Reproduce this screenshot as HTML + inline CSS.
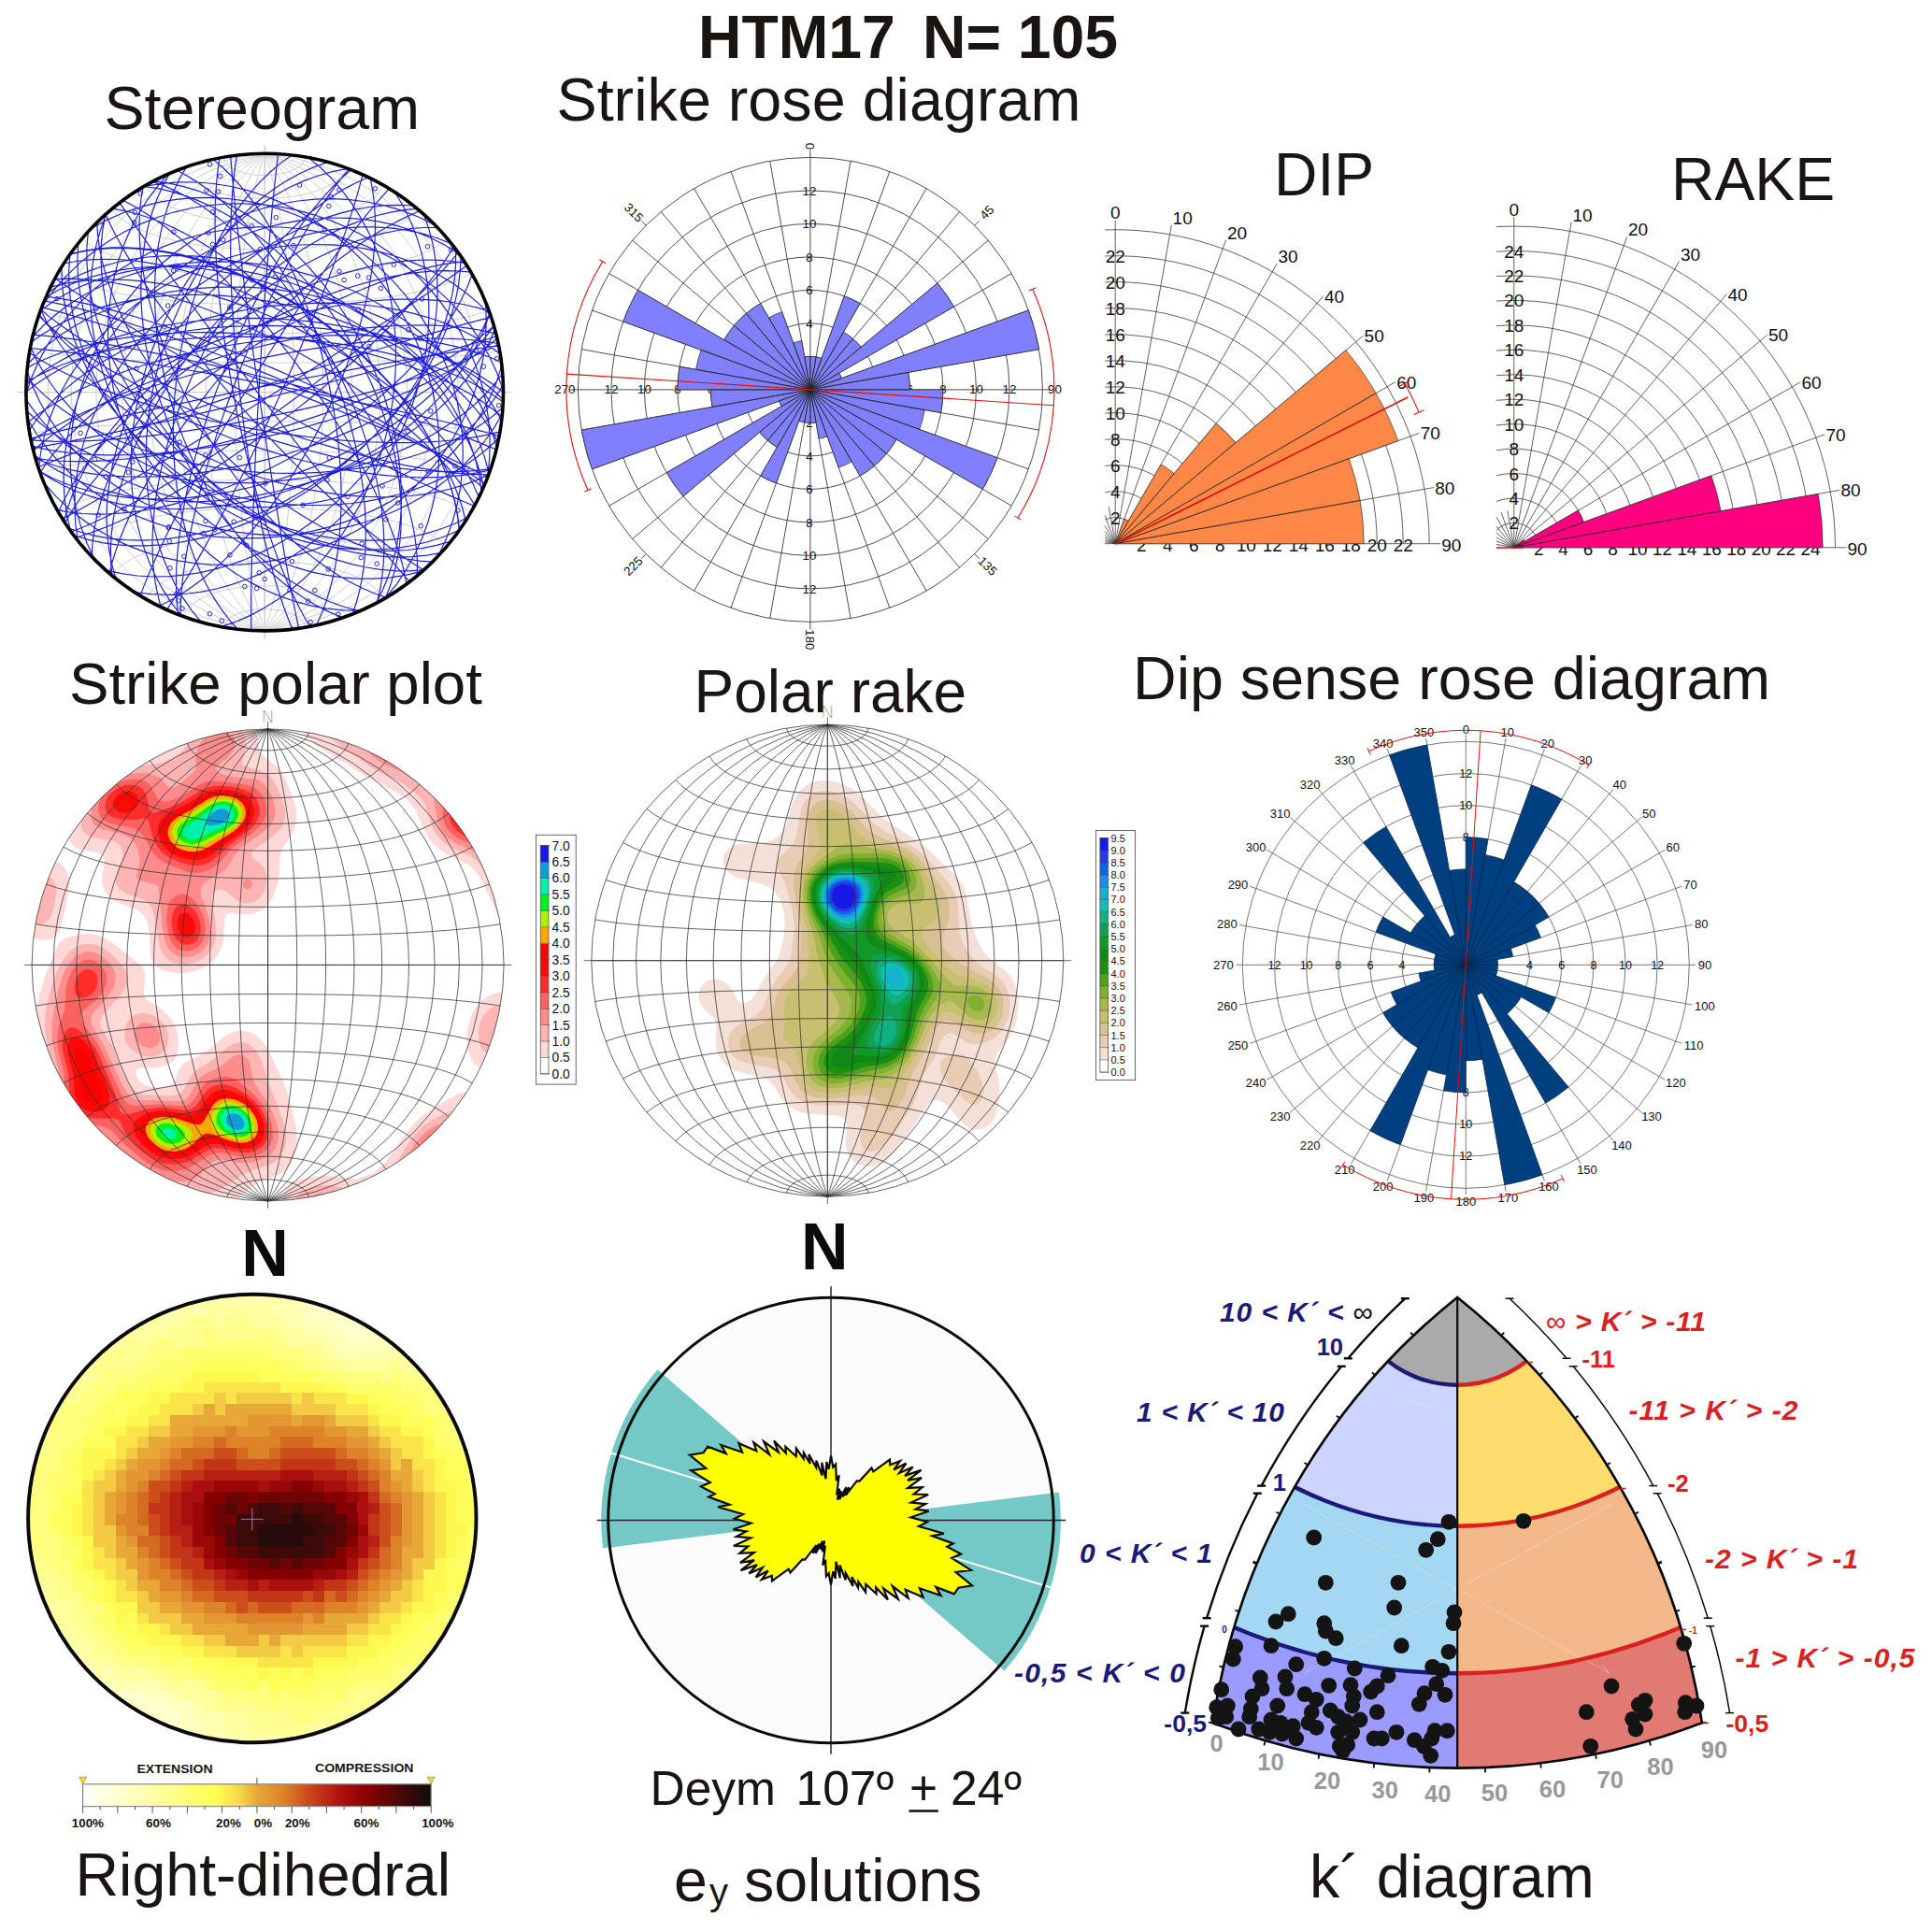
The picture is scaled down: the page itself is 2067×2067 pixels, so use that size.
<!DOCTYPE html>
<html><head><meta charset="utf-8"><title>HTM17</title>
<style>html,body{margin:0;padding:0;background:#fff}body{width:2067px;height:2067px;overflow:hidden;font-family:"Liberation Sans",sans-serif}svg{display:block}</style>
</head><body>
<svg width="2067" height="2067" viewBox="0 0 2067 2067" font-family="Liberation Sans, sans-serif">
<rect width="2067" height="2067" fill="#fff"/>
<g font-family="Liberation Sans, sans-serif"><text x="747" y="62" font-size="64.3" font-weight="bold" fill="#1a1512">HTM17</text><text x="987" y="62" font-size="64.3" font-weight="bold" fill="#1a1512">N= 105</text><text x="111.5" y="137.5" font-size="64.6" fill="#1a1512">Stereogram</text><text x="595.5" y="129" font-size="64.7" fill="#1a1512">Strike rose diagram</text><text x="1363" y="208.5" font-size="64.3" fill="#1a1512">DIP</text><text x="1788" y="214" font-size="64.3" fill="#1a1512">RAKE</text></g>
<g id="strikerose">
<g fill="none" stroke="#3a3a3a" stroke-width="0.9"><circle cx="866.9" cy="416.9" r="35.5"/><circle cx="866.9" cy="416.9" r="71"/><circle cx="866.9" cy="416.9" r="106.5"/><circle cx="866.9" cy="416.9" r="142"/><circle cx="866.9" cy="416.9" r="177.5"/><circle cx="866.9" cy="416.9" r="213"/><circle cx="866.9" cy="416.9" r="248.5"/><line x1="866.9" y1="416.9" x2="866.9" y2="160.4"/><line x1="866.9" y1="416.9" x2="910.1" y2="172.2"/><line x1="866.9" y1="416.9" x2="951.9" y2="183.4"/><line x1="866.9" y1="416.9" x2="991.1" y2="201.7"/><line x1="866.9" y1="416.9" x2="1026.6" y2="226.5"/><line x1="866.9" y1="416.9" x2="1057.3" y2="257.2"/><line x1="866.9" y1="416.9" x2="1082.1" y2="292.6"/><line x1="866.9" y1="416.9" x2="1100.4" y2="331.9"/><line x1="866.9" y1="416.9" x2="1111.6" y2="373.7"/><line x1="866.9" y1="416.9" x2="1123.4" y2="416.9"/><line x1="866.9" y1="416.9" x2="1111.6" y2="460.1"/><line x1="866.9" y1="416.9" x2="1100.4" y2="501.9"/><line x1="866.9" y1="416.9" x2="1082.1" y2="541.1"/><line x1="866.9" y1="416.9" x2="1057.3" y2="576.6"/><line x1="866.9" y1="416.9" x2="1026.6" y2="607.3"/><line x1="866.9" y1="416.9" x2="991.1" y2="632.1"/><line x1="866.9" y1="416.9" x2="951.9" y2="650.4"/><line x1="866.9" y1="416.9" x2="910.1" y2="661.6"/><line x1="866.9" y1="416.9" x2="866.9" y2="673.4"/><line x1="866.9" y1="416.9" x2="823.7" y2="661.6"/><line x1="866.9" y1="416.9" x2="781.9" y2="650.4"/><line x1="866.9" y1="416.9" x2="742.6" y2="632.1"/><line x1="866.9" y1="416.9" x2="707.2" y2="607.3"/><line x1="866.9" y1="416.9" x2="676.5" y2="576.6"/><line x1="866.9" y1="416.9" x2="651.7" y2="541.2"/><line x1="866.9" y1="416.9" x2="633.4" y2="501.9"/><line x1="866.9" y1="416.9" x2="622.2" y2="460.1"/><line x1="866.9" y1="416.9" x2="610.4" y2="416.9"/><line x1="866.9" y1="416.9" x2="622.2" y2="373.7"/><line x1="866.9" y1="416.9" x2="633.4" y2="331.9"/><line x1="866.9" y1="416.9" x2="651.7" y2="292.6"/><line x1="866.9" y1="416.9" x2="676.5" y2="257.2"/><line x1="866.9" y1="416.9" x2="707.2" y2="226.5"/><line x1="866.9" y1="416.9" x2="742.6" y2="201.7"/><line x1="866.9" y1="416.9" x2="781.9" y2="183.4"/><line x1="866.9" y1="416.9" x2="823.7" y2="172.2"/><line x1="1042.6" y1="241.2" x2="1047.6" y2="236.2"/><line x1="1042.6" y1="592.6" x2="1047.6" y2="597.6"/><line x1="691.2" y1="592.6" x2="686.2" y2="597.6"/><line x1="691.2" y1="241.2" x2="686.2" y2="236.2"/></g>
<g font-family="Liberation Sans, sans-serif"><text x="865.9" y="457.4" font-size="13.3" text-anchor="middle" fill="#111">2</text><text x="902.4" y="421.4" font-size="13.3" text-anchor="middle" fill="#111">2</text><text x="831.4" y="421.4" font-size="13.3" text-anchor="middle" fill="#111">2</text><text x="865.9" y="350.9" font-size="13.3" text-anchor="middle" fill="#111">4</text><text x="865.9" y="492.9" font-size="13.3" text-anchor="middle" fill="#111">4</text><text x="937.9" y="421.4" font-size="13.3" text-anchor="middle" fill="#111">4</text><text x="795.9" y="421.4" font-size="13.3" text-anchor="middle" fill="#111">4</text><text x="865.9" y="315.4" font-size="13.3" text-anchor="middle" fill="#111">6</text><text x="865.9" y="528.4" font-size="13.3" text-anchor="middle" fill="#111">6</text><text x="973.4" y="421.4" font-size="13.3" text-anchor="middle" fill="#111">6</text><text x="760.4" y="421.4" font-size="13.3" text-anchor="middle" fill="#111">6</text><text x="865.9" y="279.9" font-size="13.3" text-anchor="middle" fill="#111">8</text><text x="865.9" y="563.9" font-size="13.3" text-anchor="middle" fill="#111">8</text><text x="1008.9" y="421.4" font-size="13.3" text-anchor="middle" fill="#111">8</text><text x="724.9" y="421.4" font-size="13.3" text-anchor="middle" fill="#111">8</text><text x="865.9" y="244.4" font-size="13.3" text-anchor="middle" fill="#111">10</text><text x="865.9" y="599.4" font-size="13.3" text-anchor="middle" fill="#111">10</text><text x="1044.4" y="421.4" font-size="13.3" text-anchor="middle" fill="#111">10</text><text x="689.4" y="421.4" font-size="13.3" text-anchor="middle" fill="#111">10</text><text x="865.9" y="208.9" font-size="13.3" text-anchor="middle" fill="#111">12</text><text x="865.9" y="634.9" font-size="13.3" text-anchor="middle" fill="#111">12</text><text x="1079.9" y="421.4" font-size="13.3" text-anchor="middle" fill="#111">12</text><text x="653.9" y="421.4" font-size="13.3" text-anchor="middle" fill="#111">12</text><text font-size="13.3" fill="#111" text-anchor="middle" transform="translate(862.4,156.4) rotate(90)">0</text><text font-size="13.3" fill="#111" text-anchor="middle" transform="translate(862.4,684.4) rotate(90)">180</text><text x="1128.4" y="421.4" font-size="13.3" text-anchor="middle" fill="#111">90</text><text x="604.4" y="421.4" font-size="13.3" text-anchor="middle" fill="#111">270</text><text font-size="13.3" fill="#111" text-anchor="middle" transform="translate(1056.1,227.7) rotate(-45)" dy="4">45</text><text font-size="13.3" fill="#111" text-anchor="middle" transform="translate(1056.1,606.1) rotate(45)" dy="4">135</text><text font-size="13.3" fill="#111" text-anchor="middle" transform="translate(677.7,606.1) rotate(-45)" dy="4">225</text><text font-size="13.3" fill="#111" text-anchor="middle" transform="translate(677.7,227.7) rotate(45)" dy="4">315</text></g>
<path d="M866.9 416.9L866.9 381.4A35.5 35.5 0 0 1 873.1 381.9ZM866.9 416.9L866.9 452.4A35.5 35.5 0 0 1 860.7 451.9ZM866.9 416.9L873.1 381.9A35.5 35.5 0 0 1 879 383.5ZM866.9 416.9L860.7 451.9A35.5 35.5 0 0 1 854.8 450.3ZM866.9 416.9L903.3 316.8A106.5 106.5 0 0 1 920.1 324.7ZM866.9 416.9L830.5 517A106.5 106.5 0 0 1 813.6 509.1ZM866.9 416.9L902.4 355.4A71 71 0 0 1 912.5 362.5ZM866.9 416.9L831.4 478.4A71 71 0 0 1 821.3 471.3ZM866.9 416.9L912.5 362.5A71 71 0 0 1 921.3 371.3ZM866.9 416.9L821.3 471.3A71 71 0 0 1 812.5 462.5ZM866.9 416.9L1002.9 302.8A177.5 177.5 0 0 1 1020.6 328.1ZM866.9 416.9L730.9 531A177.5 177.5 0 0 1 713.2 505.7ZM866.9 416.9L897.6 399.1A35.5 35.5 0 0 1 900.3 404.8ZM866.9 416.9L836.2 434.6A35.5 35.5 0 0 1 833.5 429ZM866.9 416.9L1100.4 331.9A248.5 248.5 0 0 1 1111.6 373.7ZM866.9 416.9L633.4 501.9A248.5 248.5 0 0 1 622.2 460.1ZM866.9 416.9L971.8 398.4A106.5 106.5 0 0 1 973.4 416.9ZM866.9 416.9L762 435.4A106.5 106.5 0 0 1 760.4 416.9ZM866.9 416.9L1008.9 416.9A142 142 0 0 1 1006.7 441.6ZM866.9 416.9L724.9 416.9A142 142 0 0 1 727.1 392.2ZM866.9 416.9L989.3 438.5A124.2 124.2 0 0 1 983.7 459.4ZM866.9 416.9L744.5 395.3A124.2 124.2 0 0 1 750.1 374.4ZM866.9 416.9L1067.1 489.8A213 213 0 0 1 1051.4 523.4ZM866.9 416.9L666.7 344A213 213 0 0 1 682.4 310.4ZM866.9 416.9L959.1 470.1A106.5 106.5 0 0 1 948.5 485.4ZM866.9 416.9L774.7 363.6A106.5 106.5 0 0 1 785.3 348.4ZM866.9 416.9L948.5 485.4A106.5 106.5 0 0 1 935.4 498.5ZM866.9 416.9L785.3 348.4A106.5 106.5 0 0 1 798.4 335.3ZM866.9 416.9L935.4 498.5A106.5 106.5 0 0 1 920.1 509.1ZM866.9 416.9L798.4 335.3A106.5 106.5 0 0 1 813.6 324.7ZM866.9 416.9L911.3 493.8A88.8 88.8 0 0 1 897.3 500.3ZM866.9 416.9L822.5 340A88.8 88.8 0 0 1 836.5 333.5ZM866.9 416.9L885.1 466.9A53.2 53.2 0 0 1 876.1 469.3ZM866.9 416.9L848.7 366.9A53.2 53.2 0 0 1 857.7 364.5ZM866.9 416.9L873.1 451.9A35.5 35.5 0 0 1 866.9 452.4ZM866.9 416.9L860.7 381.9A35.5 35.5 0 0 1 866.9 381.4Z" fill="#8080ff" stroke="#222" stroke-width="0.7" stroke-linejoin="round"/>
<g fill="none" stroke="#e01010" stroke-width="1.1"><line x1="1127.4" y1="433.7" x2="606.4" y2="400.1"/><path d="M1104.8 309.5A261 261 0 0 1 1089 554"/><line x1="1101.1" y1="311.1" x2="1108.4" y2="307.8"/><line x1="1085.6" y1="551.9" x2="1092.4" y2="556.1"/><path d="M629 524.3A261 261 0 0 1 644.8 279.8"/><line x1="632.7" y1="522.7" x2="625.4" y2="526"/><line x1="648.2" y1="281.9" x2="641.4" y2="277.7"/></g>
</g>
<g id="dip">
<g fill="none" stroke="#3a3a3a" stroke-width="0.8"><path d="M1182.2 556A28 28 0 0 1 1221.2 581.7"/><path d="M1182.2 526.8A56 56 0 0 1 1249.2 581.7"/><path d="M1182.2 498.4A84 84 0 0 1 1277.2 581.7"/><path d="M1182.2 470.2A112 112 0 0 1 1305.2 581.7"/><path d="M1182.2 442.1A140 140 0 0 1 1333.2 581.7"/><path d="M1182.2 414.1A168 168 0 0 1 1361.2 581.7"/><path d="M1182.2 386A196 196 0 0 1 1389.2 581.7"/><path d="M1182.2 358A224 224 0 0 1 1417.2 581.7"/><path d="M1182.2 329.9A252 252 0 0 1 1445.2 581.7"/><path d="M1182.2 301.9A280 280 0 0 1 1473.2 581.7"/><path d="M1182.2 273.9A308 308 0 0 1 1501.2 581.7"/><path d="M1182.2 245.9A336 336 0 0 1 1529.2 581.7"/><line x1="1193.2" y1="581.7" x2="1193.2" y2="235.7"/><line x1="1193.2" y1="581.7" x2="1253.3" y2="241"/><line x1="1193.2" y1="581.7" x2="1311.6" y2="256.6"/><line x1="1193.2" y1="581.7" x2="1366.2" y2="282.1"/><line x1="1193.2" y1="581.7" x2="1415.7" y2="316.6"/><line x1="1193.2" y1="581.7" x2="1458.3" y2="359.3"/><line x1="1193.2" y1="581.7" x2="1492.9" y2="408.7"/><line x1="1193.2" y1="581.7" x2="1518.4" y2="463.4"/><line x1="1193.2" y1="581.7" x2="1534" y2="521.6"/><line x1="1193.2" y1="581.7" x2="1541.2" y2="581.7"/><line x1="1193.2" y1="581.7" x2="1182.2" y2="579.8"/><line x1="1193.2" y1="581.7" x2="1182.2" y2="577.7"/><line x1="1193.2" y1="581.7" x2="1182.2" y2="575.3"/><line x1="1193.2" y1="581.7" x2="1182.2" y2="572.5"/><line x1="1193.2" y1="581.7" x2="1182.2" y2="568.6"/><line x1="1193.2" y1="581.7" x2="1182.2" y2="562.6"/><line x1="1193.2" y1="581.7" x2="1182.2" y2="551.5"/><line x1="1193.2" y1="581.7" x2="1186.3" y2="542.3"/><line x1="1182.2" y1="581.7" x2="1193.2" y2="581.7"/></g>
<g font-family="Liberation Sans, sans-serif"><text x="1193.2" y="560.7" font-size="19" text-anchor="middle" fill="#111">2</text><text x="1221.2" y="590" font-size="19" text-anchor="middle" fill="#111">2</text><text x="1193.2" y="532.7" font-size="19" text-anchor="middle" fill="#111">4</text><text x="1249.2" y="590" font-size="19" text-anchor="middle" fill="#111">4</text><text x="1193.2" y="504.7" font-size="19" text-anchor="middle" fill="#111">6</text><text x="1277.2" y="590" font-size="19" text-anchor="middle" fill="#111">6</text><text x="1193.2" y="476.7" font-size="19" text-anchor="middle" fill="#111">8</text><text x="1305.2" y="590" font-size="19" text-anchor="middle" fill="#111">8</text><text x="1193.2" y="448.7" font-size="19" text-anchor="middle" fill="#111">10</text><text x="1333.2" y="590" font-size="19" text-anchor="middle" fill="#111">10</text><text x="1193.2" y="420.7" font-size="19" text-anchor="middle" fill="#111">12</text><text x="1361.2" y="590" font-size="19" text-anchor="middle" fill="#111">12</text><text x="1193.2" y="392.7" font-size="19" text-anchor="middle" fill="#111">14</text><text x="1389.2" y="590" font-size="19" text-anchor="middle" fill="#111">14</text><text x="1193.2" y="364.7" font-size="19" text-anchor="middle" fill="#111">16</text><text x="1417.2" y="590" font-size="19" text-anchor="middle" fill="#111">16</text><text x="1193.2" y="336.7" font-size="19" text-anchor="middle" fill="#111">18</text><text x="1445.2" y="590" font-size="19" text-anchor="middle" fill="#111">18</text><text x="1193.2" y="308.7" font-size="19" text-anchor="middle" fill="#111">20</text><text x="1473.2" y="590" font-size="19" text-anchor="middle" fill="#111">20</text><text x="1193.2" y="280.7" font-size="19" text-anchor="middle" fill="#111">22</text><text x="1501.2" y="590" font-size="19" text-anchor="middle" fill="#111">22</text><text x="1193.2" y="234.2" font-size="19" text-anchor="middle" fill="#111">0</text><text x="1254.6" y="240" font-size="19" fill="#111">10</text><text x="1312.9" y="255.6" font-size="19" fill="#111">20</text><text x="1367.5" y="281.1" font-size="19" fill="#111">30</text><text x="1417" y="323.6" font-size="19" fill="#111">40</text><text x="1459.6" y="366.3" font-size="19" fill="#111">50</text><text x="1494.2" y="415.7" font-size="19" fill="#111">60</text><text x="1519.7" y="470.4" font-size="19" fill="#111">70</text><text x="1535.3" y="528.6" font-size="19" fill="#111">80</text><text x="1542.2" y="590" font-size="19" fill="#111">90</text></g>
<path d="M1193.2 581.7L1202.8 555.4A28 28 0 0 1 1207.2 557.5ZM1193.2 581.7L1242.2 496.8A98 98 0 0 1 1256.2 506.6ZM1193.2 581.7L1301.2 453A168 168 0 0 1 1321.9 473.7ZM1193.2 581.7L1439.9 374.7A322 322 0 0 1 1472.1 420.7ZM1193.2 581.7L1472.1 420.7A322 322 0 0 1 1495.8 471.6ZM1193.2 581.7L1443.2 490.7A266 266 0 0 1 1455.2 535.5ZM1193.2 581.7L1455.2 535.5A266 266 0 0 1 1459.2 581.7Z" fill="#ff8848" stroke="#222" stroke-width="0.6" stroke-linejoin="round"/>
<g fill="none" stroke="#e01010" stroke-width="1.1"><line x1="1193.2" y1="581.7" x2="1506.2" y2="425" stroke-width="1.6"/><path d="M1502.9 410.1A354 354 0 0 1 1518.1 441.1"/><line x1="1497.6" y1="413" x2="1508.1" y2="407.2"/><line x1="1512.6" y1="443.5" x2="1523.6" y2="438.7"/></g>
</g>
<g id="rake">
<g fill="none" stroke="#3a3a3a" stroke-width="0.8"><path d="M1600.8 567.4A26.4 26.4 0 0 1 1646.2 585.8"/><path d="M1600.8 536.5A52.9 52.9 0 0 1 1672.6 585.8"/><path d="M1600.8 508.8A79.3 79.3 0 0 1 1699.1 585.8"/><path d="M1600.8 481.8A105.8 105.8 0 0 1 1725.5 585.8"/><path d="M1600.8 455A132.2 132.2 0 0 1 1752 585.8"/><path d="M1600.8 428.3A158.6 158.6 0 0 1 1778.4 585.8"/><path d="M1600.8 401.7A185.1 185.1 0 0 1 1804.8 585.8"/><path d="M1600.8 375.1A211.5 211.5 0 0 1 1831.3 585.8"/><path d="M1600.8 348.6A238 238 0 0 1 1857.7 585.8"/><path d="M1600.8 322.1A264.4 264.4 0 0 1 1884.2 585.8"/><path d="M1600.8 295.6A290.8 290.8 0 0 1 1910.6 585.8"/><path d="M1600.8 269.1A317.3 317.3 0 0 1 1937 585.8"/><path d="M1600.8 242.6A343.7 343.7 0 0 1 1963.5 585.8"/><line x1="1619.8" y1="585.8" x2="1619.8" y2="232.1"/><line x1="1619.8" y1="585.8" x2="1681.2" y2="237.5"/><line x1="1619.8" y1="585.8" x2="1740.7" y2="253.4"/><line x1="1619.8" y1="585.8" x2="1796.6" y2="279.5"/><line x1="1619.8" y1="585.8" x2="1847.1" y2="314.8"/><line x1="1619.8" y1="585.8" x2="1890.7" y2="358.4"/><line x1="1619.8" y1="585.8" x2="1926.1" y2="408.9"/><line x1="1619.8" y1="585.8" x2="1952.1" y2="464.8"/><line x1="1619.8" y1="585.8" x2="1968.1" y2="524.4"/><line x1="1619.8" y1="585.8" x2="1975.5" y2="585.8"/><line x1="1619.8" y1="585.8" x2="1600.8" y2="582.4"/><line x1="1619.8" y1="585.8" x2="1600.8" y2="578.9"/><line x1="1619.8" y1="585.8" x2="1600.8" y2="574.8"/><line x1="1619.8" y1="585.8" x2="1600.8" y2="569.9"/><line x1="1619.8" y1="585.8" x2="1600.8" y2="563.2"/><line x1="1619.8" y1="585.8" x2="1600.8" y2="552.9"/><line x1="1619.8" y1="585.8" x2="1606.1" y2="548.2"/><line x1="1619.8" y1="585.8" x2="1612.8" y2="546.4"/><line x1="1600.8" y1="585.8" x2="1619.8" y2="585.8"/></g>
<g font-family="Liberation Sans, sans-serif"><text x="1619.8" y="566.4" font-size="19" text-anchor="middle" fill="#111">2</text><text x="1646.2" y="594.1" font-size="19" text-anchor="middle" fill="#111">2</text><text x="1619.8" y="539.9" font-size="19" text-anchor="middle" fill="#111">4</text><text x="1672.6" y="594.1" font-size="19" text-anchor="middle" fill="#111">4</text><text x="1619.8" y="513.5" font-size="19" text-anchor="middle" fill="#111">6</text><text x="1699.1" y="594.1" font-size="19" text-anchor="middle" fill="#111">6</text><text x="1619.8" y="487" font-size="19" text-anchor="middle" fill="#111">8</text><text x="1725.5" y="594.1" font-size="19" text-anchor="middle" fill="#111">8</text><text x="1619.8" y="460.6" font-size="19" text-anchor="middle" fill="#111">10</text><text x="1752" y="594.1" font-size="19" text-anchor="middle" fill="#111">10</text><text x="1619.8" y="434.2" font-size="19" text-anchor="middle" fill="#111">12</text><text x="1778.4" y="594.1" font-size="19" text-anchor="middle" fill="#111">12</text><text x="1619.8" y="407.7" font-size="19" text-anchor="middle" fill="#111">14</text><text x="1804.8" y="594.1" font-size="19" text-anchor="middle" fill="#111">14</text><text x="1619.8" y="381.3" font-size="19" text-anchor="middle" fill="#111">16</text><text x="1831.3" y="594.1" font-size="19" text-anchor="middle" fill="#111">16</text><text x="1619.8" y="354.8" font-size="19" text-anchor="middle" fill="#111">18</text><text x="1857.7" y="594.1" font-size="19" text-anchor="middle" fill="#111">18</text><text x="1619.8" y="328.4" font-size="19" text-anchor="middle" fill="#111">20</text><text x="1884.2" y="594.1" font-size="19" text-anchor="middle" fill="#111">20</text><text x="1619.8" y="302" font-size="19" text-anchor="middle" fill="#111">22</text><text x="1910.6" y="594.1" font-size="19" text-anchor="middle" fill="#111">22</text><text x="1619.8" y="275.5" font-size="19" text-anchor="middle" fill="#111">24</text><text x="1937" y="594.1" font-size="19" text-anchor="middle" fill="#111">24</text><text x="1619.8" y="230.6" font-size="19" text-anchor="middle" fill="#111">0</text><text x="1682.5" y="236.5" font-size="19" fill="#111">10</text><text x="1742" y="252.4" font-size="19" fill="#111">20</text><text x="1797.9" y="278.5" font-size="19" fill="#111">30</text><text x="1848.4" y="321.8" font-size="19" fill="#111">40</text><text x="1892" y="365.4" font-size="19" fill="#111">50</text><text x="1927.4" y="415.9" font-size="19" fill="#111">60</text><text x="1953.4" y="471.8" font-size="19" fill="#111">70</text><text x="1969.4" y="531.4" font-size="19" fill="#111">80</text><text x="1976.5" y="594.1" font-size="19" fill="#111">90</text></g>
<path d="M1619.8 585.8L1629.9 577.3A13.2 13.2 0 0 1 1631.2 579.2ZM1619.8 585.8L1688.4 546.1A79.3 79.3 0 0 1 1694.3 558.7ZM1619.8 585.8L1830.9 508.9A224.7 224.7 0 0 1 1841.1 546.8ZM1619.8 585.8L1945.2 528.4A330.5 330.5 0 0 1 1950.2 585.8Z" fill="#ff0080" stroke="#222" stroke-width="0.6" stroke-linejoin="round"/>
</g><line x1="1601" y1="586.1" x2="1630" y2="586.1" stroke="#e01010" stroke-width="1.2"/>
<g id="dipsense">
<g fill="none" stroke="#3a3a3a" stroke-width="0.8" opacity="0.85"><circle cx="1568.3" cy="1032.3" r="34.1"/><circle cx="1568.3" cy="1032.3" r="68.3"/><circle cx="1568.3" cy="1032.3" r="102.4"/><circle cx="1568.3" cy="1032.3" r="136.6"/><circle cx="1568.3" cy="1032.3" r="170.7"/><circle cx="1568.3" cy="1032.3" r="204.8"/><circle cx="1568.3" cy="1032.3" r="239"/><line x1="1568.3" y1="1032.3" x2="1568.3" y2="786.3"/><line x1="1568.3" y1="1032.3" x2="1611" y2="790.1"/><line x1="1568.3" y1="1032.3" x2="1652.4" y2="801.2"/><line x1="1568.3" y1="1032.3" x2="1691.3" y2="819.3"/><line x1="1568.3" y1="1032.3" x2="1726.4" y2="843.9"/><line x1="1568.3" y1="1032.3" x2="1756.7" y2="874.2"/><line x1="1568.3" y1="1032.3" x2="1781.3" y2="909.3"/><line x1="1568.3" y1="1032.3" x2="1799.4" y2="948.2"/><line x1="1568.3" y1="1032.3" x2="1810.5" y2="989.6"/><line x1="1568.3" y1="1032.3" x2="1814.3" y2="1032.3"/><line x1="1568.3" y1="1032.3" x2="1810.5" y2="1075"/><line x1="1568.3" y1="1032.3" x2="1799.4" y2="1116.4"/><line x1="1568.3" y1="1032.3" x2="1781.3" y2="1155.3"/><line x1="1568.3" y1="1032.3" x2="1756.7" y2="1190.4"/><line x1="1568.3" y1="1032.3" x2="1726.4" y2="1220.7"/><line x1="1568.3" y1="1032.3" x2="1691.3" y2="1245.3"/><line x1="1568.3" y1="1032.3" x2="1652.4" y2="1263.4"/><line x1="1568.3" y1="1032.3" x2="1611" y2="1274.5"/><line x1="1568.3" y1="1032.3" x2="1568.3" y2="1278.3"/><line x1="1568.3" y1="1032.3" x2="1525.6" y2="1274.5"/><line x1="1568.3" y1="1032.3" x2="1484.2" y2="1263.4"/><line x1="1568.3" y1="1032.3" x2="1445.3" y2="1245.3"/><line x1="1568.3" y1="1032.3" x2="1410.2" y2="1220.7"/><line x1="1568.3" y1="1032.3" x2="1379.9" y2="1190.4"/><line x1="1568.3" y1="1032.3" x2="1355.3" y2="1155.3"/><line x1="1568.3" y1="1032.3" x2="1337.2" y2="1116.4"/><line x1="1568.3" y1="1032.3" x2="1326.1" y2="1075"/><line x1="1568.3" y1="1032.3" x2="1322.3" y2="1032.3"/><line x1="1568.3" y1="1032.3" x2="1326.1" y2="989.6"/><line x1="1568.3" y1="1032.3" x2="1337.2" y2="948.2"/><line x1="1568.3" y1="1032.3" x2="1355.3" y2="909.3"/><line x1="1568.3" y1="1032.3" x2="1379.9" y2="874.2"/><line x1="1568.3" y1="1032.3" x2="1410.2" y2="843.9"/><line x1="1568.3" y1="1032.3" x2="1445.3" y2="819.3"/><line x1="1568.3" y1="1032.3" x2="1484.2" y2="801.2"/><line x1="1568.3" y1="1032.3" x2="1525.6" y2="790.1"/></g>
<g font-family="Liberation Sans, sans-serif"><text x="1636.6" y="1036.8" font-size="12.5" text-anchor="middle" fill="#111">4</text><text x="1500" y="1036.8" font-size="12.5" text-anchor="middle" fill="#111">4</text><text x="1670.7" y="1036.8" font-size="12.5" text-anchor="middle" fill="#111">6</text><text x="1465.9" y="1036.8" font-size="12.5" text-anchor="middle" fill="#111">6</text><text x="1568.3" y="899.7" font-size="12.5" text-anchor="middle" fill="#111">8</text><text x="1568.3" y="1172.9" font-size="12.5" text-anchor="middle" fill="#111">8</text><text x="1704.9" y="1036.8" font-size="12.5" text-anchor="middle" fill="#111">8</text><text x="1431.7" y="1036.8" font-size="12.5" text-anchor="middle" fill="#111">8</text><text x="1568.3" y="865.6" font-size="12.5" text-anchor="middle" fill="#111">10</text><text x="1568.3" y="1207" font-size="12.5" text-anchor="middle" fill="#111">10</text><text x="1739" y="1036.8" font-size="12.5" text-anchor="middle" fill="#111">10</text><text x="1397.6" y="1036.8" font-size="12.5" text-anchor="middle" fill="#111">10</text><text x="1568.3" y="831.5" font-size="12.5" text-anchor="middle" fill="#111">12</text><text x="1568.3" y="1241.1" font-size="12.5" text-anchor="middle" fill="#111">12</text><text x="1773.1" y="1036.8" font-size="12.5" text-anchor="middle" fill="#111">12</text><text x="1363.5" y="1036.8" font-size="12.5" text-anchor="middle" fill="#111">12</text><text x="1568.3" y="784.5" font-size="13" text-anchor="middle" fill="#111">0</text><text x="1612.7" y="788.4" font-size="13" text-anchor="middle" fill="#111">10</text><text x="1655.8" y="799.7" font-size="13" text-anchor="middle" fill="#111">20</text><text x="1696.2" y="818.3" font-size="13" text-anchor="middle" fill="#111">30</text><text x="1732.7" y="843.6" font-size="13" text-anchor="middle" fill="#111">40</text><text x="1764.2" y="874.7" font-size="13" text-anchor="middle" fill="#111">50</text><text x="1789.8" y="910.8" font-size="13" text-anchor="middle" fill="#111">60</text><text x="1808.6" y="950.6" font-size="13" text-anchor="middle" fill="#111">70</text><text x="1820.2" y="993.2" font-size="13" text-anchor="middle" fill="#111">80</text><text x="1824.1" y="1037" font-size="13" text-anchor="middle" fill="#111">90</text><text x="1823.8" y="1080.8" font-size="13" text-anchor="middle" fill="#111">100</text><text x="1812.1" y="1123.4" font-size="13" text-anchor="middle" fill="#111">110</text><text x="1792.9" y="1163.2" font-size="13" text-anchor="middle" fill="#111">120</text><text x="1767" y="1199.3" font-size="13" text-anchor="middle" fill="#111">130</text><text x="1735" y="1230.4" font-size="13" text-anchor="middle" fill="#111">140</text><text x="1698" y="1255.7" font-size="13" text-anchor="middle" fill="#111">150</text><text x="1657" y="1274.3" font-size="13" text-anchor="middle" fill="#111">160</text><text x="1613.3" y="1285.6" font-size="13" text-anchor="middle" fill="#111">170</text><text x="1568.3" y="1289.5" font-size="13" text-anchor="middle" fill="#111">180</text><text x="1523.3" y="1285.6" font-size="13" text-anchor="middle" fill="#111">190</text><text x="1479.6" y="1274.3" font-size="13" text-anchor="middle" fill="#111">200</text><text x="1438.6" y="1255.7" font-size="13" text-anchor="middle" fill="#111">210</text><text x="1401.6" y="1230.4" font-size="13" text-anchor="middle" fill="#111">220</text><text x="1369.6" y="1199.3" font-size="13" text-anchor="middle" fill="#111">230</text><text x="1343.7" y="1163.2" font-size="13" text-anchor="middle" fill="#111">240</text><text x="1324.5" y="1123.4" font-size="13" text-anchor="middle" fill="#111">250</text><text x="1312.8" y="1080.8" font-size="13" text-anchor="middle" fill="#111">260</text><text x="1308.9" y="1037" font-size="13" text-anchor="middle" fill="#111">270</text><text x="1312.8" y="993.2" font-size="13" text-anchor="middle" fill="#111">280</text><text x="1324.5" y="950.6" font-size="13" text-anchor="middle" fill="#111">290</text><text x="1343.7" y="910.8" font-size="13" text-anchor="middle" fill="#111">300</text><text x="1369.6" y="874.7" font-size="13" text-anchor="middle" fill="#111">310</text><text x="1401.6" y="843.6" font-size="13" text-anchor="middle" fill="#111">320</text><text x="1438.6" y="818.3" font-size="13" text-anchor="middle" fill="#111">330</text><text x="1479.6" y="799.7" font-size="13" text-anchor="middle" fill="#111">340</text><text x="1523.3" y="788.4" font-size="13" text-anchor="middle" fill="#111">350</text></g>
<path d="M1568.3 1032.3L1568.3 895.7A136.6 136.6 0 0 1 1592 897.8ZM1568.3 1032.3L1568.3 1168.9A136.6 136.6 0 0 1 1544.6 1166.8ZM1568.3 1032.3L1589 914.6A119.5 119.5 0 0 1 1609.2 920ZM1568.3 1032.3L1547.6 1150A119.5 119.5 0 0 1 1527.4 1144.6ZM1568.3 1032.3L1638.4 839.8A204.8 204.8 0 0 1 1670.7 854.9ZM1568.3 1032.3L1498.2 1224.8A204.8 204.8 0 0 1 1465.9 1209.7ZM1568.3 1032.3L1619.5 943.6A102.4 102.4 0 0 1 1634.1 953.8ZM1568.3 1032.3L1517.1 1121A102.4 102.4 0 0 1 1502.5 1110.8ZM1568.3 1032.3L1634.1 953.8A102.4 102.4 0 0 1 1646.8 966.5ZM1568.3 1032.3L1502.5 1110.8A102.4 102.4 0 0 1 1489.8 1098.1ZM1568.3 1032.3L1646.8 966.5A102.4 102.4 0 0 1 1657 981.1ZM1568.3 1032.3L1489.8 1098.1A102.4 102.4 0 0 1 1479.6 1083.5ZM1568.3 1032.3L1642.2 989.6A85.3 85.3 0 0 1 1648.5 1003.1ZM1568.3 1032.3L1494.4 1075A85.3 85.3 0 0 1 1488.1 1061.5ZM1568.3 1032.3L1616.4 1014.8A51.2 51.2 0 0 1 1618.7 1023.4ZM1568.3 1032.3L1520.2 1049.8A51.2 51.2 0 0 1 1517.9 1041.2ZM1568.3 1032.3L1601.9 1026.4A34.1 34.1 0 0 1 1602.4 1032.3ZM1568.3 1032.3L1534.7 1038.2A34.1 34.1 0 0 1 1534.2 1032.3ZM1568.3 1032.3L1602.4 1032.3A34.1 34.1 0 0 1 1601.9 1038.2ZM1568.3 1032.3L1534.2 1032.3A34.1 34.1 0 0 1 1534.7 1026.4ZM1568.3 1032.3L1601.9 1038.2A34.1 34.1 0 0 1 1600.4 1044ZM1568.3 1032.3L1534.7 1026.4A34.1 34.1 0 0 1 1536.2 1020.6ZM1568.3 1032.3L1664.5 1067.3A102.4 102.4 0 0 1 1657 1083.5ZM1568.3 1032.3L1472.1 997.3A102.4 102.4 0 0 1 1479.6 981.1ZM1568.3 1032.3L1627.4 1066.4A68.3 68.3 0 0 1 1620.6 1076.2ZM1568.3 1032.3L1509.2 998.2A68.3 68.3 0 0 1 1516 988.4ZM1568.3 1032.3L1620.6 1076.2A68.3 68.3 0 0 1 1612.2 1084.6ZM1568.3 1032.3L1516 988.4A68.3 68.3 0 0 1 1524.4 980ZM1568.3 1032.3L1678 1163.1A170.7 170.7 0 0 1 1653.6 1180.1ZM1568.3 1032.3L1458.6 901.5A170.7 170.7 0 0 1 1482.9 884.5ZM1568.3 1032.3L1585.4 1061.9A34.1 34.1 0 0 1 1580 1064.4ZM1568.3 1032.3L1551.2 1002.7A34.1 34.1 0 0 1 1556.6 1000.2ZM1568.3 1032.3L1650 1256.9A239 239 0 0 1 1609.8 1267.6ZM1568.3 1032.3L1486.6 807.7A239 239 0 0 1 1526.8 797ZM1568.3 1032.3L1586.1 1133.2A102.4 102.4 0 0 1 1568.3 1134.7ZM1568.3 1032.3L1550.5 931.4A102.4 102.4 0 0 1 1568.3 929.9Z" fill="#004080" stroke="#002850" stroke-width="0.6" stroke-linejoin="round"/>
<g fill="none" stroke="#e01010" stroke-width="1"><line x1="1584.1" y1="781.8" x2="1552.5" y2="1282.8"/><path d="M1464.6 803.7A251 251 0 0 1 1699.8 818.5"/><line x1="1466.3" y1="807.4" x2="1463" y2="800.1"/><line x1="1697.7" y1="821.9" x2="1701.9" y2="815.1"/><path d="M1672 1260.9A251 251 0 0 1 1436.8 1246.1"/><line x1="1670.3" y1="1257.2" x2="1673.6" y2="1264.5"/><line x1="1438.9" y1="1242.7" x2="1434.7" y2="1249.5"/></g>
</g>
<g id="stereo">
<g fill="none" stroke="#cfcfcf" stroke-width="1"><path d="M283.2 674.9 L250.7 669.9 L219.5 660.8 L190 648 L162.6 631.7 L137.6 612.2 L115.4 590 L96.2 565.3 L80.2 538.6 L67.6 510.3 L58.5 480.7 L53 450.4 L51.1 419.6 L53 388.8 L58.5 358.5 L67.6 328.9 L80.2 300.6 L96.2 273.9 L115.4 249.2 L137.6 227 L162.6 207.5 L190 191.2 L219.5 178.4 L250.7 169.3 L283.2 164.3"/><path d="M283.2 674.9 L252.6 667.2 L223.7 656 L196.9 641.4 L172.4 623.9 L150.3 603.9 L131 581.6 L114.4 557.4 L100.7 531.7 L90 504.8 L82.3 476.9 L77.7 448.4 L76.1 419.6 L77.7 390.8 L82.3 362.3 L90 334.4 L100.7 307.5 L114.4 281.8 L131 257.6 L150.3 235.3 L172.4 215.3 L196.9 197.8 L223.7 183.2 L252.6 172 L283.2 164.3"/><path d="M283.2 674.9 L255.2 664.8 L229.4 651.6 L205.7 635.7 L184.3 617.4 L165.4 596.9 L148.8 574.8 L134.8 551.1 L123.2 526.2 L114.3 500.4 L107.8 473.9 L104 446.8 L102.7 419.6 L104 392.4 L107.8 365.3 L114.3 338.8 L123.2 313 L134.8 288.1 L148.8 264.4 L165.4 242.3 L184.3 221.8 L205.7 203.5 L229.4 187.6 L255.2 174.4 L283.2 164.3"/><path d="M283.2 674.9 L258.7 662.7 L236.3 647.9 L216.2 630.9 L198.1 611.9 L182.3 591.3 L168.5 569.3 L156.9 546.1 L147.5 521.9 L140.1 497 L134.8 471.5 L131.7 445.6 L130.6 419.6 L131.7 393.6 L134.8 367.7 L140.1 342.2 L147.5 317.3 L156.9 293.1 L168.5 269.9 L182.3 247.9 L198.1 227.3 L216.2 208.3 L236.3 191.3 L258.7 176.5 L283.2 164.3"/><path d="M283.2 674.9 L262.8 660.9 L244.4 644.9 L228 627 L213.4 607.6 L200.7 586.9 L189.7 565 L180.5 542.2 L173 518.6 L167.2 494.4 L163 469.7 L160.5 444.7 L159.7 419.6 L160.5 394.5 L163 369.5 L167.2 344.8 L173 320.6 L180.5 297 L189.7 274.2 L200.7 252.3 L213.4 231.6 L228 212.2 L244.4 194.3 L262.8 178.3 L283.2 164.3"/><path d="M283.2 674.9 L267.4 659.5 L253.3 642.5 L240.9 624 L229.9 604.3 L220.3 583.5 L212.1 561.8 L205.2 539.3 L199.6 516.1 L195.3 492.4 L192.2 468.4 L190.4 444 L189.8 419.6 L190.4 395.2 L192.2 370.8 L195.3 346.8 L199.6 323.1 L205.2 299.9 L212.1 277.4 L220.3 255.7 L229.9 234.9 L240.9 215.2 L253.3 196.7 L267.4 179.7 L283.2 164.3"/><path d="M283.2 674.9 L272.4 658.5 L262.9 640.8 L254.5 621.9 L247.2 602 L240.8 581.1 L235.3 559.5 L230.8 537.2 L227.1 514.4 L224.2 491.1 L222.1 467.4 L220.9 443.6 L220.5 419.6 L220.9 395.6 L222.1 371.8 L224.2 348.1 L227.1 324.8 L230.8 302 L235.3 279.7 L240.8 258.1 L247.2 237.2 L254.5 217.3 L262.9 198.4 L272.4 180.7 L283.2 164.3"/><path d="M283.2 674.9 L277.8 657.9 L273 639.7 L268.7 620.6 L265.1 600.6 L261.9 579.7 L259.1 558.2 L256.8 536 L255 513.4 L253.6 490.3 L252.5 466.9 L251.9 443.3 L251.7 419.6 L251.9 395.9 L252.5 372.3 L253.6 348.9 L255 325.8 L256.8 303.2 L259.1 281 L261.9 259.5 L265.1 238.6 L268.7 218.6 L273 199.5 L277.8 181.3 L283.2 164.3"/><path d="M283.2 674.9 L283.2 657.7 L283.2 639.4 L283.2 620.2 L283.2 600.1 L283.2 579.3 L283.2 557.8 L283.2 535.7 L283.2 513 L283.2 490 L283.2 466.7 L283.2 443.2 L283.2 419.6 L283.2 396 L283.2 372.5 L283.2 349.2 L283.2 326.2 L283.2 303.5 L283.2 281.4 L283.2 259.9 L283.2 239.1 L283.2 219 L283.2 199.8 L283.2 181.5 L283.2 164.3"/><path d="M283.2 674.9 L288.6 657.9 L293.4 639.7 L297.7 620.6 L301.3 600.6 L304.5 579.7 L307.3 558.2 L309.6 536 L311.4 513.4 L312.8 490.3 L313.9 466.9 L314.5 443.3 L314.7 419.6 L314.5 395.9 L313.9 372.3 L312.8 348.9 L311.4 325.8 L309.6 303.2 L307.3 281 L304.5 259.5 L301.3 238.6 L297.7 218.6 L293.4 199.5 L288.6 181.3 L283.2 164.3"/><path d="M283.2 674.9 L294 658.5 L303.5 640.8 L311.9 621.9 L319.2 602 L325.6 581.1 L331.1 559.5 L335.6 537.2 L339.3 514.4 L342.2 491.1 L344.3 467.4 L345.5 443.6 L345.9 419.6 L345.5 395.6 L344.3 371.8 L342.2 348.1 L339.3 324.8 L335.6 302 L331.1 279.7 L325.6 258.1 L319.2 237.2 L311.9 217.3 L303.5 198.4 L294 180.7 L283.2 164.3"/><path d="M283.2 674.9 L299 659.5 L313.1 642.5 L325.5 624 L336.5 604.3 L346.1 583.5 L354.3 561.8 L361.2 539.3 L366.8 516.1 L371.1 492.4 L374.2 468.4 L376 444 L376.6 419.6 L376 395.2 L374.2 370.8 L371.1 346.8 L366.8 323.1 L361.2 299.9 L354.3 277.4 L346.1 255.7 L336.5 234.9 L325.5 215.2 L313.1 196.7 L299 179.7 L283.2 164.3"/><path d="M283.2 674.9 L303.6 660.9 L322 644.9 L338.4 627 L353 607.6 L365.7 586.9 L376.7 565 L385.9 542.2 L393.4 518.6 L399.2 494.4 L403.4 469.7 L405.9 444.7 L406.7 419.6 L405.9 394.5 L403.4 369.5 L399.2 344.8 L393.4 320.6 L385.9 297 L376.7 274.2 L365.7 252.3 L353 231.6 L338.4 212.2 L322 194.3 L303.6 178.3 L283.2 164.3"/><path d="M283.2 674.9 L307.7 662.7 L330.1 647.9 L350.2 630.9 L368.3 611.9 L384.1 591.3 L397.9 569.3 L409.5 546.1 L418.9 521.9 L426.3 497 L431.6 471.5 L434.7 445.6 L435.8 419.6 L434.7 393.6 L431.6 367.7 L426.3 342.2 L418.9 317.3 L409.5 293.1 L397.9 269.9 L384.1 247.9 L368.3 227.3 L350.2 208.3 L330.1 191.3 L307.7 176.5 L283.2 164.3"/><path d="M283.2 674.9 L311.2 664.8 L337 651.6 L360.7 635.7 L382.1 617.4 L401 596.9 L417.6 574.8 L431.6 551.1 L443.2 526.2 L452.1 500.4 L458.6 473.9 L462.4 446.8 L463.7 419.6 L462.4 392.4 L458.6 365.3 L452.1 338.8 L443.2 313 L431.6 288.1 L417.6 264.4 L401 242.3 L382.1 221.8 L360.7 203.5 L337 187.6 L311.2 174.4 L283.2 164.3"/><path d="M283.2 674.9 L313.8 667.2 L342.7 656 L369.5 641.4 L394 623.9 L416.1 603.9 L435.4 581.6 L452 557.4 L465.7 531.7 L476.4 504.8 L484.1 476.9 L488.7 448.4 L490.3 419.6 L488.7 390.8 L484.1 362.3 L476.4 334.4 L465.7 307.5 L452 281.8 L435.4 257.6 L416.1 235.3 L394 215.3 L369.5 197.8 L342.7 183.2 L313.8 172 L283.2 164.3"/><path d="M283.2 674.9 L315.7 669.9 L346.9 660.8 L376.4 648 L403.8 631.7 L428.8 612.2 L451 590 L470.2 565.3 L486.2 538.6 L498.8 510.3 L507.9 480.7 L513.4 450.4 L515.3 419.6 L513.4 388.8 L507.9 358.5 L498.8 328.9 L486.2 300.6 L470.2 273.9 L451 249.2 L428.8 227 L403.8 207.5 L376.4 191.2 L346.9 178.4 L315.7 169.3 L283.2 164.3"/><path d="M238.9 671 L239.7 668.2 L241.3 665.6 L243.5 663.1 L246.4 660.8 L249.8 658.7 L253.6 656.9 L257.9 655.3 L262.5 654 L267.5 653 L272.6 652.3 L277.9 651.8 L283.2 651.7 L288.5 651.8 L293.8 652.3 L298.9 653 L303.9 654 L308.5 655.3 L312.8 656.9 L316.6 658.7 L320 660.8 L322.9 663.1 L325.1 665.6 L326.7 668.2 L327.5 671"/><path d="M195.9 659.5 L198.5 654.3 L202.4 649.5 L207.3 645.2 L213.3 641.3 L220.2 637.9 L227.8 634.9 L236.1 632.4 L244.9 630.3 L254.1 628.7 L263.6 627.6 L273.4 626.9 L283.2 626.7 L293 626.9 L302.8 627.6 L312.3 628.7 L321.5 630.3 L330.3 632.4 L338.6 634.9 L346.2 637.9 L353.1 641.3 L359.1 645.2 L364 649.5 L367.9 654.3 L370.5 659.5"/><path d="M155.5 640.7 L160.6 633.8 L167.2 627.6 L175.2 622.2 L184.3 617.4 L194.5 613.2 L205.6 609.6 L217.4 606.7 L229.9 604.3 L242.8 602.5 L256.1 601.2 L269.6 600.4 L283.2 600.1 L296.8 600.4 L310.3 601.2 L323.6 602.5 L336.5 604.3 L349 606.7 L360.8 609.6 L371.9 613.2 L382.1 617.4 L391.2 622.2 L399.2 627.6 L405.8 633.8 L410.9 640.7"/><path d="M119.1 615.2 L126.9 607.4 L136.4 600.7 L147.4 594.8 L159.6 589.7 L172.8 585.4 L187 581.8 L201.9 578.8 L217.4 576.3 L233.5 574.5 L249.8 573.2 L266.5 572.4 L283.2 572.2 L299.9 572.4 L316.6 573.2 L332.9 574.5 L349 576.3 L364.5 578.8 L379.4 581.8 L393.6 585.4 L406.8 589.7 L419 594.8 L430 600.7 L439.5 607.4 L447.3 615.2"/><path d="M87.6 583.7 L98.3 576.1 L110.6 569.5 L124.3 563.9 L139.2 559.1 L155.1 555.1 L171.8 551.8 L189.3 549 L207.4 546.8 L225.9 545.2 L244.8 544 L264 543.3 L283.2 543.1 L302.4 543.3 L321.6 544 L340.5 545.2 L359 546.8 L377.1 549 L394.6 551.8 L411.3 555.1 L427.2 559.1 L442.1 563.9 L455.8 569.5 L468.1 576.1 L478.8 583.7"/><path d="M62.1 547.2 L75.4 540.6 L90.2 535 L106.2 530.2 L123.2 526.2 L141.3 522.9 L160.1 520.1 L179.6 517.9 L199.6 516.1 L220.1 514.7 L241 513.8 L262 513.2 L283.2 513 L304.4 513.2 L325.4 513.8 L346.3 514.7 L366.8 516.1 L386.8 517.9 L406.3 520.1 L425.1 522.9 L443.2 526.2 L460.2 530.2 L476.2 535 L491 540.6 L504.3 547.2"/><path d="M43.3 506.9 L58.7 502 L75.4 497.9 L93.1 494.5 L111.8 491.6 L131.4 489.2 L151.7 487.3 L172.7 485.7 L194.1 484.4 L216 483.5 L238.2 482.8 L260.7 482.4 L283.2 482.3 L305.7 482.4 L328.2 482.8 L350.4 483.5 L372.3 484.4 L393.7 485.7 L414.7 487.3 L435 489.2 L454.6 491.6 L473.3 494.5 L491 497.9 L507.7 502 L523.1 506.9"/><path d="M31.8 463.9 L48.6 461.3 L66.4 459.2 L85.2 457.4 L105 455.9 L125.5 454.7 L146.7 453.6 L168.5 452.8 L190.8 452.2 L213.6 451.7 L236.6 451.3 L259.9 451.1 L283.2 451.1 L306.5 451.1 L329.8 451.3 L352.8 451.7 L375.6 452.2 L397.9 452.8 L419.7 453.6 L440.9 454.7 L461.4 455.9 L481.2 457.4 L500 459.2 L517.8 461.3 L534.6 463.9"/><path d="M27.9 419.6 L45.1 419.6 L63.4 419.6 L82.6 419.6 L102.7 419.6 L123.5 419.6 L145 419.6 L167.1 419.6 L189.8 419.6 L212.8 419.6 L236.1 419.6 L259.6 419.6 L283.2 419.6 L306.8 419.6 L330.3 419.6 L353.6 419.6 L376.6 419.6 L399.3 419.6 L421.4 419.6 L442.9 419.6 L463.7 419.6 L483.8 419.6 L503 419.6 L521.3 419.6 L538.5 419.6"/><path d="M31.8 375.3 L48.6 377.9 L66.4 380 L85.2 381.8 L105 383.3 L125.5 384.5 L146.7 385.6 L168.5 386.4 L190.8 387 L213.6 387.5 L236.6 387.9 L259.9 388.1 L283.2 388.1 L306.5 388.1 L329.8 387.9 L352.8 387.5 L375.6 387 L397.9 386.4 L419.7 385.6 L440.9 384.5 L461.4 383.3 L481.2 381.8 L500 380 L517.8 377.9 L534.6 375.3"/><path d="M43.3 332.3 L58.7 337.2 L75.4 341.3 L93.1 344.7 L111.8 347.6 L131.4 350 L151.7 351.9 L172.7 353.5 L194.1 354.8 L216 355.7 L238.2 356.4 L260.7 356.8 L283.2 356.9 L305.7 356.8 L328.2 356.4 L350.4 355.7 L372.3 354.8 L393.7 353.5 L414.7 351.9 L435 350 L454.6 347.6 L473.3 344.7 L491 341.3 L507.7 337.2 L523.1 332.3"/><path d="M62.1 292 L75.4 298.6 L90.2 304.2 L106.2 309 L123.2 313 L141.3 316.3 L160.1 319.1 L179.6 321.3 L199.6 323.1 L220.1 324.5 L241 325.4 L262 326 L283.2 326.2 L304.4 326 L325.4 325.4 L346.3 324.5 L366.8 323.1 L386.8 321.3 L406.3 319.1 L425.1 316.3 L443.2 313 L460.2 309 L476.2 304.2 L491 298.6 L504.3 292"/><path d="M87.6 255.5 L98.3 263.1 L110.6 269.7 L124.3 275.3 L139.2 280.1 L155.1 284.1 L171.8 287.4 L189.3 290.2 L207.4 292.4 L225.9 294 L244.8 295.2 L264 295.9 L283.2 296.1 L302.4 295.9 L321.6 295.2 L340.5 294 L359 292.4 L377.1 290.2 L394.6 287.4 L411.3 284.1 L427.2 280.1 L442.1 275.3 L455.8 269.7 L468.1 263.1 L478.8 255.5"/><path d="M119.1 224 L126.9 231.8 L136.4 238.5 L147.4 244.4 L159.6 249.5 L172.8 253.8 L187 257.4 L201.9 260.4 L217.4 262.9 L233.5 264.7 L249.8 266 L266.5 266.8 L283.2 267 L299.9 266.8 L316.6 266 L332.9 264.7 L349 262.9 L364.5 260.4 L379.4 257.4 L393.6 253.8 L406.8 249.5 L419 244.4 L430 238.5 L439.5 231.8 L447.3 224"/><path d="M155.5 198.5 L160.6 205.4 L167.2 211.6 L175.2 217 L184.3 221.8 L194.5 226 L205.6 229.6 L217.4 232.5 L229.9 234.9 L242.8 236.7 L256.1 238 L269.6 238.8 L283.2 239.1 L296.8 238.8 L310.3 238 L323.6 236.7 L336.5 234.9 L349 232.5 L360.8 229.6 L371.9 226 L382.1 221.8 L391.2 217 L399.2 211.6 L405.8 205.4 L410.9 198.5"/><path d="M195.9 179.7 L198.5 184.9 L202.4 189.7 L207.3 194 L213.3 197.9 L220.2 201.3 L227.8 204.3 L236.1 206.8 L244.9 208.9 L254.1 210.5 L263.6 211.6 L273.4 212.3 L283.2 212.5 L293 212.3 L302.8 211.6 L312.3 210.5 L321.5 208.9 L330.3 206.8 L338.6 204.3 L346.2 201.3 L353.1 197.9 L359.1 194 L364 189.7 L367.9 184.9 L370.5 179.7"/><path d="M238.9 168.2 L239.7 171 L241.3 173.6 L243.5 176.1 L246.4 178.4 L249.8 180.5 L253.6 182.3 L257.9 183.9 L262.5 185.2 L267.5 186.2 L272.6 186.9 L277.9 187.4 L283.2 187.5 L288.5 187.4 L293.8 186.9 L298.9 186.2 L303.9 185.2 L308.5 183.9 L312.8 182.3 L316.6 180.5 L320 178.4 L322.9 176.1 L325.1 173.6 L326.7 171 L327.5 168.2"/><line x1="18.9" y1="419.6" x2="547.5" y2="419.6" stroke-width="1.4"/><line x1="283.2" y1="155.3" x2="283.2" y2="683.9" stroke-width="1.4"/></g>
<path d="M386.1 653.3 L367.6 652.9 L349.6 651.1 L332 647.8 L314.9 643.2 L298.3 637.4 L282.2 630.5 L266.8 622.4 L251.9 613.4 L237.7 603.5 L224.1 592.7 L211.2 581 L199 568.7 L187.6 555.6 L176.9 541.9 L167 527.6 L157.9 512.7 L149.6 497.4 L142.2 481.7 L135.6 465.6 L129.9 449.1 L125.1 432.4 L121.2 415.4 L118.4 398.3 L116.4 381 L115.5 363.7 L115.7 346.3 L116.8 329 L119.1 311.8 L122.5 294.7 L127 277.9 L132.8 261.4 L139.7 245.2 L147.9 229.5 L157.3 214.3 L168.2 199.8 L180.3 185.9M58.4 298.6 L71 298.2 L84 298.4 L97.1 299.4 L110.5 300.9 L124.1 303 L137.9 305.7 L151.8 308.9 L165.9 312.6 L180.1 316.7 L194.4 321.3 L208.8 326.3 L223.2 331.7 L237.6 337.5 L252.1 343.7 L266.4 350.2 L280.8 357 L295 364.1 L309.1 371.5 L323 379.2 L336.8 387.1 L350.4 395.3 L363.7 403.8 L376.8 412.4 L389.6 421.3 L402 430.3 L414.1 439.6 L425.8 449 L437.1 458.5 L447.9 468.3 L458.3 478.1 L468.1 488.2 L477.4 498.4 L486 508.7 L494.1 519.1 L501.4 529.8 L508 540.6M531.4 359.9 L520.5 363.3 L509.2 366.7 L497.4 370.2 L485.2 373.7 L472.6 377.3 L459.6 380.9 L446.3 384.6 L432.6 388.2 L418.7 392 L404.5 395.7 L390 399.5 L375.4 403.2 L360.6 407 L345.6 410.8 L330.5 414.5 L315.3 418.3 L300 422 L284.7 425.7 L269.4 429.4 L254.1 433 L238.8 436.6 L223.6 440.1 L208.6 443.6 L193.7 447 L178.9 450.3 L164.3 453.5 L150 456.6 L135.9 459.6 L122 462.6 L108.5 465.4 L95.3 468.1 L82.5 470.6 L70 473 L57.9 475.3 L46.2 477.4 L35 479.3M47.4 321.8 L58.7 324.1 L70.4 326.7 L82.4 329.7 L94.8 332.9 L107.5 336.5 L120.5 340.3 L133.7 344.4 L147.2 348.7 L161 353.2 L174.9 358 L189 362.9 L203.3 368.1 L217.7 373.4 L232.1 378.8 L246.7 384.5 L261.3 390.2 L275.9 396.1 L290.5 402.1 L305 408.2 L319.5 414.4 L333.9 420.6 L348.1 426.9 L362.2 433.3 L376.1 439.7 L389.8 446.2 L403.3 452.7 L416.5 459.2 L429.4 465.7 L442 472.2 L454.3 478.7 L466.2 485.2 L477.7 491.7 L488.7 498.1 L499.3 504.6 L509.4 511 L519 517.4M150 637.4 L154.1 626.6 L158.6 615.6 L163.5 604.2 L168.7 592.5 L174.3 580.5 L180.1 568.4 L186.3 555.9 L192.7 543.3 L199.4 530.5 L206.3 517.5 L213.4 504.3 L220.7 491 L228.2 477.7 L235.9 464.2 L243.7 450.8 L251.7 437.2 L259.7 423.7 L267.9 410.3 L276.2 396.8 L284.5 383.5 L292.9 370.2 L301.4 357.1 L309.8 344.2 L318.3 331.4 L326.8 318.8 L335.2 306.5 L343.7 294.5 L352 282.7 L360.4 271.2 L368.6 260.1 L376.8 249.3 L384.9 238.9 L392.9 228.9 L400.8 219.4 L408.7 210.4 L416.4 201.8M485.6 264 L479.2 274.1 L472.3 284.3 L464.8 294.5 L456.7 304.7 L448.2 315 L439.2 325.4 L429.7 335.7 L419.9 346.1 L409.6 356.5 L399.1 366.8 L388.1 377.2 L376.9 387.5 L365.4 397.7 L353.7 407.9 L341.7 418 L329.6 428 L317.2 437.9 L304.7 447.6 L292.1 457.2 L279.4 466.6 L266.7 475.8 L253.8 484.7 L241 493.5 L228.1 501.9 L215.3 510.1 L202.5 518 L189.7 525.6 L177 532.8 L164.5 539.7 L152.1 546.1 L139.8 552.2 L127.6 557.8 L115.6 563 L103.8 567.6 L92.2 571.7 L80.8 575.2M32.8 469.4 L43.8 466.4 L55.3 463.5 L67.2 460.4 L79.6 457.4 L92.3 454.3 L105.4 451.2 L118.9 448.1 L132.7 445 L146.7 441.8 L161.1 438.6 L175.6 435.5 L190.4 432.3 L205.4 429.1 L220.5 425.9 L235.8 422.8 L251.1 419.6 L266.5 416.5 L282 413.4 L297.4 410.4 L312.9 407.4 L328.2 404.4 L343.5 401.5 L358.7 398.6 L373.8 395.8 L388.6 393.1 L403.3 390.5 L417.8 387.9 L432 385.5 L445.9 383.1 L459.6 380.8 L472.9 378.7 L485.8 376.6 L498.4 374.7 L510.6 372.9 L522.3 371.3 L533.6 369.8M319.7 672.3 L317.3 661.1 L314.9 649.5 L312.6 637.4 L310.2 625 L307.8 612.1 L305.4 598.8 L303 585.2 L300.6 571.3 L298.2 557.1 L295.8 542.6 L293.4 527.8 L291 512.9 L288.6 497.8 L286.2 482.5 L283.9 467.1 L281.5 451.6 L279.2 436.1 L277 420.5 L274.7 404.9 L272.5 389.3 L270.4 373.8 L268.3 358.4 L266.2 343.1 L264.3 327.9 L262.3 312.9 L260.5 298.1 L258.7 283.5 L257 269.2 L255.3 255.2 L253.8 241.4 L252.4 228 L251 215 L249.8 202.3 L248.6 190.1 L247.6 178.3 L246.7 166.9M32.3 372.5 L43.6 373.6 L55.5 374.8 L67.7 376.2 L80.3 377.8 L93.3 379.4 L106.7 381.2 L120.4 383.2 L134.4 385.2 L148.6 387.4 L163.1 389.7 L177.9 392 L192.8 394.5 L207.9 397 L223.1 399.7 L238.5 402.3 L253.9 405.1 L269.4 407.9 L284.8 410.8 L300.3 413.7 L315.8 416.7 L331.1 419.7 L346.4 422.8 L361.6 425.8 L376.5 428.9 L391.4 432.1 L405.9 435.2 L420.3 438.3 L434.4 441.5 L448.2 444.7 L461.6 447.8 L474.7 451 L487.5 454.1 L499.8 457.3 L511.7 460.4 L523.1 463.5 L534.1 466.7M35.7 482.2 L45 474 L54.9 466.1 L65.5 458.4 L76.5 451.1 L88.2 443.9 L100.3 437 L112.8 430.4 L125.8 423.9 L139.1 417.7 L152.8 411.8 L166.8 406 L181.2 400.5 L195.7 395.2 L210.5 390.2 L225.5 385.4 L240.6 380.8 L255.9 376.5 L271.3 372.5 L286.7 368.7 L302.2 365.2 L317.7 362 L333.1 359.1 L348.6 356.5 L363.9 354.3 L379.1 352.3 L394.2 350.7 L409 349.4 L423.7 348.5 L438.2 348 L452.4 347.9 L466.3 348.2 L479.9 349 L493.2 350.2 L506.1 351.9 L518.6 354.1 L530.7 357M48.9 318.1 L62.7 310.3 L76.9 303.7 L91.5 298.2 L106.4 293.8 L121.6 290.2 L137.1 287.7 L152.8 286 L168.6 285.2 L184.6 285.2 L200.7 285.9 L216.7 287.5 L232.8 289.8 L248.9 292.8 L264.9 296.5 L280.7 300.8 L296.5 305.9 L312 311.5 L327.3 317.8 L342.4 324.7 L357.1 332.1 L371.5 340.2 L385.6 348.8 L399.2 357.9 L412.4 367.6 L425 377.7 L437.2 388.4 L448.7 399.6 L459.6 411.2 L469.9 423.4 L479.4 436 L488.1 449 L495.9 462.5 L502.9 476.5 L508.8 490.9 L513.7 505.8 L517.5 521.1M536.9 391.1 L531.2 408.7 L524.1 425.4 L515.7 441.3 L506.3 456.4 L495.9 470.6 L484.5 484 L472.2 496.4 L459.2 508 L445.4 518.7 L431.1 528.5 L416.1 537.4 L400.7 545.4 L384.8 552.5 L368.5 558.6 L351.8 563.8 L334.9 568.1 L317.8 571.5 L300.5 573.9 L283.2 575.4 L265.7 575.9 L248.3 575.5 L230.9 574.1 L213.7 571.7 L196.6 568.3 L179.7 564 L163.2 558.6 L147 552.3 L131.2 544.9 L116 536.5 L101.3 527 L87.2 516.6 L73.8 505 L61.3 492.4 L49.6 478.7 L39 464 L29.5 448.1M482.6 579 L467.2 583.4 L451.5 586.6 L435.8 588.5 L419.9 589.4 L404.1 589.1 L388.2 587.9 L372.4 585.7 L356.7 582.6 L341 578.7 L325.6 573.9 L310.2 568.4 L295.1 562.1 L280.3 555.1 L265.7 547.4 L251.4 539.1 L237.4 530.1 L223.8 520.6 L210.6 510.5 L197.8 499.8 L185.5 488.7 L173.7 477 L162.4 464.9 L151.7 452.3 L141.6 439.4 L132.1 426 L123.3 412.3 L115.3 398.2 L108 383.9 L101.5 369.2 L95.9 354.3 L91.2 339.1 L87.5 323.7 L84.8 308 L83.2 292.2 L82.9 276.3 L83.8 260.2M522.7 508 L509.6 513.9 L496.1 518.9 L482.2 523 L468 526.3 L453.4 528.8 L438.6 530.5 L423.6 531.5 L408.4 531.8 L393 531.4 L377.5 530.4 L361.8 528.8 L346.2 526.6 L330.5 523.9 L314.8 520.5 L299.1 516.7 L283.6 512.3 L268.1 507.4 L252.8 502 L237.6 496.2 L222.7 489.8 L208 483.1 L193.6 475.8 L179.5 468.2 L165.8 460.1 L152.5 451.5 L139.6 442.6 L127.1 433.3 L115.2 423.6 L103.8 413.4 L93 402.9 L82.9 392 L73.4 380.7 L64.7 369 L56.8 356.8 L49.8 344.2 L43.7 331.2M43 506 L50.2 494.7 L58.3 483.9 L67.2 473.4 L76.7 463.2 L86.9 453.3 L97.6 443.8 L109 434.6 L120.8 425.6 L133.1 417 L145.9 408.7 L159 400.7 L172.6 393 L186.4 385.6 L200.6 378.6 L215 371.9 L229.7 365.6 L244.6 359.6 L259.6 354 L274.8 348.7 L290.1 343.9 L305.4 339.4 L320.8 335.4 L336.2 331.8 L351.6 328.7 L366.9 326 L382.1 323.8 L397.3 322 L412.3 320.9 L427.1 320.2 L441.7 320.1 L456.1 320.6 L470.2 321.7 L484 323.5 L497.5 326 L510.7 329.2 L523.4 333.2M69.6 559.4 L75.7 548.6 L82.6 538 L90.1 527.4 L98.2 516.9 L106.9 506.4 L116.2 496 L125.9 485.7 L136.1 475.4 L146.7 465.2 L157.8 455.2 L169.2 445.2 L180.9 435.3 L193 425.6 L205.3 416.1 L217.9 406.7 L230.8 397.4 L243.8 388.4 L257 379.6 L270.4 371 L283.9 362.7 L297.5 354.6 L311.1 346.8 L324.9 339.3 L338.6 332.2 L352.3 325.3 L366 318.9 L379.7 312.8 L393.2 307.2 L406.7 301.9 L420.1 297.1 L433.3 292.9 L446.4 289.1 L459.3 285.8 L472 283.2 L484.5 281.2 L496.8 279.8M472.1 591.3 L456.7 594.1 L441.2 595.7 L425.6 596.1 L410.1 595.4 L394.6 593.7 L379.2 591.1 L363.8 587.6 L348.6 583.2 L333.6 578 L318.7 572 L304 565.3 L289.5 557.9 L275.4 549.9 L261.5 541.2 L247.9 532 L234.6 522.1 L221.8 511.8 L209.3 500.9 L197.3 489.5 L185.8 477.7 L174.7 465.5 L164.2 452.8 L154.2 439.8 L144.9 426.5 L136.2 412.8 L128.1 398.8 L120.7 384.6 L114.1 370.1 L108.3 355.3 L103.3 340.4 L99.3 325.3 L96.1 310 L94 294.6 L92.9 279.1 L93 263.5 L94.3 247.9M525 501.6 L512.7 503.2 L500.2 504.2 L487.2 504.6 L474 504.6 L460.4 504 L446.6 503.1 L432.5 501.7 L418.1 499.8 L403.6 497.7 L388.9 495.1 L374.1 492.2 L359.1 489 L344 485.4 L328.9 481.5 L313.8 477.4 L298.6 472.9 L283.5 468.2 L268.4 463.2 L253.4 458 L238.5 452.5 L223.8 446.8 L209.2 440.9 L194.9 434.8 L180.8 428.4 L166.9 421.9 L153.4 415.2 L140.2 408.3 L127.3 401.1 L114.8 393.9 L102.8 386.4 L91.2 378.8 L80.1 370.9 L69.6 362.9 L59.6 354.7 L50.2 346.2 L41.4 337.6M453.6 609.7 L438.1 610.8 L422.6 610.6 L407.1 609.3 L391.8 607 L376.6 603.7 L361.6 599.4 L346.8 594.2 L332.2 588.3 L317.8 581.5 L303.6 574 L289.8 565.9 L276.2 557 L263 547.5 L250 537.5 L237.5 526.9 L225.4 515.8 L213.7 504.1 L202.4 492.1 L191.6 479.5 L181.3 466.6 L171.6 453.4 L162.4 439.8 L153.8 425.8 L145.8 411.6 L138.5 397.2 L131.9 382.5 L126 367.6 L120.8 352.6 L116.5 337.4 L113 322.1 L110.4 306.7 L108.7 291.3 L108 275.8 L108.4 260.3 L110 244.9 L112.8 229.5M164.1 193.8 L180.1 195.9 L195.7 199.3 L210.9 203.8 L225.7 209.4 L240.1 216 L254.1 223.5 L267.7 231.8 L280.9 240.9 L293.6 250.8 L305.9 261.4 L317.7 272.6 L329 284.4 L339.8 296.7 L350.1 309.6 L359.9 323 L369.1 336.8 L377.8 351 L385.8 365.5 L393.3 380.4 L400.1 395.5 L406.3 410.9 L411.8 426.5 L416.6 442.3 L420.7 458.2 L424 474.2 L426.6 490.3 L428.3 506.4 L429.3 522.5 L429.4 538.5 L428.6 554.4 L426.8 570.2 L424.1 585.8 L420.3 601.2 L415.5 616.3 L409.5 631.1 L402.3 645.4M68.4 557.5 L72.1 544.1 L76.9 530.9 L82.5 518 L88.9 505.2 L96.1 492.6 L104 480.3 L112.6 468.2 L121.8 456.3 L131.6 444.6 L141.9 433.2 L152.8 422 L164.1 411.1 L175.8 400.5 L188 390.2 L200.5 380.2 L213.4 370.6 L226.6 361.3 L240 352.4 L253.7 343.8 L267.7 335.7 L281.8 328 L296.1 320.8 L310.5 314 L325.1 307.8 L339.7 302 L354.3 296.8 L369 292.2 L383.7 288.1 L398.3 284.7 L412.9 281.9 L427.5 279.9 L441.9 278.6 L456.2 278 L470.3 278.3 L484.3 279.5 L498 281.7M29.9 451.7 L39.9 443.9 L50.6 436.5 L61.8 429.6 L73.6 423 L85.9 416.8 L98.7 411 L111.9 405.4 L125.5 400.2 L139.5 395.3 L153.8 390.7 L168.4 386.4 L183.3 382.4 L198.4 378.7 L213.7 375.3 L229.1 372.2 L244.8 369.5 L260.5 367 L276.3 364.8 L292.1 363 L307.9 361.5 L323.7 360.3 L339.5 359.4 L355.2 358.9 L370.7 358.7 L386.1 358.8 L401.3 359.3 L416.3 360.2 L431.1 361.5 L445.6 363.2 L459.7 365.2 L473.5 367.7 L487 370.7 L500.1 374.1 L512.7 378 L524.8 382.5 L536.5 387.5M227.9 170.4 L238.1 179 L247.8 188.5 L257 198.6 L265.8 209.3 L274.2 220.7 L282.3 232.6 L289.9 245 L297.2 257.9 L304.2 271.2 L310.8 285 L317 299 L322.9 313.4 L328.4 328.1 L333.5 343.1 L338.3 358.2 L342.8 373.6 L346.8 389.1 L350.5 404.7 L353.8 420.4 L356.6 436.2 L359.1 451.9 L361.2 467.7 L362.8 483.4 L364 499.1 L364.8 514.6 L365.1 530 L364.9 545.2 L364.2 560.2 L363.1 575 L361.4 589.5 L359.1 603.7 L356.3 617.5 L352.8 631 L348.8 644.1 L344 656.7 L338.5 668.8M505.2 293.5 L500.3 306.2 L494.5 318.7 L487.9 330.9 L480.5 343 L472.4 354.8 L463.6 366.3 L454.2 377.7 L444.2 388.7 L433.6 399.6 L422.6 410.2 L411.1 420.5 L399.1 430.6 L386.8 440.4 L374.1 449.9 L361 459 L347.6 467.9 L334 476.4 L320.1 484.5 L306 492.3 L291.7 499.7 L277.3 506.6 L262.7 513.1 L248 519.2 L233.3 524.8 L218.6 529.9 L203.8 534.5 L189 538.6 L174.3 542.1 L159.7 545 L145.1 547.3 L130.7 548.9 L116.4 549.9 L102.3 550.1 L88.4 549.5 L74.7 548.1 L61.2 545.7M531.9 362 L522.4 369.8 L512.2 377.3 L501.5 384.6 L490.2 391.6 L478.4 398.3 L466.1 404.8 L453.4 411.1 L440.3 417.2 L426.8 423 L413 428.6 L398.8 434 L384.4 439.1 L369.7 444.1 L354.8 448.8 L339.8 453.2 L324.5 457.5 L309.2 461.4 L293.8 465.1 L278.3 468.6 L262.7 471.8 L247.2 474.7 L231.7 477.3 L216.3 479.6 L200.9 481.7 L185.7 483.4 L170.6 484.8 L155.7 485.8 L141 486.5 L126.6 486.8 L112.4 486.8 L98.5 486.4 L85 485.5 L71.8 484.2 L58.9 482.4 L46.5 480.1 L34.5 477.2M413.3 639.3 L400.3 634.8 L387.6 629.3 L375.1 623 L362.8 615.9 L350.7 608.1 L338.9 599.6 L327.3 590.5 L315.9 580.7 L304.8 570.4 L293.9 559.6 L283.3 548.3 L273 536.6 L262.9 524.4 L253.1 511.9 L243.7 499 L234.6 485.8 L225.8 472.3 L217.4 458.5 L209.4 444.6 L201.8 430.4 L194.6 416.1 L187.8 401.6 L181.5 387 L175.7 372.3 L170.4 357.6 L165.6 342.9 L161.3 328.1 L157.6 313.4 L154.6 298.8 L152.1 284.2 L150.4 269.7 L149.3 255.4 L149 241.2 L149.5 227.3 L150.8 213.5 L153.1 199.9M75.3 567.7 L71.3 549.4 L68.9 531 L68.1 512.8 L68.6 494.8 L70.6 477 L73.8 459.5 L78.2 442.4 L83.7 425.6 L90.4 409.3 L98.1 393.5 L106.7 378.2 L116.3 363.5 L126.7 349.4 L138 335.9 L150 323.1 L162.7 310.9 L176.1 299.6 L190.1 289 L204.7 279.2 L219.9 270.2 L235.5 262.1 L251.5 255 L267.9 248.7 L284.7 243.5 L301.7 239.3 L319 236.1 L336.5 234 L354 233 L371.7 233.3 L389.3 234.7 L406.9 237.4 L424.3 241.4 L441.6 246.7 L458.5 253.5 L475.1 261.7 L491.1 271.5M172.2 649.5 L168.7 636.2 L166 622.5 L164.2 608.6 L163.3 594.4 L163 580 L163.5 565.4 L164.6 550.7 L166.3 535.8 L168.7 520.8 L171.6 505.7 L175.1 490.6 L179.1 475.4 L183.7 460.3 L188.7 445.2 L194.2 430.2 L200.1 415.3 L206.5 400.5 L213.3 385.9 L220.5 371.4 L228.2 357.3 L236.1 343.3 L244.5 329.7 L253.2 316.4 L262.2 303.4 L271.6 290.8 L281.2 278.7 L291.2 267 L301.5 255.8 L312.1 245.2 L322.9 235.2 L334.1 225.7 L345.5 217 L357.2 208.9 L369.2 201.6 L381.5 195.2 L394.2 189.7M388 186.8 L385.1 197.9 L381.9 209.4 L378.3 221.3 L374.4 233.4 L370.3 245.9 L365.9 258.7 L361.2 271.8 L356.3 285.1 L351.3 298.6 L346 312.3 L340.5 326.2 L334.8 340.3 L329 354.4 L323 368.7 L316.9 383 L310.7 397.4 L304.4 411.8 L297.9 426.2 L291.4 440.6 L284.8 454.9 L278.2 469.1 L271.5 483.1 L264.7 497.1 L258 510.8 L251.2 524.4 L244.4 537.7 L237.7 550.8 L230.9 563.5 L224.2 576 L217.5 588.1 L210.9 599.9 L204.3 611.3 L197.7 622.3 L191.2 632.8 L184.8 642.8 L178.4 652.4M131.5 214.2 L142.4 220 L153.2 226.4 L164 233.5 L174.8 241.2 L185.6 249.4 L196.4 258.1 L207.1 267.4 L217.8 277.1 L228.4 287.2 L239 297.7 L249.5 308.6 L259.9 319.8 L270.2 331.3 L280.4 343.1 L290.5 355.2 L300.4 367.5 L310.1 380 L319.6 392.7 L328.9 405.6 L338 418.5 L346.9 431.6 L355.5 444.8 L363.8 458 L371.7 471.2 L379.4 484.5 L386.7 497.7 L393.6 510.9 L400.2 524.1 L406.3 537.1 L412 550.1 L417.2 563 L421.9 575.7 L426 588.3 L429.6 600.7 L432.6 612.9 L434.9 625M51.2 313.1 L65.2 304.2 L79.7 296.5 L94.7 290.1 L110 284.8 L125.7 280.5 L141.5 277.3 L157.6 275 L173.9 273.8 L190.2 273.4 L206.6 273.9 L223.1 275.2 L239.5 277.4 L255.8 280.4 L272 284.2 L288.1 288.7 L304 294 L319.7 299.9 L335.1 306.6 L350.2 313.9 L364.9 321.9 L379.3 330.5 L393.2 339.8 L406.6 349.7 L419.5 360.1 L431.9 371.1 L443.6 382.7 L454.7 394.8 L465.1 407.4 L474.7 420.6 L483.5 434.3 L491.4 448.4 L498.3 463 L504.3 478.1 L509.2 493.7 L512.8 509.7 L515.2 526.1M331.5 670.3 L325.5 660 L319.8 649.2 L314.2 637.8 L308.8 626 L303.7 613.7 L298.6 601 L293.7 587.9 L289 574.4 L284.5 560.6 L280 546.4 L275.8 532 L271.7 517.4 L267.7 502.5 L264 487.4 L260.3 472.2 L256.9 456.8 L253.6 441.4 L250.6 425.9 L247.7 410.3 L244.9 394.8 L242.4 379.3 L240.1 363.8 L238.1 348.4 L236.2 333.1 L234.6 318 L233.2 303 L232 288.3 L231.1 273.7 L230.5 259.4 L230.1 245.5 L230.1 231.8 L230.3 218.4 L230.9 205.4 L231.9 192.8 L233.2 180.7 L234.9 168.9M452.3 610.9 L435.1 615.1 L417.8 617.8 L400.6 619.1 L383.5 619.1 L366.5 617.8 L349.7 615.4 L333.1 611.8 L316.8 607.2 L300.8 601.6 L285.1 595.1 L269.9 587.7 L255 579.4 L240.6 570.3 L226.7 560.4 L213.3 549.8 L200.4 538.5 L188.1 526.5 L176.4 514 L165.4 500.9 L155.1 487.2 L145.4 473 L136.5 458.4 L128.5 443.4 L121.2 428 L114.8 412.2 L109.3 396.1 L104.7 379.8 L101.1 363.2 L98.5 346.5 L97.1 329.6 L96.7 312.6 L97.6 295.6 L99.7 278.6 L103.1 261.7 L107.9 244.9 L114.1 228.3M35.4 358.2 L46.8 359.1 L58.7 360.4 L71 361.9 L83.6 363.6 L96.6 365.5 L110 367.6 L123.7 369.9 L137.6 372.4 L151.8 375 L166.2 377.8 L180.9 380.7 L195.7 383.8 L210.7 387 L225.8 390.4 L241 393.8 L256.3 397.4 L271.6 401 L286.9 404.8 L302.2 408.6 L317.4 412.5 L332.6 416.5 L347.6 420.6 L362.5 424.7 L377.3 428.8 L391.8 433 L406.1 437.3 L420.2 441.5 L434 445.8 L447.5 450.2 L460.6 454.5 L473.4 458.9 L485.8 463.3 L497.8 467.7 L509.3 472.1 L520.4 476.6 L531 481M98.4 595.7 L99 581.5 L100.7 567.3 L103.4 553.2 L107 539.2 L111.3 525.2 L116.5 511.3 L122.4 497.5 L128.9 483.8 L136.1 470.3 L144 456.9 L152.3 443.7 L161.3 430.7 L170.7 417.9 L180.6 405.4 L191 393.1 L201.8 381.1 L213 369.4 L224.6 358.1 L236.5 347.1 L248.7 336.5 L261.2 326.2 L274 316.5 L287 307.2 L300.2 298.4 L313.6 290.1 L327.2 282.3 L341 275.2 L354.8 268.6 L368.8 262.7 L382.9 257.5 L397 253.1 L411.2 249.4 L425.4 246.5 L439.6 244.5 L453.8 243.5 L468 243.5M507.6 541.4 L497 537 L486.1 532.4 L474.8 527.4 L463.2 522.2 L451.3 516.7 L439 511 L426.6 505.1 L413.8 498.9 L400.9 492.5 L387.7 486 L374.4 479.3 L360.9 472.4 L347.3 465.4 L333.6 458.2 L319.8 451 L306 443.7 L292.1 436.2 L278.2 428.8 L264.4 421.2 L250.6 413.6 L236.9 406 L223.3 398.4 L209.9 390.8 L196.6 383.2 L183.5 375.7 L170.6 368.1 L157.9 360.7 L145.5 353.3 L133.4 346 L121.6 338.7 L110.2 331.6 L99.1 324.6 L88.4 317.7 L78.1 311 L68.2 304.3 L58.8 297.8M438.3 622.4 L430.8 613.8 L423.1 604.8 L415.1 595.4 L406.9 585.7 L398.6 575.6 L390 565.2 L381.3 554.5 L372.4 543.5 L363.3 532.3 L354.1 520.8 L344.9 509.1 L335.5 497.3 L326 485.2 L316.5 473.1 L307 460.8 L297.4 448.4 L287.8 435.9 L278.2 423.4 L268.6 410.9 L259.1 398.4 L249.7 385.9 L240.3 373.4 L231.1 361.1 L221.9 348.8 L212.9 336.6 L204.1 324.6 L195.4 312.8 L186.9 301.1 L178.7 289.6 L170.6 278.4 L162.8 267.4 L155.3 256.7 L148 246.3 L141.1 236.1 L134.4 226.3 L128.1 216.8M462.7 601.1 L448.9 600.1 L435.2 598 L421.4 595 L407.7 591.2 L394 586.7 L380.4 581.4 L366.9 575.4 L353.4 568.8 L340 561.6 L326.8 553.8 L313.7 545.4 L300.8 536.6 L288 527.2 L275.5 517.5 L263.2 507.2 L251.1 496.7 L239.3 485.7 L227.8 474.4 L216.6 462.7 L205.8 450.8 L195.3 438.6 L185.3 426.2 L175.6 413.5 L166.4 400.7 L157.7 387.7 L149.6 374.5 L141.9 361.1 L134.8 347.7 L128.4 334.2 L122.5 320.6 L117.4 306.9 L113 293.2 L109.3 279.4 L106.5 265.6 L104.6 251.8 L103.7 238.1M535 461.9 L523.2 464.8 L511 467.2 L498.3 469.2 L485.3 470.8 L471.9 472 L458.1 472.9 L444 473.4 L429.6 473.6 L415 473.4 L400.1 473 L385.1 472.3 L369.8 471.3 L354.5 470 L339 468.5 L323.4 466.7 L307.7 464.7 L292.1 462.4 L276.4 459.9 L260.8 457.2 L245.3 454.2 L229.8 451 L214.5 447.6 L199.4 444 L184.4 440.2 L169.7 436.1 L155.2 431.9 L141 427.4 L127.2 422.8 L113.6 417.9 L100.5 412.8 L87.8 407.5 L75.5 402 L63.7 396.2 L52.4 390.2 L41.6 383.9 L31.4 377.3M490.2 270.2 L482.8 279.1 L474.8 288.2 L466.3 297.3 L457.3 306.6 L447.9 315.9 L438.1 325.3 L427.9 334.7 L417.3 344.3 L406.5 353.8 L395.3 363.4 L383.8 373 L372 382.7 L360.1 392.3 L347.9 401.8 L335.5 411.4 L323 420.8 L310.3 430.2 L297.6 439.5 L284.7 448.7 L271.8 457.8 L258.9 466.7 L246 475.4 L233 483.9 L220.2 492.3 L207.3 500.4 L194.6 508.2 L181.9 515.9 L169.4 523.2 L157.1 530.2 L144.9 536.9 L132.9 543.3 L121.1 549.2 L109.5 554.8 L98.1 560 L87 564.8 L76.2 569M453.4 609.9 L443.4 603.8 L433.2 597.1 L422.9 590 L412.4 582.3 L401.9 574.2 L391.3 565.7 L380.6 556.7 L369.8 547.4 L358.9 537.7 L348.1 527.7 L337.1 517.5 L326.2 506.9 L315.3 496.1 L304.4 485 L293.5 473.8 L282.8 462.4 L272.1 450.8 L261.5 439.1 L251 427.2 L240.7 415.3 L230.5 403.3 L220.5 391.3 L210.8 379.2 L201.2 367.2 L191.9 355.1 L182.9 343.2 L174.2 331.2 L165.8 319.4 L157.7 307.6 L150 296 L142.7 284.5 L135.8 273.1 L129.4 261.9 L123.4 250.9 L117.9 240 L113 229.3M499.6 284.1 L490.3 290.8 L480.7 297.6 L470.6 304.7 L460.1 311.9 L449.3 319.3 L438.1 326.9 L426.7 334.6 L414.9 342.4 L402.9 350.3 L390.6 358.4 L378.1 366.6 L365.4 374.8 L352.5 383.1 L339.5 391.4 L326.4 399.8 L313.2 408.2 L299.9 416.6 L286.5 424.9 L273.2 433.3 L259.8 441.6 L246.5 449.8 L233.2 458 L220.1 466 L207 474 L194 481.8 L181.3 489.5 L168.6 497 L156.2 504.4 L144.1 511.5 L132.1 518.5 L120.4 525.2 L109.1 531.8 L98 538 L87.3 544 L76.9 549.7 L66.8 555.1M268.8 674.5 L268.7 663.1 L268.7 651.2 L268.7 638.9 L268.9 626.2 L269.1 613.1 L269.4 599.6 L269.7 585.8 L270.1 571.7 L270.6 557.3 L271.1 542.6 L271.7 527.7 L272.3 512.6 L272.9 497.3 L273.7 481.9 L274.4 466.3 L275.2 450.7 L276 435 L276.9 419.2 L277.8 403.5 L278.8 387.8 L279.7 372.2 L280.7 356.7 L281.8 341.2 L282.8 326 L283.9 310.9 L285 296 L286.2 281.4 L287.4 267 L288.6 252.9 L289.8 239.1 L291 225.7 L292.3 212.7 L293.6 200 L294.9 187.8 L296.2 176 L297.6 164.7M68.1 282 L82 279.5 L96.1 277.9 L110.4 277.3 L124.9 277.5 L139.4 278.5 L154.1 280.3 L168.8 282.8 L183.6 286 L198.4 289.9 L213.2 294.3 L228 299.4 L242.7 305 L257.3 311.2 L271.9 317.9 L286.2 325 L300.4 332.7 L314.4 340.8 L328.2 349.3 L341.7 358.2 L354.9 367.5 L367.8 377.2 L380.3 387.3 L392.5 397.6 L404.2 408.3 L415.5 419.3 L426.3 430.6 L436.5 442.2 L446.2 454 L455.3 466.1 L463.8 478.4 L471.6 491 L478.6 503.8 L484.9 516.8 L490.3 530 L494.7 543.5 L498.3 557.2M190.7 657.6 L189.4 645.2 L188.6 632.5 L188.5 619.5 L188.9 606.2 L189.8 592.6 L191.2 578.7 L193 564.6 L195.2 550.3 L197.9 535.8 L201 521.2 L204.4 506.4 L208.2 491.6 L212.3 476.6 L216.8 461.7 L221.5 446.7 L226.6 431.7 L232 416.7 L237.6 401.9 L243.5 387.1 L249.6 372.5 L256 358 L262.6 343.7 L269.4 329.7 L276.5 315.9 L283.7 302.3 L291.2 289.1 L298.8 276.3 L306.6 263.8 L314.6 251.7 L322.7 240.1 L331.1 228.9 L339.6 218.3 L348.3 208.2 L357.2 198.7 L366.3 189.8 L375.7 181.6M28 411.7 L38.7 402.9 L50.1 394.8 L62.1 387.4 L74.6 380.6 L87.7 374.4 L101.2 368.8 L115.1 363.7 L129.5 359.1 L144.1 355.1 L159.1 351.6 L174.3 348.6 L189.8 346 L205.5 344 L221.3 342.4 L237.3 341.3 L253.4 340.6 L269.5 340.4 L285.6 340.7 L301.8 341.4 L317.8 342.6 L333.8 344.2 L349.7 346.3 L365.4 348.9 L380.9 351.9 L396.2 355.4 L411.2 359.4 L426 363.8 L440.4 368.7 L454.4 374.1 L468 380.1 L481.1 386.5 L493.8 393.5 L505.9 401.1 L517.4 409.2 L528.2 418 L538.4 427.5M189.2 182.2 L201.3 188.7 L213 196.1 L224.4 204.3 L235.4 213.2 L246 222.9 L256.4 233.1 L266.4 244 L276.1 255.4 L285.4 267.3 L294.5 279.7 L303.2 292.5 L311.5 305.7 L319.5 319.3 L327.2 333.2 L334.5 347.5 L341.4 361.9 L348 376.6 L354.1 391.5 L359.8 406.6 L365.1 421.8 L370 437.1 L374.4 452.4 L378.3 467.8 L381.8 483.2 L384.7 498.6 L387.2 513.9 L389.1 529.1 L390.4 544.2 L391.1 559.2 L391.3 573.9 L390.8 588.5 L389.6 602.8 L387.7 616.8 L385 630.6 L381.5 644 L377.2 657M500.5 553.6 L485.5 560.7 L470.1 566.5 L454.5 571.1 L438.7 574.5 L422.6 576.8 L406.5 578 L390.2 578.2 L374 577.5 L357.7 575.9 L341.5 573.4 L325.4 570 L309.4 565.8 L293.5 560.8 L277.9 555.1 L262.5 548.7 L247.3 541.5 L232.5 533.7 L218.1 525.2 L204 516.1 L190.3 506.3 L177.2 496 L164.5 485.2 L152.3 473.8 L140.8 461.8 L129.9 449.4 L119.6 436.5 L110.1 423.1 L101.3 409.3 L93.4 395.1 L86.3 380.5 L80.2 365.5 L75 350.2 L71 334.5 L68 318.4 L66.3 302.1 L65.9 285.6M528.4 348.6 L520.5 359.4 L511.7 369.8 L502.3 379.7 L492.1 389.3 L481.4 398.5 L470 407.4 L458.1 415.9 L445.8 424.1 L432.9 432 L419.7 439.5 L406 446.6 L392 453.5 L377.7 459.9 L363.1 466.1 L348.3 471.9 L333.3 477.3 L318.1 482.3 L302.7 487 L287.2 491.2 L271.7 495.1 L256.1 498.6 L240.4 501.6 L224.8 504.2 L209.3 506.4 L193.8 508.1 L178.4 509.3 L163.2 510 L148.2 510.2 L133.4 509.9 L118.8 509.1 L104.4 507.6 L90.4 505.6 L76.7 502.9 L63.4 499.5 L50.5 495.5 L38 490.6M29.2 393.4 L40.7 387.5 L52.8 382.2 L65.3 377.5 L78.3 373.3 L91.7 369.6 L105.5 366.3 L119.6 363.6 L134.1 361.3 L148.9 359.3 L163.9 357.8 L179.1 356.7 L194.6 356 L210.2 355.7 L225.9 355.7 L241.7 356.1 L257.6 356.9 L273.5 358 L289.4 359.5 L305.3 361.3 L321.1 363.4 L336.8 365.9 L352.3 368.8 L367.7 372 L382.9 375.5 L397.9 379.3 L412.6 383.5 L427 388 L441.1 392.9 L454.7 398.2 L468 403.8 L480.9 409.7 L493.3 416.1 L505.1 422.8 L516.4 430 L527.1 437.7 L537.2 445.8M44.6 328.7 L55.7 331.6 L67.2 334.7 L79 338.1 L91.2 341.7 L103.8 345.5 L116.7 349.5 L129.8 353.8 L143.3 358.2 L157 362.7 L170.9 367.5 L185 372.3 L199.3 377.3 L213.7 382.5 L228.2 387.7 L242.9 393.1 L257.5 398.5 L272.3 404 L287 409.6 L301.7 415.2 L316.4 420.9 L331 426.6 L345.4 432.4 L359.8 438.2 L374 443.9 L388 449.7 L401.7 455.4 L415.3 461.2 L428.5 466.9 L441.5 472.5 L454.1 478.1 L466.4 483.7 L478.4 489.2 L489.9 494.6 L501 500 L511.6 505.3 L521.8 510.5M533.8 468.5 L522.1 479.5 L509.7 489.5 L496.6 498.5 L483 506.5 L468.8 513.6 L454.2 519.8 L439.2 525.1 L423.9 529.7 L408.2 533.4 L392.3 536.3 L376.1 538.5 L359.8 539.9 L343.4 540.5 L326.9 540.5 L310.4 539.7 L293.9 538.2 L277.4 536.1 L261 533.2 L244.8 529.7 L228.7 525.5 L212.8 520.7 L197.2 515.2 L181.9 509 L167 502.3 L152.4 494.8 L138.3 486.8 L124.6 478.1 L111.5 468.8 L99 458.8 L87.1 448.2 L75.8 436.9 L65.4 425 L55.8 412.5 L47 399.3 L39.3 385.4 L32.6 370.7M522.7 507.9 L510.9 507.7 L498.6 507 L486 505.9 L473.1 504.4 L459.9 502.5 L446.4 500.2 L432.7 497.6 L418.7 494.7 L404.5 491.4 L390.1 487.9 L375.6 484.1 L360.9 480.1 L346.1 475.7 L331.3 471.2 L316.4 466.4 L301.5 461.4 L286.6 456.2 L271.7 450.8 L256.9 445.3 L242.2 439.6 L227.6 433.7 L213.1 427.6 L198.9 421.5 L184.8 415.2 L171 408.7 L157.5 402.2 L144.3 395.6 L131.4 388.8 L118.8 382 L106.7 375 L95 368 L83.7 360.9 L72.9 353.6 L62.6 346.3 L52.8 338.9 L43.7 331.3M367 660.8 L353 655.1 L339.6 648.4 L326.7 640.8 L314.3 632.3 L302.3 623 L290.8 613 L279.8 602.3 L269.2 590.9 L259.1 579 L249.5 566.5 L240.3 553.5 L231.6 540.1 L223.4 526.2 L215.7 512 L208.5 497.4 L201.8 482.5 L195.6 467.4 L189.9 452 L184.8 436.4 L180.3 420.7 L176.3 404.9 L173 389 L170.2 373 L168 357 L166.5 341.1 L165.7 325.2 L165.5 309.5 L166 293.8 L167.3 278.4 L169.3 263.1 L172.1 248.1 L175.7 233.4 L180.2 219 L185.6 205 L192 191.5 L199.4 178.4M254.3 673.3 L244.5 662.1 L235.7 650.2 L227.6 637.7 L220.4 624.7 L213.9 611.1 L208.2 597.1 L203.1 582.7 L198.7 567.9 L194.9 552.8 L191.8 537.4 L189.3 521.8 L187.4 505.9 L186.1 489.9 L185.4 473.8 L185.3 457.6 L185.8 441.3 L186.8 425 L188.4 408.8 L190.5 392.6 L193.2 376.5 L196.4 360.5 L200.2 344.8 L204.5 329.2 L209.3 313.9 L214.8 298.9 L220.7 284.2 L227.2 269.9 L234.3 256.1 L241.9 242.6 L250.1 229.7 L258.8 217.4 L268.2 205.6 L278.2 194.6 L288.8 184.2 L300.1 174.6 L312.1 165.9M117.1 613.5 L120.1 601.5 L123.8 589.4 L128.1 577.2 L133 564.8 L138.5 552.4 L144.5 539.9 L151 527.3 L158 514.6 L165.4 501.9 L173.2 489.2 L181.4 476.5 L190 463.7 L198.9 451.1 L208.1 438.5 L217.5 425.9 L227.3 413.5 L237.3 401.2 L247.5 389 L258 377.1 L268.6 365.3 L279.4 353.8 L290.3 342.5 L301.4 331.4 L312.5 320.7 L323.8 310.3 L335.1 300.3 L346.5 290.6 L357.9 281.3 L369.4 272.5 L380.8 264.2 L392.3 256.3 L403.7 249 L415.2 242.2 L426.6 236.1 L438 230.5 L449.3 225.7M194.3 658.9 L183.9 645.6 L174.8 631.7 L166.8 617.2 L160 602.3 L154.3 586.9 L149.5 571.2 L145.8 555.3 L143 539.1 L141.2 522.7 L140.3 506.2 L140.2 489.6 L141 472.9 L142.7 456.3 L145.1 439.7 L148.4 423.3 L152.4 406.9 L157.1 390.8 L162.6 374.8 L168.9 359.2 L175.8 343.8 L183.4 328.8 L191.7 314.2 L200.7 300.1 L210.3 286.4 L220.6 273.3 L231.4 260.7 L242.9 248.8 L255 237.6 L267.7 227.1 L280.9 217.5 L294.7 208.7 L309.1 200.8 L324.1 193.9 L339.5 188.2 L355.5 183.6 L372.1 180.3M29.7 389.5 L40.6 378.2 L52.3 367.9 L64.7 358.4 L77.8 349.9 L91.3 342.2 L105.4 335.3 L120 329.2 L134.9 323.9 L150.2 319.4 L165.8 315.5 L181.6 312.4 L197.7 310 L213.9 308.3 L230.3 307.3 L246.8 306.9 L263.3 307.2 L279.8 308.2 L296.2 309.8 L312.6 312.1 L328.9 315 L345 318.6 L360.9 322.8 L376.6 327.6 L391.9 333 L407 339.1 L421.7 345.9 L435.9 353.2 L449.7 361.3 L463 369.9 L475.7 379.2 L487.8 389.2 L499.2 399.9 L509.9 411.2 L519.8 423.3 L528.7 436.1 L536.7 449.7M83.3 578.5 L80.9 561.5 L79.9 544.5 L80.2 527.8 L81.7 511.1 L84.4 494.8 L88.2 478.6 L93 462.7 L98.8 447.2 L105.6 431.9 L113.2 417.1 L121.6 402.6 L130.8 388.6 L140.7 375 L151.4 362 L162.7 349.4 L174.6 337.4 L187.1 325.9 L200.1 315 L213.6 304.8 L227.6 295.2 L242 286.3 L256.8 278.2 L271.9 270.8 L287.4 264.1 L303.1 258.3 L319.1 253.4 L335.3 249.3 L351.7 246.2 L368.1 244.1 L384.7 242.9 L401.3 242.9 L417.9 243.9 L434.4 246.2 L450.8 249.7 L467 254.5 L483.1 260.7M34.9 360.4 L46.7 348 L59.4 336.7 L72.8 326.6 L86.8 317.5 L101.3 309.5 L116.4 302.5 L131.9 296.5 L147.7 291.4 L163.8 287.3 L180.2 284.1 L196.8 281.8 L213.5 280.4 L230.3 279.8 L247.2 280.1 L264.1 281.2 L280.9 283.2 L297.6 285.9 L314.2 289.4 L330.6 293.8 L346.8 298.9 L362.7 304.7 L378.2 311.3 L393.4 318.7 L408.2 326.8 L422.4 335.6 L436.2 345.1 L449.4 355.3 L461.9 366.3 L473.8 377.9 L484.9 390.3 L495.2 403.3 L504.6 417 L513 431.4 L520.4 446.5 L526.6 462.3 L531.5 478.8M31.2 460.4 L39.5 448.5 L48.8 437.3 L58.8 426.7 L69.5 416.6 L80.9 407.2 L92.9 398.2 L105.5 389.8 L118.6 381.9 L132.2 374.5 L146.2 367.6 L160.5 361.2 L175.3 355.3 L190.3 349.9 L205.6 345 L221.1 340.7 L236.9 336.8 L252.8 333.4 L268.8 330.5 L284.9 328.2 L301 326.4 L317.2 325.1 L333.3 324.4 L349.4 324.2 L365.3 324.6 L381.2 325.5 L396.8 327 L412.3 329.2 L427.5 331.9 L442.4 335.3 L457 339.3 L471.2 344 L485 349.4 L498.4 355.5 L511.2 362.4 L523.5 370.2 L535.2 378.8M153.8 199.5 L172.9 196.4 L191.8 194.9 L210.5 195 L229 196.5 L247.1 199.5 L264.8 203.7 L282 209.2 L298.8 215.9 L315 223.7 L330.5 232.5 L345.5 242.3 L359.8 253.1 L373.3 264.7 L386.2 277.1 L398.2 290.2 L409.4 304.1 L419.8 318.6 L429.3 333.7 L437.9 349.4 L445.5 365.5 L452.2 382 L457.8 399 L462.4 416.2 L466 433.7 L468.4 451.4 L469.7 469.2 L469.8 487.1 L468.8 505.1 L466.5 522.9 L462.9 540.7 L458 558.2 L451.8 575.5 L444.1 592.3 L435.1 608.7 L424.6 624.6 L412.6 639.7M330.1 168.6 L343.4 179.8 L355.6 191.8 L366.6 204.7 L376.6 218.2 L385.6 232.4 L393.6 247.1 L400.6 262.3 L406.6 277.9 L411.7 293.9 L415.8 310.1 L419.1 326.6 L421.4 343.3 L422.9 360.2 L423.5 377.1 L423.3 394 L422.2 411 L420.3 427.9 L417.6 444.7 L414.1 461.4 L409.8 477.8 L404.6 494 L398.7 509.9 L392 525.5 L384.6 540.6 L376.3 555.4 L367.4 569.6 L357.6 583.2 L347.1 596.3 L335.9 608.7 L323.9 620.3 L311.1 631.2 L297.7 641.1 L283.4 650.1 L268.5 658.1 L252.8 665 L236.3 670.6M524 334.8 L519 349.6 L512.9 363.8 L505.8 377.5 L497.7 390.6 L488.8 403.3 L479.1 415.5 L468.6 427.1 L457.5 438.3 L445.7 449 L433.4 459.1 L420.5 468.8 L407.1 477.9 L393.3 486.5 L379.1 494.5 L364.5 502 L349.6 509 L334.4 515.3 L318.9 521.1 L303.3 526.3 L287.4 530.9 L271.5 534.8 L255.4 538.1 L239.3 540.7 L223.1 542.7 L207 544 L190.9 544.5 L174.9 544.3 L159.1 543.4 L143.4 541.6 L127.9 539.1 L112.7 535.7 L97.9 531.4 L83.3 526.2 L69.2 520 L55.5 512.7 L42.4 504.4M384.9 653.8 L369.8 649.8 L355.2 644.8 L341 638.6 L327.3 631.6 L314 623.6 L301.1 614.8 L288.7 605.2 L276.8 594.9 L265.3 583.9 L254.3 572.3 L243.7 560.2 L233.7 547.5 L224.1 534.3 L215.1 520.7 L206.5 506.7 L198.6 492.3 L191.1 477.6 L184.3 462.6 L178 447.3 L172.3 431.8 L167.2 416.2 L162.8 400.4 L159 384.5 L155.9 368.5 L153.5 352.5 L151.9 336.5 L150.9 320.5 L150.8 304.6 L151.4 288.9 L152.9 273.3 L155.2 257.9 L158.4 242.7 L162.6 227.8 L167.8 213.3 L174.1 199.1 L181.5 185.4M524 334.8 L518.1 348.2 L511.1 361.2 L503.3 373.7 L494.7 385.7 L485.2 397.3 L475.1 408.4 L464.3 419.2 L452.9 429.5 L440.9 439.3 L428.4 448.7 L415.4 457.7 L401.9 466.3 L388.1 474.3 L373.9 482 L359.4 489.1 L344.6 495.8 L329.5 501.9 L314.2 507.6 L298.7 512.8 L283.1 517.4 L267.4 521.5 L251.6 525 L235.8 528 L219.9 530.4 L204.1 532.2 L188.4 533.3 L172.7 533.8 L157.2 533.6 L141.9 532.8 L126.7 531.2 L111.8 528.9 L97.2 525.7 L82.9 521.8 L69 517 L55.5 511.2 L42.4 504.4M33.6 366.1 L45.6 357.5 L58.3 349.7 L71.5 342.9 L85.2 336.9 L99.3 331.7 L113.8 327.2 L128.7 323.6 L143.8 320.6 L159.3 318.3 L174.9 316.6 L190.7 315.6 L206.7 315.3 L222.7 315.5 L238.9 316.4 L255 317.8 L271.2 319.8 L287.3 322.4 L303.3 325.6 L319.3 329.2 L335 333.5 L350.6 338.3 L365.9 343.6 L381 349.4 L395.8 355.8 L410.2 362.6 L424.2 370 L437.8 377.9 L450.9 386.3 L463.5 395.3 L475.5 404.7 L487 414.7 L497.7 425.2 L507.8 436.3 L517 447.9 L525.4 460.2 L532.8 473.1M97.4 244.5 L114.9 235.1 L132.9 227.3 L151.3 221.1 L169.8 216.4 L188.5 213.3 L207.2 211.6 L225.9 211.4 L244.4 212.5 L262.7 214.9 L280.7 218.5 L298.4 223.4 L315.6 229.5 L332.4 236.6 L348.7 244.9 L364.4 254.2 L379.5 264.4 L393.9 275.6 L407.5 287.6 L420.4 300.6 L432.4 314.2 L443.5 328.7 L453.7 343.8 L462.9 359.6 L471.1 375.9 L478.1 392.8 L484 410.2 L488.8 427.9 L492.3 446.1 L494.5 464.5 L495.3 483.1 L494.8 501.9 L492.7 520.7 L489.2 539.5 L484.1 558.2 L477.4 576.6 L469 594.7M54 307.1 L67.3 303.8 L81 301.4 L94.9 299.8 L109 299 L123.4 299 L137.9 299.6 L152.6 300.9 L167.5 302.8 L182.4 305.4 L197.4 308.5 L212.5 312.1 L227.6 316.2 L242.7 320.9 L257.7 326.1 L272.7 331.7 L287.5 337.7 L302.3 344.2 L316.8 351.1 L331.2 358.4 L345.3 366.1 L359.2 374.1 L372.8 382.5 L386.1 391.3 L399 400.4 L411.5 409.7 L423.6 419.4 L435.2 429.4 L446.4 439.7 L457 450.3 L467 461.1 L476.4 472.2 L485.1 483.6 L493.2 495.3 L500.4 507.3 L506.9 519.5 L512.4 532.1M487.5 266.5 L487.6 282.4 L486.4 298.1 L484.1 313.6 L480.8 328.9 L476.4 344 L471 358.9 L464.8 373.4 L457.7 387.7 L449.9 401.7 L441.3 415.3 L432.1 428.6 L422.1 441.5 L411.6 454.1 L400.5 466.2 L388.8 477.8 L376.6 489 L364 499.8 L351 510 L337.5 519.7 L323.7 528.8 L309.5 537.3 L295 545.2 L280.3 552.5 L265.3 559.1 L250.1 565 L234.8 570.2 L219.3 574.6 L203.6 578.2 L188 581 L172.2 582.9 L156.5 583.8 L140.8 583.8 L125.1 582.8 L109.6 580.6 L94.2 577.3 L78.9 572.7M28.1 409.2 L39.2 402.8 L50.9 396.9 L63.2 391.5 L75.9 386.7 L89 382.3 L102.6 378.3 L116.5 374.8 L130.8 371.7 L145.4 369 L160.3 366.6 L175.5 364.6 L190.8 363 L206.3 361.8 L222 360.9 L237.8 360.3 L253.7 360.1 L269.6 360.3 L285.6 360.7 L301.5 361.6 L317.4 362.7 L333.3 364.2 L349 366 L364.5 368.2 L379.9 370.7 L395.1 373.6 L410 376.8 L424.6 380.3 L439 384.2 L453 388.5 L466.6 393.2 L479.8 398.2 L492.5 403.7 L504.8 409.5 L516.5 415.9 L527.7 422.7 L538.3 430M75.2 271.6 L89.7 268.3 L104.5 266.1 L119.4 264.9 L134.4 264.8 L149.4 265.5 L164.6 267.1 L179.7 269.5 L194.9 272.7 L210 276.7 L225 281.3 L240 286.6 L254.8 292.6 L269.5 299.2 L284 306.3 L298.3 314 L312.4 322.3 L326.1 331 L339.6 340.3 L352.8 350 L365.6 360.2 L378 370.7 L390 381.7 L401.5 393.1 L412.5 404.8 L423 416.8 L432.9 429.2 L442.2 441.9 L450.9 454.9 L458.9 468.2 L466.2 481.7 L472.6 495.4 L478.3 509.4 L483 523.7 L486.8 538.1 L489.6 552.8 L491.2 567.6M538 436 L527.1 445.3 L515.5 453.7 L503.4 461.4 L490.6 468.4 L477.4 474.7 L463.7 480.4 L449.6 485.5 L435.1 490 L420.2 494 L405.1 497.3 L389.7 500.2 L374.1 502.4 L358.2 504.2 L342.3 505.4 L326.2 506.2 L310.1 506.4 L293.9 506.1 L277.7 505.3 L261.5 504 L245.4 502.2 L229.4 499.9 L213.6 497.1 L197.9 493.9 L182.5 490.1 L167.3 485.8 L152.3 481 L137.8 475.7 L123.5 469.9 L109.7 463.6 L96.4 456.7 L83.5 449.3 L71.2 441.3 L59.5 432.7 L48.4 423.6 L38 413.7 L28.4 403.2M101.2 598.6 L92.9 580.8 L86.3 562.6 L81.3 544.2 L77.8 525.7 L75.7 507.2 L75.1 488.7 L75.9 470.3 L78 452.1 L81.3 434.2 L85.9 416.6 L91.6 399.4 L98.4 382.6 L106.3 366.3 L115.2 350.6 L125 335.5 L135.8 321 L147.4 307.2 L159.9 294.2 L173.1 282 L187.1 270.6 L201.8 260 L217 250.4 L232.9 241.8 L249.3 234.2 L266.2 227.7 L283.5 222.3 L301.1 218 L319.1 215 L337.3 213.2 L355.7 212.7 L374.2 213.6 L392.7 216 L411.2 219.8 L429.5 225.1 L447.5 232 L465.2 240.6M74.8 272.1 L89.3 268.9 L104 266.7 L118.9 265.6 L133.8 265.5 L148.8 266.3 L163.9 267.9 L179.1 270.4 L194.2 273.6 L209.2 277.5 L224.3 282.2 L239.2 287.5 L254 293.4 L268.7 300 L283.2 307.1 L297.5 314.8 L311.6 323 L325.4 331.7 L338.9 340.9 L352 350.6 L364.8 360.7 L377.3 371.2 L389.3 382.2 L400.8 393.5 L411.9 405.1 L422.4 417.1 L432.4 429.4 L441.8 442.1 L450.5 455 L458.6 468.2 L465.9 481.6 L472.5 495.3 L478.2 509.2 L483.1 523.4 L487 537.7 L489.8 552.3 L491.6 567.1M493 274.1 L492.3 289.8 L490.5 305.4 L487.4 320.7 L483.4 335.8 L478.3 350.6 L472.3 365.1 L465.5 379.3 L457.9 393.2 L449.4 406.8 L440.3 420 L430.5 432.8 L420.1 445.3 L409.1 457.4 L397.5 469 L385.4 480.2 L372.9 490.9 L359.9 501.1 L346.5 510.8 L332.7 520 L318.6 528.6 L304.1 536.6 L289.4 544 L274.5 550.7 L259.3 556.8 L244 562.2 L228.5 566.9 L212.9 570.8 L197.3 573.9 L181.6 576.2 L165.9 577.7 L150.2 578.2 L134.6 577.7 L119 576.3 L103.6 573.7 L88.4 570 L73.4 565.1M193 658.4 L193.3 646.5 L194 634.3 L195.2 621.7 L196.9 608.8 L198.9 595.6 L201.3 582.2 L204 568.4 L207 554.5 L210.4 540.3 L214 526 L217.9 511.5 L222.1 496.8 L226.6 482.1 L231.2 467.3 L236.1 452.4 L241.3 437.5 L246.6 422.7 L252.1 407.8 L257.7 393.1 L263.6 378.4 L269.6 363.9 L275.7 349.5 L282 335.3 L288.5 321.3 L295 307.5 L301.6 294.1 L308.4 280.9 L315.3 268.1 L322.2 255.6 L329.2 243.5 L336.4 231.8 L343.6 220.6 L350.9 209.8 L358.3 199.6 L365.8 189.9 L373.4 180.8M529.5 352.4 L523.3 366.6 L516.1 380.2 L508 393.2 L498.9 405.6 L489.1 417.5 L478.5 428.8 L467.2 439.6 L455.2 449.9 L442.7 459.6 L429.7 468.7 L416.1 477.3 L402.1 485.4 L387.7 492.9 L373 499.9 L357.9 506.2 L342.5 512.1 L326.9 517.3 L311.1 521.9 L295.1 526 L279 529.4 L262.8 532.2 L246.6 534.3 L230.4 535.8 L214.1 536.7 L198 536.8 L182 536.3 L166.1 535 L150.4 533 L134.9 530.3 L119.7 526.7 L104.8 522.3 L90.3 517.1 L76.2 511 L62.5 503.9 L49.4 495.9 L36.9 486.8M533.3 368.3 L522.9 373.6 L511.9 378.7 L500.5 383.8 L488.5 388.7 L476.2 393.5 L463.4 398.2 L450.3 402.7 L436.7 407.2 L422.9 411.5 L408.8 415.8 L394.4 419.9 L379.7 423.9 L364.9 427.8 L349.8 431.6 L334.7 435.3 L319.4 438.8 L304 442.2 L288.5 445.5 L273 448.6 L257.5 451.5 L242.1 454.3 L226.7 456.9 L211.4 459.4 L196.2 461.6 L181.1 463.7 L166.3 465.6 L151.6 467.2 L137.2 468.7 L123 469.9 L109.1 470.9 L95.5 471.6 L82.3 472.1 L69.4 472.3 L56.9 472.2 L44.8 471.7 L33.1 470.9M119.9 615.8 L118.6 601.5 L118.4 587.1 L119.1 572.6 L120.8 558.1 L123.3 543.5 L126.6 529 L130.7 514.5 L135.5 500 L141 485.6 L147.1 471.3 L153.8 457.1 L161.1 443 L168.9 429.2 L177.3 415.5 L186.1 402 L195.4 388.8 L205.2 375.8 L215.4 363.2 L226 350.9 L236.9 338.9 L248.3 327.3 L259.9 316.2 L271.8 305.5 L284.1 295.2 L296.5 285.5 L309.3 276.3 L322.2 267.7 L335.4 259.7 L348.8 252.4 L362.3 245.8 L376 239.9 L389.8 234.7 L403.8 230.5 L417.9 227.1 L432.2 224.7 L446.5 223.4M422.6 205.7 L431.8 221.3 L439.5 237.3 L445.9 253.7 L451 270.4 L454.7 287.2 L457.3 304.3 L458.7 321.4 L458.9 338.6 L458.1 355.7 L456.2 372.8 L453.3 389.7 L449.4 406.4 L444.6 423 L438.9 439.2 L432.3 455.1 L424.8 470.7 L416.6 485.9 L407.5 500.6 L397.7 514.8 L387.2 528.5 L376 541.6 L364 554.1 L351.5 565.9 L338.3 577 L324.6 587.3 L310.3 596.8 L295.4 605.4 L280.1 613.1 L264.3 619.8 L248.1 625.4 L231.4 630 L214.5 633.4 L197.2 635.5 L179.6 636.3 L161.8 635.6 L143.8 633.5M519.3 322.5 L520.3 342.2 L519.6 361.5 L517.4 380.5 L513.6 399 L508.5 416.9 L502.1 434.3 L494.5 451.1 L485.7 467.2 L475.9 482.6 L465 497.2 L453.3 511 L440.6 524 L427.2 536.1 L413 547.3 L398.2 557.6 L382.8 567 L366.8 575.4 L350.3 582.7 L333.4 589.1 L316.1 594.4 L298.6 598.6 L280.8 601.7 L262.8 603.7 L244.7 604.5 L226.6 604.2 L208.5 602.6 L190.6 599.9 L172.7 595.9 L155.2 590.6 L138 584.1 L121.2 576.2 L104.9 567.1 L89.3 556.5 L74.3 544.6 L60.2 531.4 L47.1 516.7M453.4 229.3 L459.1 245.8 L463.3 262.4 L466.1 279.2 L467.7 296 L468.1 312.7 L467.3 329.5 L465.5 346.1 L462.6 362.6 L458.7 378.9 L453.8 395 L448 410.8 L441.4 426.4 L434 441.5 L425.7 456.4 L416.8 470.8 L407 484.7 L396.7 498.2 L385.6 511.2 L374 523.6 L361.7 535.4 L348.9 546.6 L335.6 557.2 L321.8 567 L307.5 576.1 L292.8 584.4 L277.7 591.9 L262.3 598.5 L246.5 604.2 L230.4 608.9 L214.1 612.6 L197.6 615.2 L180.8 616.7 L164 617 L147 616 L130 613.7 L113 609.9M396.2 190.7 L398.7 203.8 L400.4 217.2 L401.3 230.9 L401.5 244.8 L401 259 L399.8 273.3 L398 287.8 L395.7 302.4 L392.8 317.2 L389.3 332 L385.4 346.9 L381 361.8 L376.1 376.7 L370.8 391.6 L365 406.5 L358.9 421.2 L352.3 435.8 L345.4 450.3 L338.1 464.6 L330.5 478.7 L322.5 492.6 L314.3 506.1 L305.7 519.4 L296.8 532.4 L287.7 544.9 L278.2 557.1 L268.5 568.9 L258.6 580.1 L248.4 590.9 L238 601.1 L227.3 610.8 L216.4 619.8 L205.2 628.1 L193.8 635.7 L182.1 642.5 L170.2 648.5M43.3 332.3 L56.6 322.8 L70.4 314.5 L84.7 307.3 L99.5 301.1 L114.7 296 L130.1 291.9 L145.9 288.7 L161.9 286.4 L178 284.9 L194.3 284.3 L210.7 284.5 L227.1 285.6 L243.5 287.3 L259.8 289.9 L276.1 293.2 L292.3 297.2 L308.3 301.8 L324.1 307.2 L339.7 313.3 L354.9 320 L369.9 327.3 L384.5 335.3 L398.7 343.8 L412.4 353 L425.6 362.8 L438.3 373.1 L450.4 384 L461.8 395.5 L472.5 407.6 L482.6 420.1 L491.7 433.3 L500.1 446.9 L507.4 461.1 L513.8 475.9 L519.1 491.1 L523.1 506.9M33.3 471.7 L43.3 465.2 L54 459 L65.2 453 L76.8 447.1 L89 441.5 L101.6 436 L114.6 430.7 L128 425.6 L141.7 420.6 L155.7 415.8 L170 411.2 L184.6 406.8 L199.4 402.5 L214.4 398.4 L229.6 394.5 L244.9 390.7 L260.3 387.2 L275.8 383.9 L291.3 380.8 L306.8 377.8 L322.3 375.1 L337.8 372.7 L353.2 370.4 L368.4 368.4 L383.6 366.7 L398.6 365.2 L413.3 364 L427.9 363 L442.2 362.4 L456.2 362 L470 362 L483.4 362.3 L496.4 363 L509.1 364.1 L521.3 365.6 L533.1 367.5M491.6 567.1 L476.1 573.7 L460.2 579 L444.2 583 L428 585.8 L411.6 587.5 L395.2 588.1 L378.8 587.6 L362.4 586.1 L346.1 583.7 L329.9 580.4 L313.8 576.2 L297.9 571.2 L282.2 565.3 L266.8 558.7 L251.7 551.3 L237 543.3 L222.6 534.5 L208.6 525.1 L195 515 L182 504.3 L169.4 493.1 L157.5 481.3 L146.1 469 L135.4 456.2 L125.3 442.9 L116 429.1 L107.5 414.9 L99.8 400.3 L93 385.4 L87 370 L82.1 354.4 L78.3 338.4 L75.5 322.2 L74 305.7 L73.7 289 L74.8 272.1M44.9 328 L57 311.3 L70.4 295.9 L84.8 281.9 L100.2 269.2 L116.3 257.9 L133.2 248 L150.6 239.6 L168.5 232.5 L186.8 226.8 L205.4 222.5 L224.2 219.6 L243 218 L261.9 217.8 L280.7 218.8 L299.4 221.2 L317.9 224.9 L336 229.8 L353.8 235.9 L371.1 243.3 L387.8 251.8 L404 261.4 L419.4 272.1 L434.1 283.9 L448 296.7 L461 310.5 L473 325.3 L483.9 340.9 L493.7 357.4 L502.2 374.6 L509.5 392.6 L515.4 411.2 L519.9 430.4 L522.8 450.1 L524.1 470.2 L523.7 490.6 L521.5 511.2M41.4 501.5 L43.7 483.5 L47.5 466.1 L52.6 449.2 L59 433 L66.4 417.3 L75 402.3 L84.5 388 L94.9 374.3 L106.1 361.4 L118.1 349.1 L130.9 337.6 L144.3 326.8 L158.3 316.8 L172.8 307.5 L187.9 299.1 L203.4 291.4 L219.2 284.6 L235.5 278.6 L252 273.5 L268.7 269.3 L285.7 265.9 L302.8 263.5 L319.9 262 L337.2 261.5 L354.4 261.9 L371.5 263.3 L388.5 265.7 L405.3 269.2 L421.9 273.7 L438.1 279.4 L454 286.1 L469.4 294 L484.3 303.1 L498.6 313.3 L512.2 324.9 L525 337.7M27.9 421.5 L34.3 402.8 L42.1 385.1 L51.3 368.3 L61.6 352.5 L73.1 337.6 L85.5 323.8 L98.8 311.1 L113 299.4 L127.8 288.8 L143.4 279.2 L159.4 270.8 L176 263.4 L193 257.2 L210.4 252 L228 248 L245.8 245.1 L263.8 243.3 L281.9 242.6 L300 243 L318 244.5 L335.9 247.2 L353.5 251 L371 255.9 L388.1 261.9 L404.8 269 L421 277.2 L436.6 286.5 L451.6 296.9 L466 308.4 L479.5 320.9 L492.1 334.5 L503.8 349.2 L514.3 364.9 L523.7 381.5 L531.8 399.2 L538.5 417.7M163.2 194.3 L176.3 199.1 L189 204.9 L201.5 211.5 L213.7 219 L225.7 227.2 L237.4 236.1 L248.7 245.6 L259.9 255.7 L270.7 266.4 L281.2 277.7 L291.5 289.4 L301.4 301.5 L311 314.1 L320.3 327.1 L329.3 340.4 L337.8 354 L346 367.9 L353.8 382 L361.2 396.4 L368.1 410.9 L374.7 425.6 L380.7 440.5 L386.3 455.4 L391.3 470.4 L395.9 485.4 L399.9 500.5 L403.3 515.5 L406.1 530.4 L408.3 545.3 L409.9 560.1 L410.7 574.7 L410.9 589.2 L410.2 603.5 L408.8 617.6 L406.5 631.4 L403.2 644.9M120.1 223.2 L133.6 225.6 L147 229 L160.3 233.2 L173.6 238.3 L186.7 244.1 L199.7 250.7 L212.6 257.8 L225.4 265.7 L238 274.1 L250.5 283 L262.7 292.5 L274.8 302.5 L286.7 312.9 L298.3 323.7 L309.6 335 L320.7 346.6 L331.5 358.5 L342 370.8 L352.1 383.3 L361.9 396.1 L371.2 409.1 L380.2 422.3 L388.7 435.8 L396.8 449.3 L404.4 463 L411.5 476.8 L418 490.7 L423.9 504.6 L429.3 518.6 L434 532.6 L438 546.6 L441.3 560.6 L443.9 574.5 L445.6 588.4 L446.5 602.2 L446.3 616M537.5 442.5 L528.2 458.3 L517.8 473 L506.4 486.7 L494 499.3 L480.9 510.9 L467.1 521.4 L452.6 530.9 L437.5 539.4 L421.9 547 L405.9 553.5 L389.6 559 L372.9 563.6 L355.9 567.3 L338.8 569.9 L321.6 571.6 L304.2 572.4 L286.9 572.3 L269.5 571.2 L252.3 569.1 L235.2 566.2 L218.2 562.3 L201.6 557.5 L185.2 551.9 L169.2 545.3 L153.6 537.8 L138.5 529.4 L123.9 520.1 L109.9 509.9 L96.6 498.8 L84.1 486.8 L72.3 474 L61.5 460.3 L51.6 445.7 L42.8 430.2 L35.2 413.8 L28.9 396.7M524.6 502.7 L512.1 505.6 L499.2 507.8 L486 509.4 L472.4 510.4 L458.6 510.8 L444.5 510.6 L430.1 510 L415.5 508.9 L400.8 507.3 L385.8 505.2 L370.8 502.8 L355.6 499.9 L340.4 496.6 L325.1 493 L309.8 489 L294.5 484.6 L279.3 479.9 L264.2 474.9 L249.1 469.5 L234.3 463.8 L219.5 457.9 L205 451.6 L190.7 445.1 L176.7 438.3 L163 431.2 L149.6 423.9 L136.6 416.3 L124 408.5 L111.8 400.4 L100.1 392.1 L88.8 383.5 L78.2 374.7 L68.1 365.6 L58.6 356.2 L49.9 346.5 L41.8 336.5M49.3 317.2 L60.9 318.8 L72.9 320.9 L85.1 323.3 L97.7 326.1 L110.6 329.3 L123.8 332.8 L137.2 336.6 L150.8 340.8 L164.6 345.2 L178.6 349.8 L192.8 354.7 L207.1 359.9 L221.5 365.2 L235.9 370.8 L250.4 376.6 L265 382.5 L279.5 388.6 L294 394.9 L308.5 401.3 L322.8 407.8 L337 414.5 L351.1 421.2 L365 428.1 L378.7 435 L392.2 442 L405.4 449.1 L418.3 456.2 L431 463.4 L443.2 470.6 L455.1 477.9 L466.6 485.2 L477.7 492.5 L488.3 499.8 L498.4 507.2 L508 514.5 L517.1 522M312.9 673.2 L308.4 662.3 L304.2 651 L300.2 639.2 L296.3 626.9 L292.6 614.1 L289 601 L285.5 587.5 L282.2 573.7 L279.1 559.5 L276 545.1 L273.2 530.4 L270.4 515.4 L267.8 500.3 L265.3 485 L262.9 469.5 L260.7 454 L258.7 438.4 L256.8 422.7 L255 407 L253.4 391.3 L252 375.7 L250.7 360.1 L249.6 344.7 L248.6 329.3 L247.8 314.2 L247.3 299.2 L246.9 284.4 L246.7 269.9 L246.7 255.7 L246.9 241.8 L247.4 228.2 L248.1 214.9 L249 202.1 L250.2 189.6 L251.7 177.6 L253.5 166M215.6 665.8 L205.3 653.3 L196.1 640.2 L188 626.5 L180.9 612.3 L174.8 597.6 L169.6 582.6 L165.3 567.2 L161.9 551.5 L159.2 535.5 L157.5 519.4 L156.5 503.1 L156.2 486.8 L156.8 470.3 L158 453.8 L160 437.4 L162.7 421 L166.1 404.7 L170.2 388.6 L174.9 372.6 L180.3 356.9 L186.4 341.4 L193.1 326.2 L200.4 311.4 L208.3 297 L216.9 283 L226.1 269.6 L235.9 256.6 L246.2 244.2 L257.2 232.5 L268.8 221.5 L280.9 211.2 L293.7 201.7 L307.1 193.1 L321 185.5 L335.6 178.9 L350.8 173.4M538.4 411.5 L529.7 425.6 L520.1 438.8 L509.5 451.1 L498.2 462.6 L486 473.3 L473.2 483.1 L459.8 492.2 L445.8 500.5 L431.4 508 L416.5 514.8 L401.2 520.8 L385.5 526.1 L369.6 530.7 L353.4 534.5 L337 537.6 L320.5 540 L303.8 541.6 L287.1 542.5 L270.3 542.6 L253.6 542.1 L236.9 540.8 L220.4 538.7 L204 535.9 L187.8 532.4 L171.8 528.1 L156.2 523 L140.9 517.2 L126 510.6 L111.5 503.2 L97.6 495 L84.2 485.9 L71.4 476.1 L59.3 465.3 L48 453.7 L37.5 441.2 L28 427.7M153.9 199.5 L169.2 201.7 L184.2 205.1 L198.8 209.6 L213.2 215.1 L227.2 221.5 L241 228.8 L254.3 236.8 L267.3 245.7 L279.9 255.2 L292.2 265.4 L304 276.2 L315.5 287.6 L326.5 299.6 L337.1 312 L347.2 324.9 L356.8 338.2 L366 351.9 L374.6 365.9 L382.6 380.3 L390.2 394.9 L397.1 409.8 L403.4 424.9 L409.1 440.2 L414.2 455.6 L418.6 471.2 L422.3 486.8 L425.2 502.5 L427.4 518.1 L428.8 533.8 L429.3 549.4 L429 564.9 L427.8 580.3 L425.6 595.5 L422.3 610.5 L418 625.3 L412.5 639.7M124 619.2 L119.7 603.7 L116.7 588.2 L114.8 572.5 L114.1 556.7 L114.4 540.9 L115.8 525.1 L118 509.4 L121.2 493.7 L125.2 478.2 L130 462.7 L135.5 447.5 L141.9 432.4 L148.9 417.6 L156.6 403 L164.9 388.7 L173.9 374.8 L183.4 361.2 L193.5 348 L204.1 335.2 L215.2 322.9 L226.8 311.1 L238.9 299.8 L251.4 289.1 L264.3 278.9 L277.6 269.4 L291.2 260.6 L305.2 252.5 L319.5 245.2 L334.1 238.6 L348.9 232.9 L364 228.1 L379.3 224.3 L394.9 221.5 L410.6 219.8 L426.4 219.3 L442.4 220M40.8 499.8 L51.4 495.5 L62.4 491.1 L73.8 486.6 L85.7 482 L97.9 477.3 L110.6 472.6 L123.5 467.8 L136.8 463 L150.4 458.1 L164.2 453.2 L178.3 448.2 L192.6 443.2 L207 438.2 L221.6 433.1 L236.4 428.1 L251.2 423.1 L266.1 418.1 L281.1 413.1 L296 408.2 L311 403.3 L325.9 398.5 L340.7 393.7 L355.4 389 L370 384.4 L384.4 379.9 L398.7 375.5 L412.7 371.2 L426.6 367.1 L440.1 363 L453.4 359.1 L466.3 355.4 L478.9 351.8 L491.2 348.4 L503 345.2 L514.5 342.2 L525.6 339.4M537.7 399.5 L528.6 411.3 L518.7 422.3 L508 432.6 L496.6 442.2 L484.5 451.2 L471.9 459.6 L458.7 467.4 L445 474.6 L430.9 481.1 L416.4 487.2 L401.5 492.6 L386.3 497.5 L370.8 501.9 L355.1 505.7 L339.2 508.9 L323.2 511.6 L307 513.7 L290.7 515.3 L274.4 516.3 L258.1 516.7 L241.8 516.6 L225.6 515.9 L209.5 514.6 L193.6 512.7 L177.8 510.3 L162.3 507.2 L147 503.5 L132 499.2 L117.4 494.3 L103.1 488.7 L89.3 482.4 L76 475.4 L63.2 467.7 L51 459.1 L39.5 449.8 L28.7 439.7M62.5 548 L68 536 L74.3 524.2 L81.3 512.6 L89.1 501.2 L97.5 490 L106.6 479 L116.2 468.1 L126.3 457.4 L137 446.9 L148.2 436.6 L159.7 426.6 L171.7 416.7 L184.1 407.1 L196.8 397.7 L209.8 388.6 L223 379.8 L236.6 371.3 L250.3 363.1 L264.2 355.2 L278.3 347.6 L292.6 340.4 L306.9 333.6 L321.3 327.2 L335.8 321.2 L350.2 315.7 L364.7 310.6 L379.2 306 L393.6 301.9 L407.9 298.3 L422.1 295.3 L436.2 292.9 L450.1 291.1 L463.8 290 L477.4 289.6 L490.7 290 L503.9 291.2M27.9 419.4 L38.5 411.1 L49.8 403.5 L61.6 396.5 L74 390 L87 384.1 L100.3 378.6 L114.1 373.7 L128.3 369.2 L142.8 365.2 L157.6 361.6 L172.7 358.5 L188.1 355.8 L203.6 353.5 L219.3 351.7 L235.2 350.2 L251.2 349.2 L267.2 348.6 L283.3 348.4 L299.3 348.6 L315.3 349.2 L331.3 350.3 L347.2 351.7 L362.9 353.6 L378.4 355.9 L393.8 358.6 L408.9 361.8 L423.7 365.4 L438.2 369.4 L452.4 373.9 L466.1 378.9 L479.5 384.4 L492.4 390.3 L504.8 396.8 L516.6 403.9 L527.9 411.5 L538.5 419.8M528.5 348.8 L519.1 356.6 L509.2 364.1 L498.6 371.4 L487.6 378.4 L476 385.4 L464 392.1 L451.5 398.7 L438.6 405.1 L425.4 411.3 L411.8 417.3 L397.9 423.2 L383.7 428.9 L369.3 434.5 L354.7 439.8 L339.9 444.9 L324.9 449.9 L309.8 454.6 L294.6 459.1 L279.3 463.4 L264 467.4 L248.7 471.2 L233.4 474.8 L218.2 478 L203.1 481 L188 483.8 L173.2 486.2 L158.4 488.3 L143.9 490.1 L129.6 491.5 L115.6 492.6 L101.8 493.3 L88.3 493.6 L75.2 493.5 L62.4 493 L49.9 491.9 L37.9 490.4" fill="none" stroke="#2020dc" stroke-width="1.2"/>
<g fill="none" stroke="#2424e0" stroke-width="1"><circle cx="394.8" cy="370.5" r="2.3"/><circle cx="181.9" cy="607.8" r="2.3"/><circle cx="224.5" cy="175.8" r="2.3"/><circle cx="190.7" cy="642.7" r="2.3"/><circle cx="489.9" cy="546" r="2.3"/><circle cx="143.6" cy="238" r="2.3"/><circle cx="332.1" cy="665.6" r="2.3"/><circle cx="531.4" cy="383.8" r="2.3"/><circle cx="237.3" cy="664.2" r="2.3"/><circle cx="336.8" cy="631.5" r="2.3"/><circle cx="217.8" cy="570.5" r="2.3"/><circle cx="269.7" cy="299.7" r="2.3"/><circle cx="382.7" cy="295.1" r="2.3"/><circle cx="347.4" cy="245.6" r="2.3"/><circle cx="351.3" cy="608.9" r="2.3"/><circle cx="403.2" cy="603.1" r="2.3"/><circle cx="394.5" cy="297.1" r="2.3"/><circle cx="354.1" cy="210.7" r="2.3"/><circle cx="407.4" cy="308.3" r="2.3"/><circle cx="141.9" cy="494.1" r="2.3"/><circle cx="387.2" cy="581.6" r="2.3"/><circle cx="310" cy="631.2" r="2.3"/><circle cx="86.1" cy="463.3" r="2.3"/><circle cx="185.9" cy="248.3" r="2.3"/><circle cx="233.5" cy="205.2" r="2.3"/><circle cx="451.4" cy="320" r="2.3"/><circle cx="350.1" cy="513.5" r="2.3"/><circle cx="458.3" cy="504.2" r="2.3"/><circle cx="61.1" cy="319.6" r="2.3"/><circle cx="105.2" cy="551" r="2.3"/><circle cx="219.9" cy="557.5" r="2.3"/><circle cx="509.7" cy="376" r="2.3"/><circle cx="383.5" cy="331" r="2.3"/><circle cx="224.4" cy="656.7" r="2.3"/><circle cx="412.9" cy="555.7" r="2.3"/><circle cx="401.4" cy="201.8" r="2.3"/><circle cx="482.4" cy="267.2" r="2.3"/><circle cx="421.3" cy="283.1" r="2.3"/><circle cx="320.4" cy="198" r="2.3"/><circle cx="144.3" cy="227.2" r="2.3"/><circle cx="457.5" cy="263.7" r="2.3"/><circle cx="150.1" cy="207" r="2.3"/><circle cx="533.6" cy="433.8" r="2.3"/><circle cx="181.2" cy="579.1" r="2.3"/><circle cx="486.7" cy="498.7" r="2.3"/><circle cx="277.3" cy="612.8" r="2.3"/><circle cx="101.3" cy="491.6" r="2.3"/><circle cx="363" cy="290.2" r="2.3"/><circle cx="227.4" cy="226.7" r="2.3"/><circle cx="261.8" cy="627.5" r="2.3"/><circle cx="195" cy="651" r="2.3"/><circle cx="313.8" cy="262.6" r="2.3"/><circle cx="363" cy="203.2" r="2.3"/><circle cx="449.2" cy="361.9" r="2.3"/><circle cx="460.8" cy="439.9" r="2.3"/><circle cx="450.2" cy="562.7" r="2.3"/><circle cx="421.6" cy="471" r="2.3"/><circle cx="263.8" cy="583.3" r="2.3"/><circle cx="372" cy="531.3" r="2.3"/><circle cx="250.2" cy="558.2" r="2.3"/><circle cx="312.5" cy="600.7" r="2.3"/><circle cx="192.2" cy="473.1" r="2.3"/><circle cx="146" cy="394" r="2.3"/><circle cx="227.5" cy="261.5" r="2.3"/><circle cx="436.7" cy="352.9" r="2.3"/><circle cx="223.2" cy="249.2" r="2.3"/><circle cx="245.9" cy="593.7" r="2.3"/><circle cx="219.7" cy="487" r="2.3"/><circle cx="197" cy="595.2" r="2.3"/><circle cx="185.7" cy="289.5" r="2.3"/><circle cx="274.6" cy="629.6" r="2.3"/><circle cx="180.6" cy="563.8" r="2.3"/><circle cx="295.3" cy="232.7" r="2.3"/><circle cx="352.3" cy="489.9" r="2.3"/><circle cx="180.4" cy="564.8" r="2.3"/><circle cx="189.5" cy="284.5" r="2.3"/><circle cx="499" cy="501.1" r="2.3"/><circle cx="238.7" cy="256.5" r="2.3"/><circle cx="235.8" cy="188.5" r="2.3"/><circle cx="425.6" cy="538.1" r="2.3"/><circle cx="176.1" cy="349.8" r="2.3"/><circle cx="245.9" cy="328.9" r="2.3"/><circle cx="179.6" cy="327" r="2.3"/><circle cx="102.5" cy="330.4" r="2.3"/><circle cx="229.7" cy="566.5" r="2.3"/><circle cx="329.8" cy="643" r="2.3"/><circle cx="368.1" cy="299.6" r="2.3"/><circle cx="256.3" cy="489.6" r="2.3"/><circle cx="324" cy="540.2" r="2.3"/><circle cx="283.9" cy="516.9" r="2.3"/><circle cx="113.4" cy="510" r="2.3"/><circle cx="132.8" cy="544.5" r="2.3"/><circle cx="294.3" cy="296.2" r="2.3"/><circle cx="351.8" cy="220.5" r="2.3"/><circle cx="188.8" cy="635.3" r="2.3"/><circle cx="517.4" cy="392.2" r="2.3"/><circle cx="436.1" cy="461.6" r="2.3"/><circle cx="278.4" cy="266.6" r="2.3"/><circle cx="137.4" cy="505.3" r="2.3"/><circle cx="409" cy="519.9" r="2.3"/><circle cx="361.9" cy="657.3" r="2.3"/><circle cx="269.2" cy="241.9" r="2.3"/><circle cx="386.2" cy="596.6" r="2.3"/><circle cx="283.1" cy="619.5" r="2.3"/><circle cx="221" cy="203.8" r="2.3"/></g>
<circle cx="283.2" cy="419.6" r="255.3" fill="none" stroke="#000" stroke-width="3.6"/>
</g>
<g id="spolar">
<clipPath id="clip_spolar"><circle cx="286.6" cy="1032.4" r="252.5"/></clipPath>
<g clip-path="url(#clip_spolar)"><path d="M206.4 776.8 L209.2 774.9 L269.4 774.9 L271.8 778.8 L274.1 784.8 L277.3 800.7 L279.6 806.3 L283.6 810.5 L293.6 817.8 L297.5 821.6 L301.5 826.6 L305.9 834.5 L310.8 846.4 L314.9 858.4 L317 868.3 L317.3 876.3 L315.9 884.2 L313.5 890.2 L303.1 906.1 L300.5 912.1 L299.5 918 L298.7 935.9 L296.9 945.9 L292.8 957.8 L288 965.8 L281.6 972.2 L277.7 974.8 L271.7 977.3 L263.7 978.5 L247.8 976.8 L243.4 977.7 L241.7 979.7 L240.5 983.7 L239.4 1001.6 L237.6 1011.5 L234.4 1019.5 L230.4 1025.4 L224 1031.4 L220 1034.1 L214 1037 L202.1 1040.4 L190.1 1041.2 L182.2 1040.1 L176.2 1038.4 L169.5 1035.4 L164.6 1031.4 L162.4 1027.4 L161.3 1023.5 L159.7 999.6 L158.6 991.6 L157 985.7 L154.3 980.3 L150.4 975.8 L147.4 973.7 L142.4 971.4 L130.5 967.6 L124.5 965.1 L119.2 961.8 L115 957.8 L111.2 951.9 L109 943.9 L109.2 935.9 L111.8 922 L111.5 918 L110.6 916.1 L108.6 914 L104.6 912.2 L86.7 909 L82.7 907.5 L78.8 904.9 L75 900.1 L73.3 896.2 L72.4 892.2 L72.1 886.2 L73 880.3 L75.4 872.3 L85 850.4 L91.2 840.5 L94.7 836.5 L100.6 831.1 L112.6 823.4 L124.5 817.9 L136.4 813.5 L162.3 806.2 L176.2 800.5 L183 796.7 L188.2 793.1ZM317 774.9 L488.3 774.9 L493.2 784.8 L500.4 805 L504.7 812.6 L512.2 820.6 L526.3 831.2 L532.4 836.5 L538 842.5 L544.2 850.6 L544.2 993.3 L537.7 985.7 L532.4 977.7 L518.5 947.9 L512.8 937.9 L508.5 932 L504.4 927.6 L500.4 924.7 L476.5 913.3 L470.6 909.2 L465 904.1 L459.9 898.2 L454.9 890.2 L444.3 866.3 L440.7 861.2 L436.8 857 L430.8 852 L422.8 846.7 L393 831.4 L369.9 816.6 L343 800.7 L337.3 796.5 L330.9 790.8 L323.4 782.8ZM46.5 922 L52.9 920.9 L58.9 921.3 L62.9 922.7 L66.8 925.4 L70.3 930 L72.1 934 L73.6 939.9 L73.9 945.9 L72.9 955.8 L69.3 973.7 L65.6 989.6 L62.9 997.8 L60.9 1001.1 L57.6 1003.6 L52.9 1005.1 L46.9 1005.6 L41 1005.1 L37 1004.1 L33 1002.4 L29.1 999.9 L29.1 934.4 L37 926.8 L41 924.3ZM87 999.6 L94.7 999.2 L100.6 999.8 L106.6 1001.4 L112.6 1004 L122.5 1010.4 L149.4 1031.4 L152.9 1035.4 L155 1041.3 L155.2 1047.3 L153.9 1061.2 L154.4 1065.2 L155.3 1067.2 L159.2 1071.2 L172.2 1079.6 L178.2 1084.6 L183.8 1091.1 L188 1099 L190.3 1107 L191.1 1116.9 L189.8 1126.9 L187.3 1132.8 L185.7 1134.8 L182.2 1137.4 L174.2 1140.6 L164.3 1142.3 L150.4 1142.6 L146.4 1144.1 L145.2 1146.8 L145.3 1148.7 L146.6 1152.7 L149.3 1156.7 L154.3 1160.5 L161.4 1162.7 L170.3 1163.4 L178.2 1162.8 L182.2 1161.3 L184.2 1159.9 L186.7 1156.7 L192.1 1143.3 L195.7 1138.8 L200.1 1135.8 L218 1126.6 L224 1122.3 L237.9 1110.2 L243.8 1106.4 L247.8 1104.7 L251.8 1103.5 L257.8 1102.7 L265.7 1103.8 L273.7 1107.6 L279.7 1112.9 L284.3 1118.9 L288.8 1126.9 L304.7 1160.7 L308.1 1170.6 L317 1206.4 L318 1218.4 L317.6 1224.3 L316.1 1232.3 L314.2 1238.2 L311.5 1244.6 L307.9 1250.2 L305.5 1252.8 L299.5 1256.6 L283.6 1261.6 L278.1 1264.1 L253.8 1280.8 L245.8 1285 L237.9 1288.2 L231.5 1290 L204.8 1290 L198.1 1288.8 L180.2 1284.9 L168.3 1281.5 L158.3 1277.6 L150.4 1273.4 L138.4 1264.9 L102.6 1234.3 L94.7 1229.2 L74.8 1219.1 L68.5 1214.4 L62.5 1208.4 L57.9 1202.4 L54.5 1196.5 L52 1190.5 L50 1182.6 L49.1 1172.6 L49.9 1154.7 L49.4 1146.8 L47.9 1138.8 L41.8 1114.9 L39.4 1103 L38.2 1091.1 L38.7 1081.1 L41.5 1067.2 L47.8 1045.3 L53.9 1029.4 L62.9 1009.5 L64.8 1007 L68.8 1004.5 L78.8 1001.2ZM527.5 1063.2 L532.2 1061.9 L536.2 1061.5 L540.2 1061.7 L544.2 1062.7 L544.2 1130.9 L539.4 1136.8 L534.2 1141 L528.2 1143.8 L524.3 1144.7 L520.3 1144.8 L514.3 1143.3 L510.4 1140.8 L506.6 1136.8 L504.2 1132.8 L501.8 1126.9 L500.4 1120.9 L499.8 1112.9 L500 1105 L501.1 1097 L502.6 1091.1 L504.9 1085.1 L508.2 1079.1 L512.3 1073.8 L516.3 1069.9 L522.3 1065.7ZM490.2 1170.6 L494.4 1169.4 L500.4 1169.1 L504.4 1170 L509 1172.6 L512.3 1176 L515 1180.6 L516.8 1186.5 L517.4 1192.5 L517.1 1198.5 L515.9 1206.4 L505.8 1254.2 L503.7 1260.1 L500.4 1265.9 L496.8 1270.1 L492.4 1273.6 L486.5 1276.6 L478.5 1278.9 L452.7 1282 L442.3 1284 L434.8 1286.4 L427.7 1290 L301.7 1290 L302 1284 L302.8 1280 L306.2 1272.1 L311.3 1266.1 L317.4 1262.7 L331.3 1259.5 L347.3 1258.1 L357.2 1258.5 L373.1 1260.7 L381.1 1261 L385 1260.4 L391 1258.6 L401 1253.5 L406.9 1249.1 L412.9 1242.8 L436.1 1210.4 L446.7 1198.3 L452.7 1193.3 L458.6 1189.1 L482.5 1174.3Z" fill="#ffd8d8"/>
<path d="M225.5 776.8 L232.9 774.9 L246.3 774.9 L253.8 777.7 L257.8 780.8 L259.5 782.8 L262.4 788.8 L263.3 794.7 L262.3 802.7 L259 814.6 L259.8 817.8 L261.7 819.6 L264 820.6 L275.7 823.4 L281.6 825.6 L287.6 829.4 L291.6 833.5 L297 842.5 L302.4 856.4 L304.8 866.3 L305 874.3 L302.8 882.2 L300.4 886.2 L297.5 889.7 L291.6 895 L273.2 908.1 L269.8 912.1 L269.1 914.1 L269.2 916.1 L270.5 918 L277.7 923 L280.7 926 L283.2 930 L284.6 934 L285.4 939.9 L284.9 945.9 L283.3 951.9 L280.2 957.8 L277.7 960.9 L273.7 964 L269.7 965.8 L263.7 966.6 L259 965.8 L253.8 963.5 L239.9 952.2 L237.9 951.5 L233.9 951.5 L229.9 953.6 L227.1 957.8 L226.4 961.8 L226.9 967.8 L230.4 985.7 L231.2 993.6 L230.6 1003.6 L229.1 1009.5 L227.4 1013.5 L225 1017.5 L222 1021.1 L218 1024.6 L214 1027 L210 1028.9 L204.1 1030.7 L198.1 1031.5 L192.1 1031.3 L186.2 1029.9 L181 1027.4 L176.4 1023.5 L173.6 1019.5 L171.8 1015.5 L170.1 1009.5 L165.1 979.7 L162.3 971.8 L159.8 967.8 L156.3 964.2 L152.4 961.8 L136.4 956.4 L132.5 954.5 L128.5 951.7 L125.5 947.9 L123.9 943.9 L123.8 937.9 L125.6 932 L130 922 L131.5 916.1 L131 910.1 L129.3 906.1 L125.4 902.1 L120.5 899.7 L114.6 898.2 L98.7 895.9 L92.7 893.3 L89.4 890.2 L87.4 886.2 L86.7 882.2 L86.9 876.3 L90.2 862.4 L95.2 850.4 L100.8 842.5 L109.7 834.5 L120.5 828.2 L132.5 823.4 L146.4 820 L169.5 816.6 L176.2 814.7 L184.2 811.3 L190.1 807.9 L194.1 804.7 L205.9 790.8 L212 784.7 L218 780.4ZM344.4 774.9 L479.3 774.9 L483.4 782.8 L485.6 788.8 L491.6 810.6 L495.8 818.6 L502.4 825.4 L520.3 837.6 L528.2 844.4 L534.2 851.3 L544.2 865.2 L544.2 973.4 L540.2 967.8 L518.3 931.5 L511.1 922 L506.4 918 L503.2 916.1 L486.5 908.9 L480.5 905.6 L474.5 901.1 L468.6 894.8 L464.2 888.2 L461.5 882.2 L454.7 860.4 L452.4 856.4 L449 852.4 L439.5 844.5 L428.8 837.1 L406.9 826.6 L396.5 820.6 L360.1 794.7 L352.9 788.8 L349.2 784.8 L345.3 778.8ZM43.1 939.9 L48.9 938.2 L52.9 938.7 L55.1 939.9 L57.1 941.9 L59.1 945.9 L60 949.9 L60.2 955.8 L58.1 969.8 L54.5 979.7 L51.9 983.7 L48.9 986.5 L45 988.4 L41 988.8 L37 987.8 L35 986.7 L31.6 983.7 L29.1 980.1 L29.1 955.9 L31.2 951.9 L35 946.7 L39 942.7ZM84.6 1011.5 L90.7 1009.9 L96.7 1009.7 L102.6 1010.8 L110.6 1014.3 L117.9 1019.5 L126.2 1027.4 L132.5 1035.4 L135.6 1041.3 L136.5 1045.3 L136.5 1049.3 L135.7 1053.3 L133.9 1057.3 L126.8 1067.2 L110.6 1085.1 L108.3 1089.1 L107.4 1095 L108.3 1099 L110.2 1103 L121.1 1120.9 L128.5 1140.5 L133 1150.7 L137.3 1158.7 L141.7 1164.7 L146.7 1168.6 L150.4 1170.2 L154.3 1171.1 L180.2 1172.4 L186.2 1172.1 L190.1 1171.1 L194.1 1168.7 L195.9 1166.6 L203.1 1152.7 L208 1146.8 L213.1 1142.8 L227.9 1133.6 L243.8 1119.8 L249.8 1116.5 L255.8 1115.1 L261.7 1115.6 L265.7 1117.1 L269.7 1119.8 L272.8 1122.9 L275.7 1126.9 L278.8 1132.8 L281.8 1140.8 L287.4 1158.7 L298.5 1186.5 L304.7 1204.4 L306.4 1214.4 L305.7 1224.3 L303.1 1232.3 L300.8 1236.3 L297.4 1240.2 L293.6 1243.2 L287.6 1246.3 L270.8 1252.2 L261.3 1256.1 L254.6 1260.1 L240.6 1270.1 L229.9 1275.3 L222 1277.2 L214 1277.8 L204.1 1277.4 L194.1 1276.1 L172.2 1271.3 L164.3 1268.5 L155.4 1264.1 L144.4 1256.2 L106.6 1223.4 L100.6 1219.9 L80.8 1211.6 L74.8 1207.7 L69.1 1202.4 L65.9 1198.5 L62.3 1192.5 L59.8 1186.5 L58.3 1180.6 L57.6 1172.6 L58.1 1156.7 L57.7 1148.7 L49.7 1112.9 L48.1 1099 L48.2 1087.1 L49.9 1077.1 L55.9 1053.3 L59.1 1043.3 L62.6 1035.4 L67 1027.4 L72.8 1019.8 L78.8 1014.6ZM529.1 1077.1 L534.2 1076.4 L538.2 1077.3 L542.2 1080.2 L544.1 1083.1 L544.2 1102.3 L539.9 1112.9 L534.2 1121.6 L530.5 1124.9 L528.2 1126.2 L525.9 1126.9 L522.3 1126.9 L518.2 1124.9 L516.2 1122.9 L514 1118.9 L512.1 1111 L512.1 1101 L514 1093.1 L518.3 1085.1 L524.3 1079.5ZM146.3 1085.1 L150.4 1084.2 L154.3 1084.1 L158.3 1084.7 L164.3 1086.8 L168.3 1089 L172.2 1092.3 L177.4 1099 L180.1 1107 L180.3 1112.9 L179.6 1116.9 L178.1 1120.9 L176.2 1123.7 L173 1126.9 L170.3 1128.6 L166.3 1130.1 L162.3 1130.7 L158.3 1130.7 L152.4 1129.5 L146.4 1126.9 L142.4 1124.3 L138.7 1120.9 L135.7 1116.9 L134 1112.9 L133 1107 L133.5 1101 L134.7 1097 L136.6 1093.1 L139.8 1089.1 L142.4 1087ZM485.6 1188.5 L492.4 1187.6 L496.4 1188.5 L498.4 1189.7 L500.4 1191.9 L501.8 1194.5 L503.4 1202.4 L502.6 1218.4 L498.9 1242.2 L497.4 1248.2 L495.2 1254.2 L490.5 1261.4 L486.5 1264.9 L482.5 1267.3 L472.6 1270.4 L454.7 1272.4 L424.8 1273.5 L416.9 1275 L408.9 1278.2 L406.9 1278.5 L403.9 1278 L403.7 1276 L405.3 1274 L410.9 1269.5 L414.9 1264.9 L430.1 1234.3 L438.9 1220.3 L446.8 1210.4 L454.7 1203 L462.6 1197.8 L472.6 1193.1ZM341.7 1268.1 L349.2 1267.7 L357.2 1268.6 L365.2 1270.8 L372.2 1274 L378.2 1278 L380.3 1280 L381.5 1282 L381.8 1284 L380.4 1288 L379.2 1290 L314.6 1290 L315 1286 L316.4 1282 L319.2 1278 L321.4 1275.9 L325.4 1273.1 L329.4 1271.2 L335.3 1269.2Z" fill="#ffb4b4"/>
<path d="M384.5 774.9 L473 774.9 L476.2 780.8 L479.1 788.8 L483.7 814.6 L485.8 820.6 L488.1 824.6 L490.5 827.3 L494.3 830.5 L514.3 841.6 L522.3 847.5 L528.7 854.4 L544.2 875.4 L544.2 955.1 L532.2 941.2 L518.3 920.9 L512.3 914.3 L506.1 910.1 L490.5 903.6 L484.5 900.4 L478.9 896.2 L474.5 891.5 L470.6 885.2 L467.9 878.3 L464.1 854.4 L462.3 850.4 L458.9 846.4 L434.2 828.5 L426.8 824.6 L413.3 818.6 L406.3 814.6 L398.4 808.7 L390.2 800.7 L385.4 794.7 L382.7 788.8 L382.5 782.8ZM227.3 784.8 L231.9 783.4 L235.9 782.9 L239.9 783 L243.8 784 L248.5 786.8 L250.2 788.8 L251.8 792.7 L251.8 797.5 L249.8 802.9 L245.3 808.7 L233.7 818.6 L232 820.6 L231.3 822.6 L232 824.6 L234.4 826.6 L241.9 829.5 L249.8 831.2 L271.7 833.5 L277.7 835.5 L281.6 838.1 L287.1 844.5 L291.9 854.4 L294.5 864.3 L294.5 872.3 L292.5 878.3 L288.3 884.2 L281.4 890.2 L264.3 902.1 L256.9 908.1 L251.5 914.1 L244.4 926 L241.2 930 L236.2 934 L222 942.3 L218 945.5 L216.1 947.9 L214.6 951.9 L215.1 957.8 L222.9 979.7 L224.9 989.6 L225.1 997.6 L223.7 1005.6 L222.1 1009.5 L219.7 1013.5 L216 1017.5 L212 1020.3 L204.1 1023.5 L198.1 1024.2 L194.1 1023.9 L188.2 1022.1 L184 1019.5 L180.2 1015.1 L176.7 1007.5 L173.5 991.6 L170.1 953.8 L168.8 947.9 L166.3 945.7 L154.3 943.6 L150.4 942.3 L147.2 939.9 L146.4 938.3 L146.1 935.9 L148.9 926 L149.3 920 L147.4 910.1 L143.9 902.1 L140.4 897.9 L134.5 893.8 L126.5 891 L108.6 886.8 L102.6 883.8 L99.5 880.3 L97.8 876.3 L97.2 872.3 L97.5 866.3 L98.7 860.4 L100.8 854.4 L104.3 848.4 L108.6 843.3 L114.3 838.5 L120.5 834.6 L126.5 831.8 L134.5 829.1 L142.4 827.4 L148.4 826.9 L154.3 827.1 L160.3 828 L166.3 829.7 L171.6 832.5 L173.8 834.5 L178.2 840.2 L181.2 842.5 L184.2 843 L186.2 842.6 L190.1 840.8 L204.6 828.5 L208.4 824.6 L209.9 820.6 L209.2 812.6 L209.5 806.7 L212.2 798.7 L214.5 794.7 L218 790.7 L222 787.6ZM261.1 941.9 L263.7 940.7 L265.7 940.7 L268.2 941.9 L269.7 943.9 L270 945.9 L269.7 948 L267.7 950.5 L265.7 951.4 L263.7 951.3 L261.2 949.9 L259.9 947.9 L259.5 945.9 L259.7 943.9ZM87.3 1019.5 L92.7 1018.1 L96.7 1018.1 L102.6 1019.5 L106.8 1021.5 L112.3 1025.4 L116.6 1029.8 L120.6 1035.4 L123.2 1041.3 L123.9 1045.3 L123.7 1049.3 L121.1 1057.3 L114.9 1067.2 L102 1081.1 L99 1085.1 L97.5 1089.1 L97.5 1093.1 L98.6 1097 L100.5 1101 L109.3 1114.9 L113.7 1122.9 L122.5 1143.5 L130.5 1159.8 L134.5 1166.9 L138.4 1172 L141.7 1174.6 L144.4 1175.9 L150.4 1177.2 L170.3 1177.3 L188.2 1178.3 L192.1 1178.1 L196.1 1177.2 L200.1 1174.9 L202.1 1172.7 L210 1158 L212.6 1154.7 L216 1151.6 L222 1147.8 L235.8 1140.8 L249.8 1130 L252.5 1128.9 L255.8 1128.2 L259.8 1128.9 L263.7 1131.7 L266 1134.8 L268.2 1140.8 L270.2 1152.7 L271.5 1156.7 L274.6 1162.7 L283.6 1175.5 L287.9 1182.6 L292.7 1192.5 L296.2 1202.4 L298.1 1212.4 L297.7 1220.3 L295 1228.3 L290.3 1234.3 L285.6 1237.7 L279.6 1240.5 L271.7 1242.8 L265.7 1243.8 L255.8 1243.9 L237.9 1240.5 L231.9 1241.1 L227.9 1242.8 L224 1245.5 L212 1258.3 L206.1 1262 L202.1 1263.2 L196.1 1263.9 L188.2 1263.8 L180.2 1262.8 L168.3 1259.8 L158.3 1255.1 L148.4 1247.9 L127.7 1230.3 L115 1218.4 L110.6 1215 L104.6 1212.1 L90.7 1207.9 L84.7 1205.5 L78.8 1202 L74.6 1198.5 L70.8 1194 L67.6 1188.5 L65.9 1184.5 L64.4 1178.6 L63.7 1170.6 L63.7 1150.7 L62.3 1142.8 L56.6 1118.9 L55.4 1107 L55.5 1097 L56.9 1086 L63.5 1055.3 L67.1 1043.3 L71 1035.4 L76.6 1027.4 L82.7 1021.9ZM151.4 1095 L156.3 1094.3 L160.3 1095 L164.4 1097 L168.4 1101 L170.4 1105 L171.1 1111 L169.9 1114.9 L168.3 1117.4 L166.3 1119.1 L162.3 1120.9 L156.3 1120.8 L150.4 1118 L145.9 1112.9 L144.4 1109 L144.4 1103 L146.4 1098.8 L148.4 1096.7ZM471.5 1202.4 L480.5 1201.2 L486.5 1202.4 L490.5 1205.5 L492.9 1210.4 L494.2 1218.4 L493.8 1230.3 L491.8 1242.2 L488.5 1250.9 L484.7 1256.1 L480.5 1259.6 L476.5 1261.8 L470.6 1263.7 L462.6 1265 L452.7 1265.2 L444.7 1264.3 L438.3 1262.1 L435.5 1260.1 L434 1258.1 L432.6 1254.2 L432.5 1250.2 L433.1 1246.2 L435 1240.2 L439.8 1230.3 L446.7 1220 L454.7 1211.5 L462.6 1206ZM337.5 1278 L343.3 1276.7 L347.3 1276.4 L353.2 1277.2 L357.2 1278.7 L361.2 1281.5 L362.9 1284 L363.5 1286 L363.2 1290 L327.2 1290 L327.8 1286 L329.4 1283.5 L333.3 1280Z" fill="#ff8c8c"/>
<path d="M396.3 774.9 L467.9 774.9 L472.5 784.8 L474 790.8 L474.7 796.7 L474.8 804.7 L473.5 822.6 L472.6 827.6 L470.7 830.5 L468.6 831.6 L464.6 831.9 L456.6 829.6 L438.7 819.2 L420.8 810.9 L414 806.7 L407.5 800.7 L401.6 792.7 L398 784.8 L396.6 778.8ZM134.9 834.5 L140.4 833.6 L146.4 833.5 L152.1 834.5 L156.3 836.4 L161 840.5 L168.6 854.4 L172.2 857 L176.2 857.7 L182.2 856.8 L190.1 853.9 L196.5 850.4 L212 840 L218 837.3 L222 836.3 L227.9 835.6 L235.9 835.9 L263.7 839.7 L269.7 841.5 L273.7 843.6 L277.2 846.4 L280.4 850.4 L283.4 856.4 L285.1 862.4 L285.5 868.3 L284.9 872.3 L282.3 878.3 L275.7 886.2 L268.8 892.2 L250.4 906.1 L244.3 912.1 L235.9 921.8 L229.9 926.9 L224 930.5 L216 933.5 L208 934.6 L202.1 933.6 L178.2 923.7 L172.2 920.6 L168.7 918 L163.1 912.1 L153.3 894.2 L148.4 889 L142.2 886.2 L122.5 882.3 L116.6 880.6 L111.7 878.3 L107.6 874.3 L105.3 868.3 L105.2 862.4 L106.8 856.4 L109.9 850.4 L114.6 845.1 L120.5 840.5 L128.5 836.5ZM484.2 840.5 L490.5 840.5 L500.4 842.4 L508.4 845.3 L516.3 850.1 L524.3 857.8 L536.2 874.7 L544.2 884 L544.2 942.4 L540.2 939.8 L534.2 934.1 L529.5 928 L520.3 914.3 L516.3 909.8 L512.3 906.7 L508.4 904.5 L494.4 899 L488.5 896 L481.5 890.2 L477.2 884.2 L475.4 880.3 L474 874.3 L473.6 868.3 L474.4 860.4 L476.5 850 L478.5 844.4 L480.5 841.9ZM189.6 957.8 L194.1 956.6 L198.1 956.8 L202.1 958.4 L206.1 961.5 L210 966.2 L214 972.4 L217.3 979.7 L219.1 985.7 L220 995.6 L219.1 1001.6 L217.6 1005.6 L215.2 1009.5 L212 1012.9 L208 1015.5 L204.1 1017 L200.1 1017.6 L196.1 1017.4 L192.1 1016.3 L188.2 1013.8 L185.8 1011.5 L183.2 1007.5 L180.2 999.4 L178.2 985.7 L178.2 977.7 L179 971.7 L180.2 967.5 L182.2 963.8 L186 959.8ZM89.6 1027.4 L94.7 1026.5 L98.7 1027 L102.6 1028.6 L106.6 1031.4 L110.2 1035.4 L112.5 1039.4 L113.8 1043.3 L114.2 1047.3 L113.4 1053.3 L109.9 1061.2 L103.6 1069.2 L91.5 1079.1 L87.7 1083.1 L86.4 1087.1 L87.1 1091.1 L90.2 1097 L102 1112.9 L106.9 1120.9 L128.5 1168.4 L131.7 1174.6 L134.5 1178.4 L138.4 1181.5 L144.4 1183.1 L170.3 1181.4 L192.1 1183.3 L198.1 1182.9 L202.1 1181.6 L206.1 1178.6 L208.9 1174.6 L215.8 1162.7 L218 1160.2 L222 1157 L227.9 1154.2 L235.9 1152.3 L241.9 1151.9 L247.8 1153 L255.8 1157.3 L271.7 1171 L280.1 1180.6 L286.1 1190.5 L290.6 1202.4 L292 1212.4 L291.4 1218.4 L290.2 1222.3 L288 1226.3 L285.6 1229.3 L281.9 1232.3 L277.7 1234.6 L271.7 1236.6 L265.7 1237.6 L255.8 1237.3 L237.9 1233.4 L229.9 1233.7 L223.4 1236.3 L206.1 1247.6 L198.1 1251.2 L188.2 1253 L182.2 1253 L176.2 1252.2 L170.3 1250.7 L164.3 1248.3 L154.3 1242.1 L135.4 1226.3 L120.5 1211 L116.6 1208 L108.6 1204.7 L94.7 1202 L88.7 1200.2 L82.7 1197.2 L77.3 1192.5 L74.2 1188.5 L72.1 1184.5 L69.7 1176.6 L69.1 1170.6 L68.7 1150.7 L67.2 1142.8 L62.2 1122.9 L61.4 1114.9 L61.5 1107 L63.2 1097 L69.6 1079.1 L70.5 1059.2 L71.4 1053.3 L73 1047.3 L76.7 1039.4 L80.8 1033.7 L84.7 1030ZM471.4 1210.4 L476.5 1210.4 L480.5 1211.8 L483.5 1214.4 L485.8 1218.4 L487.1 1224.3 L487.2 1232.3 L485.8 1240.2 L483.5 1246.2 L480.5 1250.7 L476.6 1254.2 L472.6 1256.4 L468.6 1257.7 L462.6 1258.7 L456.6 1258.8 L450.7 1257.7 L446.9 1256.1 L444.3 1254.2 L442.8 1252.2 L441.9 1250.2 L441.3 1246.2 L442.1 1240.2 L445.3 1232.3 L450.3 1224.3 L456.6 1217.5 L464.6 1212.4Z" fill="#ff6060"/>
<path d="M404.7 774.9 L463.2 774.9 L467.1 782.8 L468.8 790.8 L468.6 798.7 L466.1 806.7 L463.3 810.6 L460.6 812.8 L458.6 813.6 L454.7 814.1 L450.7 813.6 L442.7 811.4 L426.8 805 L418.9 799.9 L412 792.7 L409.3 788.8 L406.4 782.8ZM133.1 840.5 L138.4 839.6 L144.4 839.9 L148.4 841.2 L152.4 844 L154.2 846.4 L156.2 850.4 L160.3 867.6 L162.3 869.6 L164.3 869.7 L174.2 866.8 L190.1 860.3 L200.1 855 L214 845.9 L222 842.4 L227.9 841.1 L235.9 840.7 L243.8 841.2 L253.8 842.8 L259.8 844.3 L265.1 846.4 L269.7 849.4 L272.7 852.4 L275.3 856.4 L277.4 862.4 L278 868.3 L277.4 872.3 L275.9 876.3 L273.7 880.3 L266.7 888.2 L245.9 904.1 L227.9 920.2 L222 923.6 L216 925.5 L210 926.1 L202.1 925.2 L194.1 923 L184.2 919 L176.2 914.3 L171.6 910.1 L168.6 906.1 L165.4 900.1 L163.2 894.2 L159.5 880.3 L158.3 877.2 L157.3 876.3 L154.3 875.6 L140.4 877.1 L130.5 876.8 L124.5 875.6 L120.7 874.3 L117.4 872.3 L115.2 870.3 L113 866.3 L112.4 862.4 L113.5 856.4 L115.6 852.4 L118.9 848.4 L122.5 845.4 L127.6 842.5ZM494.4 850.4 L498.4 850 L504.4 850.9 L510.3 853.3 L514.9 856.4 L518.3 859.5 L522.2 864.3 L534.1 882.2 L544.2 892.7 L544.2 932.3 L540.2 930.5 L535.2 926 L532.1 922 L523.1 908.1 L518.3 902.9 L512.3 899.3 L498.4 894.3 L493.8 892.2 L488.5 888.5 L484.5 883.9 L482.5 880.2 L481 874.3 L480.8 870.3 L481.8 864.3 L484.3 858.4 L486.5 855.2 L490.5 851.9ZM192.5 967.8 L196.1 967.1 L200.1 967.8 L206.1 971.7 L209.4 975.7 L211.8 979.7 L214.4 987.7 L214.8 995.6 L214 999.6 L212.2 1003.6 L208 1008.2 L205.8 1009.5 L202.1 1010.8 L196.1 1010.4 L191.1 1007.5 L187.8 1003.6 L184.7 995.6 L183.5 985.7 L184.5 977.7 L187.3 971.7 L190.1 968.9ZM91 1037.4 L94.7 1036.9 L96.7 1037.2 L100.6 1039.5 L102.6 1041.9 L104.2 1045.3 L104.6 1051.3 L102.8 1057.3 L98.7 1062.8 L92.7 1066.8 L86.7 1067.9 L84.7 1067.4 L82.7 1066.1 L80.8 1063.4 L79.6 1059.2 L79.7 1053.3 L80.8 1048.9 L83.6 1043.3 L86.7 1039.8ZM72.2 1101 L74.8 1099.5 L76.8 1099.2 L80.8 1099.9 L84.7 1102.2 L92.7 1109.1 L100.4 1118.9 L104.8 1126.9 L120.3 1162.7 L123.8 1172.6 L127.6 1186.5 L128.5 1188.9 L130.5 1191.6 L134.5 1192.3 L138.4 1191.7 L157.9 1186.5 L168.3 1185 L178.2 1185.3 L196.1 1187.7 L202.1 1187.4 L206.1 1185.9 L210 1182.8 L220 1168 L225.9 1162.9 L229.9 1161.2 L233.9 1160.4 L237.9 1160.1 L243.8 1160.9 L251.8 1163.6 L263.7 1170.7 L271.7 1177.4 L279.2 1186.5 L284.3 1196.5 L286.9 1206.4 L286.9 1214.4 L285.9 1218.4 L284.1 1222.3 L280.9 1226.3 L277.7 1228.9 L271.7 1231.7 L265.7 1233 L255.8 1232.7 L235.9 1228.3 L227.9 1228.6 L222 1230.8 L204.1 1241.4 L198.1 1243.7 L192.1 1245.1 L184.2 1245.6 L176.2 1244.7 L170.3 1243.1 L162.3 1239.3 L152.4 1232 L140.2 1220.3 L134.3 1212.4 L128.5 1200.2 L126.5 1197.6 L122.5 1196.4 L102.6 1196.4 L92.7 1195 L88.7 1193.5 L84.7 1191.2 L81.6 1188.5 L78.8 1185 L76.5 1180.6 L74.8 1174.6 L73.5 1150.7 L71.9 1142.8 L68.1 1128.9 L66.8 1120.9 L66.7 1114.9 L67.7 1109 L69.1 1105ZM464.1 1220.3 L466.6 1219.4 L470.6 1218.8 L474.5 1219.8 L476.5 1221.1 L478.8 1224.3 L480.1 1228.3 L480.4 1232.3 L480 1236.3 L478.9 1240.2 L476.9 1244.2 L472.6 1248.7 L466.6 1251.4 L462.6 1252 L458.6 1251.8 L454.7 1250.6 L451.5 1248.2 L449.6 1244.2 L449.5 1240.2 L451.2 1234.3 L454.7 1228.3 L458.6 1224Z" fill="#ff2c2c"/>
<path d="M411.7 774.9 L458.7 774.9 L461.8 780.8 L463.4 786.8 L463.4 792.7 L462.4 796.7 L460.6 800 L458.6 802.2 L456.6 803.5 L452.7 804.9 L448.7 805.2 L442.7 804.5 L432.8 801.4 L424.8 796.9 L418.3 790.8 L413.4 782.8 L412.1 778.8ZM136.3 846.4 L138.4 846.4 L142.4 847.5 L146 850.4 L147.2 852.4 L148.2 856.4 L147.1 862.4 L143.8 866.3 L138.4 868.8 L132.5 869.4 L126.5 868 L122.5 865 L121.1 862.4 L120.8 860.4 L121.5 856.4 L124 852.4 L126.5 850.2 L130.5 847.9ZM223.9 846.4 L233.9 844.6 L245.8 845.2 L255.8 847.6 L263.7 851.7 L268.4 856.4 L270.6 860.4 L271.7 864.3 L272.1 868.3 L271.6 872.3 L270.3 876.3 L268.2 880.3 L263.3 886.2 L257.8 891.1 L242.2 902.1 L227.9 913.6 L220 918.2 L212 920.1 L204.1 920 L194.1 917.7 L184.2 913.4 L179.5 910.1 L176.2 906.9 L172.9 902.1 L171 898.2 L169.4 892.2 L169 886.2 L169.7 882.2 L171.5 878.3 L174.9 874.3 L180.4 870.3 L200.1 860.2 L218 849ZM495.4 860.4 L500.4 858.7 L504.4 859 L510.3 861.6 L514.3 865 L518.2 870.3 L521.9 878.3 L524.8 888.2 L524.9 890.2 L524.3 891.1 L522.3 891.6 L518.3 891.3 L504.4 889 L497.5 886.2 L492.5 882.2 L490.5 879.1 L489.4 876.3 L489.1 870.3 L491.3 864.3ZM531.5 896.2 L534.2 896.8 L538.2 898.9 L542.2 902.2 L544.2 904.8 L544.2 919.9 L542.2 920 L539 918 L536.2 914.9 L534.2 911.5 L530 900.1 L529.7 898.2 L530.2 896.3ZM193.8 977.7 L196.1 976.7 L198.1 976.5 L202.1 977.9 L205.8 981.7 L208 986.1 L209 991.6 L208 996.9 L206.1 1000.2 L202.1 1002.7 L198.1 1002.7 L195.6 1001.6 L192.1 997.8 L190.4 993.6 L189.6 987.7 L190.1 983.7 L191.8 979.7ZM75.9 1111 L78.8 1109.5 L80.8 1109.4 L84.7 1110.5 L88.7 1113 L94.7 1119 L100.6 1128.9 L106.9 1144.8 L114 1160.7 L117 1170.6 L117.4 1176.6 L116.6 1181.1 L114.6 1184.5 L110.6 1187.4 L106.6 1188.7 L102.6 1189.3 L96.7 1189 L92.7 1188 L86.6 1184.5 L84.7 1182.6 L82.1 1178.6 L79.8 1170.6 L78.3 1148.7 L73.4 1130.8 L72.3 1124.9 L72.6 1116.9 L74.2 1112.9ZM233.5 1166.6 L237.9 1166.1 L241.9 1166.3 L247.8 1167.5 L253.8 1169.7 L259.8 1172.8 L265.7 1176.9 L269.9 1180.6 L275 1186.5 L280.5 1196.5 L282.4 1202.4 L283.1 1208.4 L282.5 1214.4 L281 1218.4 L278.4 1222.3 L275.7 1224.8 L271.7 1227.2 L267.7 1228.5 L259.8 1229.4 L251.8 1228.3 L233.9 1223.9 L225.9 1224.1 L220 1226.3 L207.2 1234.3 L200.1 1237.7 L192.1 1239.8 L182.2 1240.2 L172.2 1238 L166.3 1235.4 L162.3 1233 L152.1 1224.3 L147.2 1218.4 L144.8 1214.4 L142.7 1208.4 L143.2 1202.4 L145.6 1198.5 L147.6 1196.5 L152.4 1193.3 L160.3 1190 L170.3 1188.3 L180.2 1188.8 L198.1 1191.9 L202.1 1192.1 L206.1 1191.6 L210 1189.8 L213.8 1186.5 L221.9 1174.6 L225.6 1170.6 L229.9 1167.8ZM463.7 1232.3 L466.6 1231.3 L468.6 1232 L469.7 1234.3 L469.6 1236.3 L468.6 1238.7 L466.6 1240.5 L464.6 1241.1 L461.7 1240.2 L460.6 1238.2 L460.8 1236.3 L461.8 1234.3Z" fill="#ff0808"/>
<path d="M418.2 774.9 L453.9 774.9 L456.4 778.8 L458.2 784.8 L458.3 788.8 L457.1 792.7 L453.6 796.7 L448.7 798.7 L444.7 798.9 L440.7 798.4 L432.8 795.7 L426.8 791.9 L421.9 786.8 L418.8 780.8ZM231 848.4 L239.9 847.9 L249.8 849.5 L257 852.4 L262.2 856.4 L266 862.4 L267.2 868.3 L266.4 874.3 L264.7 878.3 L262.1 882.2 L257.8 886.9 L251.1 892.2 L224 910.8 L216 914.4 L208 915.6 L200.1 914.9 L192.1 912.5 L184.2 908.1 L178.5 902.1 L176.4 898.2 L175.1 894.2 L174.6 890.2 L174.9 886.2 L176.1 882.2 L178.7 878.3 L185.7 872.3 L204.1 862.5 L218 853.4 L224 850.4ZM81 1120.9 L82.7 1120 L86.7 1120.7 L89.6 1122.9 L92.7 1126.6 L95 1130.8 L100.1 1144.8 L108.1 1162.7 L109.5 1168.6 L109 1174.6 L106.6 1178.3 L102.7 1180.6 L96.7 1180.8 L92.7 1179.2 L89.7 1176.6 L87.4 1172.6 L86 1166.6 L84.8 1148.7 L79.3 1128.9 L79.2 1124.9ZM232.3 1172.6 L235.9 1171.4 L241.9 1170.9 L245.8 1171.4 L251.8 1173 L261.7 1178 L267.4 1182.6 L271.2 1186.5 L274.1 1190.5 L277.1 1196.5 L279 1202.4 L279.5 1206.4 L279.3 1210.4 L278.4 1214.4 L276.3 1218.4 L273.7 1221.3 L269.7 1223.9 L265.7 1225.3 L257.8 1225.9 L249.8 1224.6 L231.9 1219.4 L227.9 1219 L224 1219.3 L218 1221.6 L206.1 1229.9 L200.1 1233 L192.1 1235.4 L184.2 1235.9 L174.2 1234.1 L166.3 1230.3 L158.7 1224.3 L155.2 1220.3 L152.5 1216.4 L150.2 1210.4 L150.4 1204.4 L152.4 1200.5 L154 1198.5 L159.7 1194.5 L168.3 1191.8 L176.2 1191.4 L184.2 1192.5 L202.1 1196.6 L206.1 1196.7 L210 1196.1 L213.1 1194.5 L216 1191.9 L225.9 1177.5 L229 1174.6Z" fill="#ff0000"/>
<path d="M424.7 776.8 L425.1 774.9 L448.2 774.9 L450.7 778.1 L451.9 780.8 L452.6 784.8 L452.3 786.8 L450.7 790 L446.7 792.5 L442.7 793 L436.8 791.8 L431.2 788.8 L427.2 784.8 L425.2 780.8ZM228.5 852.4 L235.9 851.1 L243.8 851.5 L251.8 853.8 L257.8 857.8 L261.3 862.4 L262.9 868.3 L262.3 874.3 L259.3 880.3 L253.9 886.2 L248.7 890.2 L224 905.8 L216 909.7 L210 911.1 L202.1 911.1 L194.1 909.1 L188.2 905.9 L182.5 900.1 L179.9 894.2 L179.5 890.2 L180 886.2 L183 880.3 L186.2 877.1 L190.1 874.2 L206.1 865.6 L222 855.2ZM235 1176.6 L241.9 1175.1 L245.8 1175.2 L251.8 1176.6 L259.8 1180.3 L263.7 1183.2 L267.7 1186.9 L273 1194.5 L274.7 1198.5 L276 1204.4 L276 1208.4 L275.2 1212.4 L273.7 1215.5 L271.3 1218.4 L267.7 1220.8 L263.7 1222.3 L255.8 1222.7 L245.8 1220.3 L227.9 1213.8 L224 1212.8 L220 1212.8 L216 1214.7 L206.1 1224.3 L200.2 1228.3 L192.1 1231.3 L184.2 1232 L176.2 1230.6 L168.3 1226.9 L162.6 1222.3 L158 1216.4 L155.9 1210.4 L155.9 1206.4 L156.5 1204.4 L159 1200.5 L164.3 1196.7 L172.2 1194.7 L180.2 1194.9 L188.2 1196.6 L206.1 1202.3 L210 1203.1 L214 1202.8 L216 1201.7 L218 1199.6 L227.9 1182.2 L231.6 1178.6Z" fill="#ffa800"/>
<path d="M436.1 776.8 L439.4 776.8 L442.6 778.8 L443.6 780.8 L443.6 782.8 L442.7 784 L440.7 784.9 L438.7 784.7 L435.6 782.8 L434.3 780.8 L434.1 778.8ZM234.2 854.4 L241.9 854.3 L247.8 855.8 L252.7 858.4 L256.6 862.4 L258.5 866.3 L258.8 872.3 L256.6 878.3 L253.6 882.2 L249.2 886.2 L243.8 889.8 L220 903.4 L212 906.5 L204.1 907.2 L198.1 906.3 L192.1 903.6 L188.2 900.3 L185.4 896.2 L184.2 890.2 L185.8 884.2 L188.9 880.3 L194 876.3 L208 868.6 L223.1 858.4 L227.9 856ZM236.8 1180.6 L239.9 1179.4 L243.8 1178.9 L251.8 1180 L259.8 1183.8 L265.7 1188.9 L268.6 1192.5 L270.8 1196.5 L272.2 1200.5 L272.8 1204.4 L272.6 1208.4 L271.7 1211.5 L270 1214.4 L268.1 1216.4 L263.7 1218.7 L259.8 1219.6 L255.8 1219.6 L249.8 1218.5 L243.6 1216.4 L235.6 1212.4 L229.7 1208.4 L227.8 1206.4 L226.6 1204.4 L225.7 1200.5 L226.1 1196.5 L227.3 1192.5 L229 1188.5 L231.7 1184.5ZM171 1198.5 L176.2 1197.9 L182.3 1198.5 L189.2 1200.5 L197.8 1204.4 L203.4 1208.4 L204.9 1210.4 L205.6 1214.4 L204.1 1218.4 L200.7 1222.3 L198.1 1224.3 L194.1 1226.4 L190.1 1227.6 L186.2 1228.1 L180.2 1227.7 L176.2 1226.6 L171.3 1224.3 L168.3 1222.2 L164.5 1218.4 L162.1 1214.4 L161.1 1210.4 L161.4 1206.4 L163.7 1202.4 L166.3 1200.4Z" fill="#b0f000"/>
<path d="M231.3 858.4 L235.9 857.4 L241.9 857.6 L247.8 859.6 L251.8 862.6 L254.2 866.3 L254.7 868.3 L254.8 872.3 L253.6 876.3 L249.8 881.5 L245.8 884.9 L240.3 888.2 L218 899.6 L212 902 L206.1 903 L202.1 902.7 L196.1 900.8 L192.6 898.2 L190 894.2 L189.4 890.2 L190.4 886.2 L193.2 882.2 L198.5 878.3 L212 870.7 L224 861.9ZM238.6 1184.5 L243.8 1182.7 L249.8 1182.9 L253.8 1184.1 L257.8 1186 L263.4 1190.5 L267.5 1196.5 L269.4 1202.4 L269 1208.4 L267.7 1211.1 L265.7 1213.5 L263.7 1214.9 L259.8 1216.2 L255.8 1216.5 L251.8 1215.9 L242.5 1212.4 L237.9 1209.4 L234.6 1206.4 L233.1 1204.4 L231.5 1200.5 L231.6 1194.5 L234.3 1188.5ZM172.6 1202.4 L176.2 1201.7 L182.2 1202.2 L188.2 1204.2 L192.2 1206.4 L194.7 1208.4 L197.4 1212.4 L197.4 1216.4 L196.4 1218.4 L192.1 1222 L186.2 1223.8 L182.2 1223.8 L178.2 1223 L172.8 1220.3 L168.7 1216.4 L167.5 1214.4 L166.5 1210.4 L166.7 1208.4 L168.3 1205.3Z" fill="#00f020"/>
<path d="M230.8 862.4 L235.9 861 L239.9 861 L243.8 862 L247.8 864.5 L250.2 868.3 L250.6 872.3 L249.2 876.3 L246.1 880.3 L241.9 883.4 L237.9 885.5 L224 891 L212 896.5 L208 897.5 L204.1 897.6 L200.1 896.4 L198.1 895 L196.2 892.2 L195.9 890.2 L197.3 886.2 L199.1 884.2 L214 874.9 L224.1 866.3ZM246.6 1186.5 L251.8 1187 L255.8 1188.6 L259.8 1191.4 L263.7 1196.2 L265.5 1200.5 L265.8 1204.4 L264.6 1208.4 L261.7 1211.4 L259.8 1212.4 L255.8 1213 L249.8 1212 L242.8 1208.4 L240.4 1206.4 L237.9 1203.1 L236.3 1198.5 L236.7 1194.5 L237.4 1192.5 L240.8 1188.5 L243.8 1187ZM175.2 1208.4 L178.2 1207.2 L180.2 1207.2 L184.6 1208.4 L187.3 1210.4 L188.6 1212.4 L188.7 1214.4 L188.2 1215.6 L186.2 1217.3 L184.2 1218 L180.2 1217.8 L177 1216.4 L174.9 1214.4 L173.9 1212.4 L173.9 1210.4Z" fill="#00f0b0"/>
<path d="M233 866.3 L235.9 865.6 L239.9 865.8 L241.9 866.5 L243.8 868.1 L245 870.3 L245.1 872.3 L243.5 876.3 L239.9 879.5 L233.9 882.1 L225.9 883.2 L221 882.2 L220.5 880.3 L223.5 874.3 L227.9 869.4ZM244.6 1192.5 L247.8 1191.2 L251.8 1191.4 L254.6 1192.5 L257.5 1194.5 L259.8 1197.2 L261.1 1200.5 L261 1204.4 L259.8 1206.7 L257.8 1208.1 L255.8 1208.7 L251.8 1208.5 L247.8 1206.8 L244.7 1204.4 L243.2 1202.4 L241.8 1198.5 L242.8 1194.5Z" fill="#109cd8"/></g>
<g fill="none" stroke="#303030" stroke-width="0.75"><path d="M286.6 1284.9 L260.8 1281.3 L235.8 1275 L211.7 1266.3 L188.9 1255.3 L167.3 1242.2 L147.4 1227 L129.1 1210 L112.7 1191.4 L98.2 1171.4 L85.8 1150.1 L75.6 1127.8 L67.5 1104.7 L61.7 1080.9 L58.2 1056.8 L57.1 1032.4 L58.2 1008 L61.7 983.9 L67.5 960.1 L75.6 937 L85.8 914.7 L98.2 893.4 L112.7 873.4 L129.1 854.8 L147.4 837.8 L167.3 822.6 L188.9 809.5 L211.7 798.5 L235.8 789.8 L260.8 783.5 L286.6 779.9"/><path d="M286.6 1284.9 L262.2 1279.1 L238.9 1271 L216.9 1260.8 L196.2 1248.5 L177 1234.5 L159.3 1218.8 L143.4 1201.7 L129.2 1183.3 L116.7 1163.8 L106.1 1143.3 L97.4 1122 L90.6 1100.2 L85.7 1077.8 L82.8 1055.2 L81.8 1032.4 L82.8 1009.6 L85.7 987 L90.6 964.6 L97.4 942.8 L106.1 921.5 L116.7 901 L129.2 881.5 L143.4 863.1 L159.3 846 L177 830.3 L196.2 816.3 L216.9 804 L238.9 793.8 L262.2 785.7 L286.6 779.9"/><path d="M286.6 1284.9 L264.3 1277.2 L243.3 1267.5 L223.7 1255.9 L205.5 1242.7 L188.8 1228 L173.6 1212 L159.9 1194.8 L147.8 1176.7 L137.3 1157.6 L128.4 1137.9 L121.1 1117.5 L115.4 1096.6 L111.3 1075.4 L108.9 1054 L108.1 1032.4 L108.9 1010.8 L111.3 989.4 L115.4 968.2 L121.1 947.3 L128.4 926.9 L137.3 907.2 L147.8 888.1 L159.9 870 L173.6 852.8 L188.8 836.8 L205.5 822.1 L223.7 808.9 L243.3 797.3 L264.3 787.6 L286.6 779.9"/><path d="M286.6 1284.9 L267 1275.5 L248.8 1264.4 L232 1251.7 L216.6 1237.8 L202.5 1222.6 L189.7 1206.4 L178.4 1189.3 L168.4 1171.4 L159.7 1152.8 L152.3 1133.6 L146.3 1113.9 L141.7 1093.9 L138.4 1073.5 L136.4 1053 L135.7 1032.4 L136.4 1011.8 L138.4 991.3 L141.7 970.9 L146.3 950.9 L152.3 931.2 L159.7 912 L168.4 893.4 L178.4 875.5 L189.7 858.4 L202.5 842.2 L216.6 827 L232 813.1 L248.8 800.4 L267 789.3 L286.6 779.9"/><path d="M286.6 1284.9 L270.3 1274 L255.3 1261.8 L241.5 1248.3 L229 1233.8 L217.6 1218.3 L207.4 1202 L198.3 1185 L190.3 1167.3 L183.4 1149 L177.6 1130.3 L172.9 1111.2 L169.2 1091.7 L166.6 1072.1 L165 1052.3 L164.5 1032.4 L165 1012.5 L166.6 992.7 L169.2 973.1 L172.9 953.6 L177.6 934.5 L183.4 915.8 L190.3 897.5 L198.3 879.8 L207.4 862.8 L217.6 846.5 L229 831 L241.5 816.5 L255.3 803 L270.3 790.8 L286.6 779.9"/><path d="M286.6 1284.9 L274 1272.9 L262.4 1259.8 L251.9 1245.7 L242.4 1230.8 L233.9 1215.1 L226.2 1198.7 L219.4 1181.7 L213.4 1164.2 L208.3 1146.2 L203.9 1127.8 L200.4 1109.1 L197.7 1090.2 L195.7 1071 L194.6 1051.7 L194.2 1032.4 L194.6 1013.1 L195.7 993.8 L197.7 974.6 L200.4 955.7 L203.9 937 L208.3 918.6 L213.4 900.6 L219.4 883.1 L226.2 866.1 L233.9 849.7 L242.4 834 L251.9 819.1 L262.4 805 L274 791.9 L286.6 779.9"/><path d="M286.6 1284.9 L278 1272 L270.2 1258.3 L263.1 1243.8 L256.7 1228.6 L251 1212.8 L245.9 1196.4 L241.3 1179.4 L237.4 1162 L233.9 1144.3 L231.1 1126.1 L228.7 1107.7 L226.9 1089.1 L225.6 1070.3 L224.8 1051.4 L224.6 1032.4 L224.8 1013.4 L225.6 994.5 L226.9 975.7 L228.7 957.1 L231.1 938.7 L233.9 920.5 L237.4 902.8 L241.3 885.4 L245.9 868.4 L251 852 L256.7 836.2 L263.1 821 L270.2 806.5 L278 792.8 L286.6 779.9"/><path d="M286.6 1284.9 L282.2 1271.5 L278.3 1257.4 L274.7 1242.7 L271.5 1227.3 L268.7 1211.4 L266.1 1195 L263.8 1178.1 L261.8 1160.8 L260.1 1143.1 L258.7 1125.1 L257.5 1106.9 L256.6 1088.5 L256 1069.9 L255.6 1051.2 L255.5 1032.4 L255.6 1013.6 L256 994.9 L256.6 976.3 L257.5 957.9 L258.7 939.7 L260.1 921.7 L261.8 904 L263.8 886.7 L266.1 869.8 L268.7 853.4 L271.5 837.5 L274.7 822.1 L278.3 807.4 L282.2 793.3 L286.6 779.9"/><path d="M286.6 1284.9 L286.6 1271.3 L286.6 1257.1 L286.6 1242.3 L286.6 1226.9 L286.6 1210.9 L286.6 1194.5 L286.6 1177.6 L286.6 1160.4 L286.6 1142.7 L286.6 1124.8 L286.6 1106.6 L286.6 1088.3 L286.6 1069.7 L286.6 1051.1 L286.6 1032.4 L286.6 1013.7 L286.6 995.1 L286.6 976.5 L286.6 958.2 L286.6 940 L286.6 922.1 L286.6 904.4 L286.6 887.2 L286.6 870.3 L286.6 853.9 L286.6 837.9 L286.6 822.5 L286.6 807.7 L286.6 793.5 L286.6 779.9"/><path d="M286.6 1284.9 L291 1271.5 L294.9 1257.4 L298.5 1242.7 L301.7 1227.3 L304.5 1211.4 L307.1 1195 L309.4 1178.1 L311.4 1160.8 L313.1 1143.1 L314.5 1125.1 L315.7 1106.9 L316.6 1088.5 L317.2 1069.9 L317.6 1051.2 L317.7 1032.4 L317.6 1013.6 L317.2 994.9 L316.6 976.3 L315.7 957.9 L314.5 939.7 L313.1 921.7 L311.4 904 L309.4 886.7 L307.1 869.8 L304.5 853.4 L301.7 837.5 L298.5 822.1 L294.9 807.4 L291 793.3 L286.6 779.9"/><path d="M286.6 1284.9 L295.2 1272 L303 1258.3 L310.1 1243.8 L316.5 1228.6 L322.2 1212.8 L327.3 1196.4 L331.9 1179.4 L335.8 1162 L339.3 1144.3 L342.1 1126.1 L344.5 1107.7 L346.3 1089.1 L347.6 1070.3 L348.4 1051.4 L348.6 1032.4 L348.4 1013.4 L347.6 994.5 L346.3 975.7 L344.5 957.1 L342.1 938.7 L339.3 920.5 L335.8 902.8 L331.9 885.4 L327.3 868.4 L322.2 852 L316.5 836.2 L310.1 821 L303 806.5 L295.2 792.8 L286.6 779.9"/><path d="M286.6 1284.9 L299.2 1272.9 L310.8 1259.8 L321.3 1245.7 L330.8 1230.8 L339.3 1215.1 L347 1198.7 L353.8 1181.7 L359.8 1164.2 L364.9 1146.2 L369.3 1127.8 L372.8 1109.1 L375.5 1090.2 L377.5 1071 L378.6 1051.7 L379 1032.4 L378.6 1013.1 L377.5 993.8 L375.5 974.6 L372.8 955.7 L369.3 937 L364.9 918.6 L359.8 900.6 L353.8 883.1 L347 866.1 L339.3 849.7 L330.8 834 L321.3 819.1 L310.8 805 L299.2 791.9 L286.6 779.9"/><path d="M286.6 1284.9 L302.9 1274 L317.9 1261.8 L331.7 1248.3 L344.2 1233.8 L355.6 1218.3 L365.8 1202 L374.9 1185 L382.9 1167.3 L389.8 1149 L395.6 1130.3 L400.3 1111.2 L404 1091.7 L406.6 1072.1 L408.2 1052.3 L408.7 1032.4 L408.2 1012.5 L406.6 992.7 L404 973.1 L400.3 953.6 L395.6 934.5 L389.8 915.8 L382.9 897.5 L374.9 879.8 L365.8 862.8 L355.6 846.5 L344.2 831 L331.7 816.5 L317.9 803 L302.9 790.8 L286.6 779.9"/><path d="M286.6 1284.9 L306.2 1275.5 L324.4 1264.4 L341.2 1251.7 L356.6 1237.8 L370.7 1222.6 L383.5 1206.4 L394.8 1189.3 L404.8 1171.4 L413.5 1152.8 L420.9 1133.6 L426.9 1113.9 L431.5 1093.9 L434.8 1073.5 L436.8 1053 L437.5 1032.4 L436.8 1011.8 L434.8 991.3 L431.5 970.9 L426.9 950.9 L420.9 931.2 L413.5 912 L404.8 893.4 L394.8 875.5 L383.5 858.4 L370.7 842.2 L356.6 827 L341.2 813.1 L324.4 800.4 L306.2 789.3 L286.6 779.9"/><path d="M286.6 1284.9 L308.9 1277.2 L329.9 1267.5 L349.5 1255.9 L367.7 1242.7 L384.4 1228 L399.6 1212 L413.3 1194.8 L425.4 1176.7 L435.9 1157.6 L444.8 1137.9 L452.1 1117.5 L457.8 1096.6 L461.9 1075.4 L464.3 1054 L465.1 1032.4 L464.3 1010.8 L461.9 989.4 L457.8 968.2 L452.1 947.3 L444.8 926.9 L435.9 907.2 L425.4 888.1 L413.3 870 L399.6 852.8 L384.4 836.8 L367.7 822.1 L349.5 808.9 L329.9 797.3 L308.9 787.6 L286.6 779.9"/><path d="M286.6 1284.9 L311 1279.1 L334.3 1271 L356.3 1260.8 L377 1248.5 L396.2 1234.5 L413.9 1218.8 L429.8 1201.7 L444 1183.3 L456.5 1163.8 L467.1 1143.3 L475.8 1122 L482.6 1100.2 L487.5 1077.8 L490.4 1055.2 L491.4 1032.4 L490.4 1009.6 L487.5 987 L482.6 964.6 L475.8 942.8 L467.1 921.5 L456.5 901 L444 881.5 L429.8 863.1 L413.9 846 L396.2 830.3 L377 816.3 L356.3 804 L334.3 793.8 L311 785.7 L286.6 779.9"/><path d="M286.6 1284.9 L312.4 1281.3 L337.4 1275 L361.5 1266.3 L384.3 1255.3 L405.9 1242.2 L425.8 1227 L444.1 1210 L460.5 1191.4 L475 1171.4 L487.4 1150.1 L497.6 1127.8 L505.7 1104.7 L511.5 1080.9 L515 1056.8 L516.1 1032.4 L515 1008 L511.5 983.9 L505.7 960.1 L497.6 937 L487.4 914.7 L475 893.4 L460.5 873.4 L444.1 854.8 L425.8 837.8 L405.9 822.6 L384.3 809.5 L361.5 798.5 L337.4 789.8 L312.4 783.5 L286.6 779.9"/><path d="M242.8 1281.1 L243.4 1278.8 L244.5 1276.7 L246 1274.6 L247.9 1272.7 L250.2 1270.9 L252.8 1269.3 L255.8 1267.8 L259 1266.4 L262.5 1265.2 L266.2 1264.2 L270 1263.4 L274 1262.8 L278.2 1262.3 L282.4 1262 L286.6 1261.9 L290.8 1262 L295 1262.3 L299.2 1262.8 L303.2 1263.4 L307 1264.2 L310.7 1265.2 L314.2 1266.4 L317.4 1267.8 L320.4 1269.3 L323 1270.9 L325.3 1272.7 L327.2 1274.6 L328.7 1276.7 L329.8 1278.8 L330.4 1281.1"/><path d="M200.2 1269.7 L202.2 1265.5 L205 1261.7 L208.5 1258 L212.7 1254.7 L217.5 1251.7 L222.8 1248.9 L228.7 1246.4 L235 1244.3 L241.7 1242.4 L248.7 1240.8 L255.9 1239.5 L263.4 1238.5 L271.1 1237.8 L278.8 1237.4 L286.6 1237.2 L294.4 1237.4 L302.1 1237.8 L309.8 1238.5 L317.3 1239.5 L324.5 1240.8 L331.5 1242.4 L338.2 1244.3 L344.5 1246.4 L350.4 1248.9 L355.7 1251.7 L360.5 1254.7 L364.7 1258 L368.2 1261.7 L371 1265.5 L373 1269.7"/><path d="M160.3 1251.1 L164.2 1245.6 L169.1 1240.5 L174.9 1235.9 L181.5 1231.7 L188.8 1228 L196.8 1224.6 L205.4 1221.7 L214.5 1219.1 L224 1216.9 L233.9 1215.1 L244.1 1213.6 L254.5 1212.4 L265.1 1211.6 L275.8 1211.1 L286.6 1210.9 L297.4 1211.1 L308.1 1211.6 L318.7 1212.4 L329.1 1213.6 L339.3 1215.1 L349.2 1216.9 L358.7 1219.1 L367.8 1221.7 L376.4 1224.6 L384.4 1228 L391.7 1231.7 L398.3 1235.9 L404.1 1240.5 L409 1245.6 L412.9 1251.1"/><path d="M124.3 1225.8 L130.3 1219.6 L137.5 1214.1 L145.6 1209.1 L154.6 1204.6 L164.3 1200.7 L174.7 1197.2 L185.7 1194.1 L197.3 1191.5 L209.2 1189.3 L221.6 1187.4 L234.2 1185.9 L247.1 1184.8 L260.2 1184 L273.3 1183.5 L286.6 1183.3 L299.9 1183.5 L313 1184 L326.1 1184.8 L339 1185.9 L351.6 1187.4 L364 1189.3 L375.9 1191.5 L387.5 1194.1 L398.5 1197.2 L408.9 1200.7 L418.6 1204.6 L427.6 1209.1 L435.7 1214.1 L442.9 1219.6 L448.9 1225.8"/><path d="M93.2 1194.7 L101.5 1188.6 L110.9 1183.1 L121.2 1178.3 L132.3 1174.1 L144.2 1170.4 L156.7 1167.2 L169.7 1164.4 L183.3 1162 L197.3 1159.9 L211.6 1158.2 L226.3 1156.9 L241.1 1155.8 L256.2 1155.1 L271.4 1154.7 L286.6 1154.5 L301.8 1154.7 L317 1155.1 L332.1 1155.8 L346.9 1156.9 L361.6 1158.2 L375.9 1159.9 L389.9 1162 L403.5 1164.4 L416.5 1167.2 L429 1170.4 L440.9 1174.1 L452 1178.3 L462.3 1183.1 L471.7 1188.6 L480 1194.7"/><path d="M67.9 1158.7 L78.3 1153.3 L89.7 1148.6 L101.9 1144.5 L114.8 1141 L128.4 1137.9 L142.6 1135.2 L157.3 1132.9 L172.5 1130.9 L188 1129.2 L203.9 1127.8 L220.1 1126.7 L236.6 1125.9 L253.1 1125.3 L269.8 1124.9 L286.6 1124.8 L303.4 1124.9 L320.1 1125.3 L336.6 1125.9 L353.1 1126.7 L369.3 1127.8 L385.2 1129.2 L400.7 1130.9 L415.9 1132.9 L430.6 1135.2 L444.8 1137.9 L458.4 1141 L471.3 1144.5 L483.5 1148.6 L494.9 1153.3 L505.3 1158.7"/><path d="M49.3 1118.8 L61.4 1114.8 L74.3 1111.4 L87.9 1108.4 L102.2 1105.9 L117.1 1103.6 L132.5 1101.7 L148.4 1100.1 L164.8 1098.7 L181.5 1097.5 L198.5 1096.5 L215.8 1095.7 L233.3 1095.2 L251 1094.7 L268.8 1094.5 L286.6 1094.4 L304.4 1094.5 L322.2 1094.7 L339.9 1095.2 L357.4 1095.7 L374.7 1096.5 L391.7 1097.5 L408.4 1098.7 L424.8 1100.1 L440.7 1101.7 L456.1 1103.6 L471 1105.9 L485.3 1108.4 L498.9 1111.4 L511.8 1114.8 L523.9 1118.8"/><path d="M37.9 1076.2 L51.1 1074.1 L65 1072.3 L79.5 1070.8 L94.6 1069.4 L110.3 1068.3 L126.5 1067.3 L143.1 1066.4 L160.2 1065.7 L177.6 1065.1 L195.3 1064.6 L213.2 1064.2 L231.4 1063.9 L249.7 1063.7 L268.1 1063.6 L286.6 1063.5 L305.1 1063.6 L323.5 1063.7 L341.8 1063.9 L360 1064.2 L377.9 1064.6 L395.6 1065.1 L413 1065.7 L430.1 1066.4 L446.7 1067.3 L462.9 1068.3 L478.6 1069.4 L493.7 1070.8 L508.2 1072.3 L522.1 1074.1 L535.3 1076.2"/><path d="M34.1 1032.4 L47.7 1032.4 L61.9 1032.4 L76.7 1032.4 L92.1 1032.4 L108.1 1032.4 L124.5 1032.4 L141.4 1032.4 L158.6 1032.4 L176.3 1032.4 L194.2 1032.4 L212.4 1032.4 L230.7 1032.4 L249.3 1032.4 L267.9 1032.4 L286.6 1032.4 L305.3 1032.4 L323.9 1032.4 L342.5 1032.4 L360.8 1032.4 L379 1032.4 L396.9 1032.4 L414.6 1032.4 L431.8 1032.4 L448.7 1032.4 L465.1 1032.4 L481.1 1032.4 L496.5 1032.4 L511.3 1032.4 L525.5 1032.4 L539.1 1032.4"/><path d="M37.9 988.6 L51.1 990.7 L65 992.5 L79.5 994 L94.6 995.4 L110.3 996.5 L126.5 997.5 L143.1 998.4 L160.2 999.1 L177.6 999.7 L195.3 1000.2 L213.2 1000.6 L231.4 1000.9 L249.7 1001.1 L268.1 1001.2 L286.6 1001.3 L305.1 1001.2 L323.5 1001.1 L341.8 1000.9 L360 1000.6 L377.9 1000.2 L395.6 999.7 L413 999.1 L430.1 998.4 L446.7 997.5 L462.9 996.5 L478.6 995.4 L493.7 994 L508.2 992.5 L522.1 990.7 L535.3 988.6"/><path d="M49.3 946 L61.4 950 L74.3 953.4 L87.9 956.4 L102.2 958.9 L117.1 961.2 L132.5 963.1 L148.4 964.7 L164.8 966.1 L181.5 967.3 L198.5 968.3 L215.8 969.1 L233.3 969.6 L251 970.1 L268.8 970.3 L286.6 970.4 L304.4 970.3 L322.2 970.1 L339.9 969.6 L357.4 969.1 L374.7 968.3 L391.7 967.3 L408.4 966.1 L424.8 964.7 L440.7 963.1 L456.1 961.2 L471 958.9 L485.3 956.4 L498.9 953.4 L511.8 950 L523.9 946"/><path d="M67.9 906.2 L78.3 911.5 L89.7 916.2 L101.9 920.3 L114.8 923.8 L128.4 926.9 L142.6 929.6 L157.3 931.9 L172.5 933.9 L188 935.6 L203.9 937 L220.1 938.1 L236.6 938.9 L253.1 939.5 L269.8 939.9 L286.6 940 L303.4 939.9 L320.1 939.5 L336.6 938.9 L353.1 938.1 L369.3 937 L385.2 935.6 L400.7 933.9 L415.9 931.9 L430.6 929.6 L444.8 926.9 L458.4 923.8 L471.3 920.3 L483.5 916.2 L494.9 911.5 L505.3 906.2"/><path d="M93.2 870.1 L101.5 876.2 L110.9 881.7 L121.2 886.5 L132.3 890.7 L144.2 894.4 L156.7 897.6 L169.7 900.4 L183.3 902.8 L197.3 904.9 L211.6 906.6 L226.3 907.9 L241.1 909 L256.2 909.7 L271.4 910.1 L286.6 910.3 L301.8 910.1 L317 909.7 L332.1 909 L346.9 907.9 L361.6 906.6 L375.9 904.9 L389.9 902.8 L403.5 900.4 L416.5 897.6 L429 894.4 L440.9 890.7 L452 886.5 L462.3 881.7 L471.7 876.2 L480 870.1"/><path d="M124.3 839 L130.3 845.2 L137.5 850.7 L145.6 855.7 L154.6 860.2 L164.3 864.1 L174.7 867.6 L185.7 870.7 L197.3 873.3 L209.2 875.5 L221.6 877.4 L234.2 878.9 L247.1 880 L260.2 880.8 L273.3 881.3 L286.6 881.5 L299.9 881.3 L313 880.8 L326.1 880 L339 878.9 L351.6 877.4 L364 875.5 L375.9 873.3 L387.5 870.7 L398.5 867.6 L408.9 864.1 L418.6 860.2 L427.6 855.7 L435.7 850.7 L442.9 845.2 L448.9 839"/><path d="M160.3 813.7 L164.2 819.2 L169.1 824.3 L174.9 828.9 L181.5 833.1 L188.8 836.8 L196.8 840.2 L205.4 843.1 L214.5 845.7 L224 847.9 L233.9 849.7 L244.1 851.2 L254.5 852.4 L265.1 853.2 L275.8 853.7 L286.6 853.9 L297.4 853.7 L308.1 853.2 L318.7 852.4 L329.1 851.2 L339.3 849.7 L349.2 847.9 L358.7 845.7 L367.8 843.1 L376.4 840.2 L384.4 836.8 L391.7 833.1 L398.3 828.9 L404.1 824.3 L409 819.2 L412.9 813.7"/><path d="M200.2 795.1 L202.2 799.3 L205 803.1 L208.5 806.8 L212.7 810.1 L217.5 813.1 L222.8 815.9 L228.7 818.4 L235 820.5 L241.7 822.4 L248.7 824 L255.9 825.3 L263.4 826.3 L271.1 827 L278.8 827.4 L286.6 827.6 L294.4 827.4 L302.1 827 L309.8 826.3 L317.3 825.3 L324.5 824 L331.5 822.4 L338.2 820.5 L344.5 818.4 L350.4 815.9 L355.7 813.1 L360.5 810.1 L364.7 806.8 L368.2 803.1 L371 799.3 L373 795.1"/><path d="M242.8 783.7 L243.4 786 L244.5 788.1 L246 790.2 L247.9 792.1 L250.2 793.9 L252.8 795.5 L255.8 797 L259 798.4 L262.5 799.6 L266.2 800.6 L270 801.4 L274 802 L278.2 802.5 L282.4 802.8 L286.6 802.9 L290.8 802.8 L295 802.5 L299.2 802 L303.2 801.4 L307 800.6 L310.7 799.6 L314.2 798.4 L317.4 797 L320.4 795.5 L323 793.9 L325.3 792.1 L327.2 790.2 L328.7 788.1 L329.8 786 L330.4 783.7"/><circle cx="286.6" cy="1032.4" r="252.5"/><line x1="26.1" y1="1032.4" x2="547.1" y2="1032.4"/><line x1="286.6" y1="771.9" x2="286.6" y2="1292.9"/></g>
<g font-family="Liberation Sans, sans-serif"><text x="286.6" y="772.8" font-size="18" text-anchor="middle" fill="#7a7a7a" stroke="#fff" stroke-width="0.7">N</text></g>
</g>
<rect x="573.4" y="893.3" width="42.8" height="266.8" fill="#fff" stroke="#555" stroke-width="0.9"/>
<rect x="578.2" y="1131.4" width="8.7" height="17.8" fill="#ffffff"/>
<rect x="578.2" y="1114" width="8.7" height="17.8" fill="#ffd8d8"/>
<rect x="578.2" y="1096.5" width="8.7" height="17.8" fill="#ffb4b4"/>
<rect x="578.2" y="1079.1" width="8.7" height="17.8" fill="#ff8c8c"/>
<rect x="578.2" y="1061.6" width="8.7" height="17.8" fill="#ff6060"/>
<rect x="578.2" y="1044.2" width="8.7" height="17.8" fill="#ff2c2c"/>
<rect x="578.2" y="1026.7" width="8.7" height="17.8" fill="#ff0808"/>
<rect x="578.2" y="1009.2" width="8.7" height="17.8" fill="#ff0000"/>
<rect x="578.2" y="991.8" width="8.7" height="17.8" fill="#ffa800"/>
<rect x="578.2" y="974.3" width="8.7" height="17.8" fill="#b0f000"/>
<rect x="578.2" y="956.9" width="8.7" height="17.8" fill="#00f020"/>
<rect x="578.2" y="939.4" width="8.7" height="17.8" fill="#00f0b0"/>
<rect x="578.2" y="922" width="8.7" height="17.8" fill="#109cd8"/>
<rect x="578.2" y="904.5" width="8.7" height="17.8" fill="#1818e0"/>
<rect x="578.2" y="904.5" width="8.7" height="244.4" fill="none" stroke="#444" stroke-width="0.7"/>
<g stroke="#444" stroke-width="0.6" opacity="0.8"><line x1="578.2" y1="1148.9" x2="588.7" y2="1148.9"/><line x1="578.2" y1="1131.4" x2="588.7" y2="1131.4"/><line x1="578.2" y1="1114" x2="588.7" y2="1114"/><line x1="578.2" y1="1096.5" x2="588.7" y2="1096.5"/><line x1="578.2" y1="1079.1" x2="588.7" y2="1079.1"/><line x1="578.2" y1="1061.6" x2="588.7" y2="1061.6"/><line x1="578.2" y1="1044.2" x2="588.7" y2="1044.2"/><line x1="578.2" y1="1026.7" x2="588.7" y2="1026.7"/><line x1="578.2" y1="1009.2" x2="588.7" y2="1009.2"/><line x1="578.2" y1="991.8" x2="588.7" y2="991.8"/><line x1="578.2" y1="974.3" x2="588.7" y2="974.3"/><line x1="578.2" y1="956.9" x2="588.7" y2="956.9"/><line x1="578.2" y1="939.4" x2="588.7" y2="939.4"/><line x1="578.2" y1="922" x2="588.7" y2="922"/><line x1="578.2" y1="904.5" x2="588.7" y2="904.5"/></g>
<g font-family="Liberation Sans, sans-serif"><text x="590.5" y="1153.9" font-size="13.8" fill="#111">0.0</text><text x="590.5" y="1136.4" font-size="13.8" fill="#111">0.5</text><text x="590.5" y="1119" font-size="13.8" fill="#111">1.0</text><text x="590.5" y="1101.5" font-size="13.8" fill="#111">1.5</text><text x="590.5" y="1084" font-size="13.8" fill="#111">2.0</text><text x="590.5" y="1066.6" font-size="13.8" fill="#111">2.5</text><text x="590.5" y="1049.1" font-size="13.8" fill="#111">3.0</text><text x="590.5" y="1031.7" font-size="13.8" fill="#111">3.5</text><text x="590.5" y="1014.2" font-size="13.8" fill="#111">4.0</text><text x="590.5" y="996.8" font-size="13.8" fill="#111">4.5</text><text x="590.5" y="979.3" font-size="13.8" fill="#111">5.0</text><text x="590.5" y="961.8" font-size="13.8" fill="#111">5.5</text><text x="590.5" y="944.4" font-size="13.8" fill="#111">6.0</text><text x="590.5" y="926.9" font-size="13.8" fill="#111">6.5</text><text x="590.5" y="909.5" font-size="13.8" fill="#111">7.0</text></g>
<g id="prake">
<clipPath id="clip_prake"><circle cx="885.3" cy="1027.7" r="252.5"/></clipPath>
<g clip-path="url(#clip_prake)"><path d="M678.3 813.9 L685.4 813.3 L693.4 814.6 L700.3 817.9 L705.3 823 L706.8 825.8 L707.8 829.8 L707.3 835.8 L704.1 841.7 L699.3 845.9 L695.4 848 L689.4 850 L683.4 851 L675.5 851.2 L669.5 850.5 L665.5 849.2 L661.6 846.7 L659.6 844.2 L658 839.8 L657.8 835.8 L659.1 829.8 L661 825.8 L663.9 821.9 L668.5 817.9 L673.5 815.3ZM873.1 835.8 L882.3 834.7 L892.3 835.9 L902.2 839.2 L912.1 844.5 L923.8 853.7 L940 870.3 L948.2 877.5 L959.4 885.5 L979.8 898.5 L991.7 907.4 L1020.9 935.2 L1027.5 943.3 L1032.6 953.1 L1035.3 963.1 L1037.8 981 L1039.4 989.1 L1043.4 1000.6 L1049.2 1012.8 L1052.9 1018.8 L1057.3 1023.9 L1075.2 1038.2 L1081.2 1044.6 L1085.9 1052.6 L1088.7 1062.5 L1089.5 1070.5 L1089.3 1080.4 L1087.8 1090.3 L1085.6 1098.3 L1083.1 1104.3 L1079.7 1110.2 L1067.1 1126.1 L1064.6 1132.1 L1064.6 1138.1 L1068.9 1158 L1069.4 1165.9 L1069.1 1173.9 L1068.2 1181.8 L1066.4 1189.8 L1064.1 1195.8 L1060.1 1201.7 L1055.5 1205.7 L1051.4 1207.7 L1045.4 1208.6 L1039.4 1207.5 L1033.5 1204.4 L1029.5 1201.2 L1015.6 1185.1 L1009.6 1180 L1003.6 1177.4 L999.7 1177.4 L997.7 1178.1 L993.7 1181 L989.7 1186 L967.4 1219.6 L956.8 1233.5 L951.9 1238.4 L946 1242.9 L940 1246 L934 1247.7 L926.1 1247.9 L920.1 1246.5 L914.1 1243.1 L909 1237.5 L906.1 1231.6 L904.8 1225.6 L904.6 1219.6 L906 1205.7 L905.8 1201.7 L904.2 1197.8 L902.2 1196 L898.2 1194.3 L894.2 1193.6 L864.4 1191.4 L856.5 1189.7 L850.5 1187.4 L844.5 1183.9 L839.8 1179.8 L835.1 1173.9 L826.6 1160.1 L820.7 1154.8 L812.7 1151.5 L796.8 1148.4 L788.8 1146.3 L780.9 1142.6 L775 1138.1 L771.5 1134.1 L769.1 1130.1 L766.4 1122.2 L765.7 1114.2 L766.7 1098.3 L765.7 1092.3 L762.9 1088.4 L752.3 1078.4 L749.1 1073 L747.7 1068.5 L747.5 1064.5 L748.1 1060.5 L749.8 1056.5 L752.8 1052.6 L755.3 1050.6 L759 1048.7 L763 1047.8 L767 1047.8 L772.9 1049.4 L778.9 1053.5 L782.9 1058.5 L788 1068.5 L790.8 1071.9 L794.8 1073.3 L799 1072.4 L802.8 1070.2 L806.7 1065.7 L817.8 1046.6 L831.5 1026.7 L834.6 1019.1 L836.6 1011.1 L838.6 998.9 L839.5 988.9 L839.4 983 L838.3 975 L836.6 968.4 L833.6 961.1 L828.6 954 L824.6 950.6 L820.7 948.2 L810.7 944.5 L790.8 939.8 L784.9 937.3 L781.6 935.2 L777.5 931.2 L775.1 927.3 L773.8 923.3 L773.9 917.3 L775.3 913.3 L778 909.4 L780.9 906.9 L784.9 904.7 L792.8 902.7 L810.7 902.5 L816.7 901.9 L824.6 899.5 L832.6 894.8 L836.6 891 L840.6 884.4 L847.7 859.6 L852.8 849.7 L856.5 845.2 L862.4 840.3 L868.4 837.2Z" fill="#f4e0d8"/>
<path d="M873.9 847.7 L880.3 846.2 L888.3 846.4 L896.2 848.5 L904.2 852.3 L910.2 856.3 L916.1 861.4 L931.4 877.5 L938 883.5 L946.9 889.5 L967.8 900.5 L977.8 906.5 L986.6 913.3 L994.7 921.3 L1015.3 945.2 L1019.4 951.1 L1021.5 955.4 L1023.5 961.1 L1025.1 969 L1026 990.9 L1027.1 998.9 L1029.6 1006.8 L1034.5 1016.8 L1038.6 1022.7 L1044.1 1028.7 L1049.1 1032.7 L1064.2 1042.6 L1071.3 1048.9 L1074.1 1052.6 L1077.3 1058.5 L1080 1068.5 L1080.4 1074.4 L1079.9 1082.4 L1078.8 1088.4 L1076.9 1094.3 L1073.8 1100.3 L1071 1104.3 L1067 1108.2 L1061.3 1112.2 L1055.3 1114.9 L1051.4 1116.1 L1045.4 1117.2 L1041.4 1117.3 L1037.4 1116.7 L1033.5 1115.1 L1024 1108.2 L1019.5 1105.9 L1015.6 1105.3 L1013.6 1105.7 L1009.6 1108.6 L1005.6 1115.8 L1000.5 1132.1 L991.7 1143.4 L987.7 1150.2 L979.4 1175.9 L972.5 1189.8 L955.9 1213.6 L947.9 1223.5 L944 1227.2 L940.4 1229.6 L934 1231.8 L930 1231.9 L926.1 1230.5 L922.7 1227.6 L920.7 1223.6 L920 1219.6 L920.5 1213.7 L924.6 1199.7 L925.7 1193.8 L924.8 1187.8 L923.6 1185.8 L921.4 1183.8 L918.1 1182.4 L912.1 1181.5 L888.3 1182.8 L876.4 1182.5 L866.4 1181.1 L858.5 1178.4 L852.5 1174.8 L847.5 1169.9 L843.7 1163.9 L837.5 1152 L834.6 1148.2 L832.1 1146 L828.6 1143.9 L822.7 1141.8 L800.8 1138.1 L790.8 1134.7 L786.7 1132.1 L782.9 1128.3 L780.4 1124.2 L779.2 1120.2 L778.8 1116.2 L779.2 1112.2 L780.4 1108.2 L782.9 1103.4 L785.4 1100.3 L788.8 1097.2 L793.2 1094.3 L808.5 1086.4 L814.7 1080.5 L818 1074.4 L823.4 1060.5 L826.3 1054.5 L830.2 1048.6 L840.9 1034.7 L844.9 1026.7 L847.2 1016.8 L849.2 1000.9 L849.6 990.9 L848.9 983 L846.5 970 L841.9 951.1 L838.6 941.9 L831.5 929.3 L830.6 925.3 L830.8 923.3 L831.4 921.3 L834.2 917.3 L846.5 905.4 L850.3 899.4 L852.5 892.1 L856 869.6 L858 863.6 L860 859.6 L862.7 855.7 L866.4 851.9 L870.4 849.3ZM1020.5 1128.1 L1025.5 1127.6 L1029.5 1128.1 L1031.5 1128.8 L1035.5 1131.6 L1041.4 1138.8 L1047.8 1150 L1051.1 1160 L1051.6 1169.9 L1050.8 1173.9 L1049.4 1177.8 L1047.4 1180.5 L1045.4 1182 L1043.4 1182.6 L1039.4 1182.1 L1033.5 1178.4 L1014.6 1160 L1009.8 1154 L1007.6 1150 L1006.1 1146 L1005.5 1142.1 L1006.5 1136.1 L1007.9 1134.1 L1011.6 1131.3 L1015.6 1129.5Z" fill="#e8ccb4"/>
<path d="M881.4 855.7 L886.3 855.4 L892.3 856.5 L898.2 858.9 L902.2 861.2 L910.2 867.7 L924.2 883.5 L930.8 889.5 L940 894.8 L959.9 903 L969.8 908 L979.8 914.8 L988.5 923.3 L1008.9 951.1 L1013.2 959.1 L1015.1 965.1 L1016 973 L1015 983 L1012.8 990.9 L1007.1 1004.8 L1007.1 1008.8 L1008.6 1012.8 L1011.5 1016.8 L1015.3 1020.7 L1027.3 1030.7 L1037 1036.6 L1055.3 1045.7 L1062.3 1050.6 L1066.3 1054.5 L1069.2 1058.5 L1071.3 1062.8 L1072.9 1068.5 L1073.6 1074.4 L1073.4 1080.4 L1072.3 1086.4 L1070.9 1090.3 L1068.8 1094.3 L1065.3 1099 L1061.3 1102.3 L1057.3 1104.4 L1053.4 1105.6 L1049.4 1106.1 L1041.4 1105 L1033.5 1101.3 L1021.5 1093.8 L1015.6 1091.9 L1011.6 1092.2 L1009.6 1093 L1005.6 1095.8 L1001.9 1100.3 L999.7 1104.1 L990.1 1124.2 L976.3 1148 L973 1156 L968.6 1169.9 L965.8 1176 L959.9 1184 L955.9 1187.1 L951.9 1188.7 L949.9 1188.6 L947.9 1187.5 L941.9 1179.8 L937.8 1175.9 L934 1173.6 L928.1 1171.9 L918.1 1171.8 L898.2 1174.9 L886.3 1175.7 L874.4 1174.7 L865.2 1171.9 L858.8 1167.9 L855.1 1163.9 L851.6 1158 L844.8 1142.1 L842.5 1139 L839.2 1136.1 L834.6 1133.7 L830.6 1132.4 L808.7 1129.6 L800.8 1127.5 L798 1126.1 L794.8 1123.7 L792.8 1121 L791.7 1118.2 L791.5 1116.2 L792.2 1112.2 L794.5 1108.2 L796.3 1106.3 L801.9 1102.3 L816.7 1095 L822.7 1090 L825.9 1084.4 L830.3 1068.5 L833.5 1060.5 L838.6 1052.8 L849.5 1040.6 L852.1 1036.6 L853.9 1032.7 L855.5 1026.7 L856.3 1020.7 L857.3 996.9 L856.2 986.9 L851.5 965.1 L850 955.1 L849.2 943.2 L849.7 935.2 L851.1 929.3 L852.8 925.3 L862 911.4 L864.2 905.4 L864.6 899.4 L863.3 881.5 L863.9 875.6 L865.4 869.6 L868.4 863.8 L872.3 859.6 L876.4 857.1Z" fill="#d8c090"/>
<path d="M884 865.6 L888.3 865.5 L892.3 866.4 L896.2 868.2 L900.2 870.8 L906.2 876.7 L917.8 891.5 L924.1 896.4 L930.7 899.4 L953.9 906 L963.9 910 L973.8 915.9 L982 923.3 L989.4 933.2 L1000.9 955.1 L1004.3 963.1 L1005.5 969 L1005.5 973 L1004.7 977 L1001.7 983 L997.7 987.2 L987.7 994.1 L985.7 996.9 L985.7 1000.9 L988.3 1006.8 L992.3 1012.8 L999.7 1021.4 L1007.6 1029.6 L1015.6 1036.8 L1021.1 1040.6 L1025.5 1042.8 L1045.4 1048.6 L1055.3 1053.4 L1059.4 1056.5 L1062.9 1060.5 L1065.3 1064.7 L1067.1 1070.5 L1067.6 1074.4 L1067.3 1080.4 L1064.8 1088.4 L1060.1 1094.3 L1057.3 1096.3 L1053.4 1098 L1047.4 1098.5 L1043.4 1097.9 L1039.4 1096.5 L1033.5 1093 L1023.5 1085.7 L1017.6 1082.8 L1011.6 1082.5 L1005.6 1085.2 L1001.6 1088.9 L997.7 1094.4 L984.7 1122.2 L974.7 1138.1 L963.9 1153.7 L959.9 1158.6 L955.9 1161.9 L951.9 1163.5 L947.9 1164 L934 1163.1 L926.1 1163.5 L900.2 1168.7 L890.3 1169.7 L880.3 1169.1 L874.9 1167.9 L870.4 1166.1 L864.4 1162 L860.4 1156.8 L857.5 1150 L852.5 1129.7 L850.5 1124.2 L846.5 1118 L839.4 1112.2 L838.1 1110.2 L837.9 1108.2 L839.6 1098.3 L838.8 1078.4 L839.4 1072.4 L840.5 1068.5 L842.5 1064.1 L846.5 1058.8 L858.6 1048.6 L862.1 1044.6 L864.1 1040.6 L865.5 1034.7 L865.6 1024.7 L864.3 1000.9 L862.6 990.9 L857.7 973 L855.7 963.1 L854.8 953.1 L855.5 943.2 L857.7 935.2 L860.7 929.3 L864.4 924.1 L873.9 913.3 L877.5 907.4 L878 901.4 L873.5 885.5 L873.4 877.5 L874.5 873.6 L876.9 869.6 L880.3 866.9Z" fill="#c8c070"/>
<path d="M897.1 905.4 L900.2 903.9 L906.2 903.5 L949.9 909.7 L957.9 912.1 L963.9 914.7 L969.8 918.2 L976 923.3 L982.4 931.2 L986.9 941.2 L988.4 947.2 L989.2 953.1 L989.2 957.1 L988.4 961.1 L987.5 963.1 L985.7 964.9 L983.7 965.9 L979.8 966.5 L967.8 966.4 L961.9 967 L957.9 968.2 L953.9 970.7 L950.7 975 L949.5 979 L949.8 984.9 L951.5 988.9 L953.9 992.1 L957 994.9 L973.8 1005.3 L983.7 1013.7 L994.2 1024.7 L1011.6 1045.7 L1017.6 1051.8 L1019.5 1053.2 L1023.5 1054.4 L1041.4 1055 L1047.4 1056.6 L1051.4 1058.5 L1056.3 1062.5 L1059.2 1066.5 L1060.8 1070.5 L1061.5 1076.4 L1060.3 1082.4 L1057.3 1087.3 L1053.4 1090.2 L1047.4 1091.4 L1042.3 1090.3 L1037.4 1087.9 L1032.9 1084.4 L1023.5 1075.1 L1019.5 1072.2 L1015.6 1071.1 L1013.6 1071.4 L1009.6 1072.9 L1005.6 1075.6 L1001.6 1079.2 L995.9 1086.4 L991.7 1094 L984.5 1112.2 L978.6 1124.2 L973.8 1131.5 L967.8 1139.2 L961.9 1145.6 L957.9 1149.1 L951.9 1152.7 L946 1154.5 L926.1 1157.2 L900.2 1163.5 L888.3 1164.3 L882.3 1163.6 L878.3 1162.4 L874.4 1160.6 L870.7 1158 L866.2 1152 L864.6 1148 L863.2 1142.1 L862.7 1136.1 L863.1 1130.1 L864.4 1124.2 L866.4 1119.6 L868.6 1116.2 L872.4 1111.9 L886.9 1100.3 L892.8 1094.3 L896.3 1088.4 L897.6 1084.4 L898 1080.4 L897.7 1076.4 L896.2 1071.7 L883.9 1050.6 L877.4 1032.7 L874.3 1020.7 L870 998.9 L860.6 969 L859.2 961.1 L858.8 953.1 L859.8 945.2 L861.5 939.2 L864.4 933.4 L867.4 929.3 L876.4 920.4Z" fill="#a8b850"/>
<path d="M909.6 913.3 L940 913.1 L947.9 913.9 L953.9 915.2 L961.9 918.2 L967.3 921.3 L972.1 925.3 L976.9 931.2 L978.9 935.2 L980.6 941.2 L980.6 947.2 L979.2 951.1 L977.8 953.1 L973.8 956.2 L955.9 961.9 L949.9 965.8 L946.1 971 L944.5 975 L943.4 981 L943.9 986.9 L946.3 992.9 L951.7 998.9 L975.8 1013.6 L983.7 1020.4 L989.7 1026.7 L996 1034.7 L1002.2 1044.6 L1005.5 1052.6 L1006.1 1058.5 L1005.1 1062.5 L1003.1 1066.5 L993.7 1079.7 L989.7 1086.7 L986.5 1094.3 L981.1 1110.2 L976.6 1120.2 L969.8 1130.5 L961.9 1139.1 L953.9 1144.8 L946 1147.9 L926.1 1151.6 L902.2 1158.3 L896.2 1159.2 L890.3 1159.2 L884.3 1158.3 L880.3 1156.8 L876.1 1154 L872.8 1150 L870.9 1146 L869.6 1140.1 L869.6 1134.1 L870.3 1130.1 L872.6 1124.2 L876.8 1118.2 L882.3 1112.9 L898.2 1100.3 L904.2 1093.2 L907.8 1086.4 L909.8 1080.4 L910.6 1074.4 L910.4 1070.5 L909.3 1066.5 L907.6 1062.5 L891.4 1038.6 L886.8 1030.7 L883.2 1022.7 L876.2 1000.9 L864.9 973 L862.6 963.1 L862.2 953.1 L863.5 945.2 L865.8 939.2 L870.4 932.1 L876.4 926.2 L884.3 920.7 L892.3 916.9 L900.2 914.4ZM1036.5 1066.5 L1039.4 1064.9 L1043.4 1064.6 L1047.4 1065.8 L1049.4 1067.2 L1052.1 1070.5 L1053.3 1074.4 L1052.5 1078.4 L1051.4 1080.3 L1049.4 1081.7 L1045.4 1082.3 L1041.4 1080.8 L1039.4 1079.3 L1036.9 1076.4 L1035.1 1072.4 L1035.2 1068.5Z" fill="#80b030"/>
<path d="M900.4 919.3 L910.2 918.3 L938 917.9 L949.9 918.6 L955.9 920.2 L962.7 923.3 L967.8 927.2 L971.2 931.2 L973.2 935.2 L974.2 939.2 L974.1 943.2 L972.4 947.2 L967.8 951.2 L951.9 958.1 L946 963.2 L942.4 969 L940 975.8 L938.9 983 L939.4 988.9 L941.5 994.9 L946.3 1000.9 L951.9 1005 L967.8 1013.3 L973.8 1017.1 L979.8 1021.9 L985.7 1028 L990.9 1034.7 L995.5 1042.6 L998.2 1050.6 L998.6 1056.5 L998 1060.5 L996.5 1064.5 L987.7 1079.9 L984.7 1086.4 L977.9 1108.2 L974.7 1116.2 L968.7 1126.1 L961.9 1133.7 L953.9 1139.5 L946 1142.6 L926.1 1146.4 L904.2 1153.1 L894.2 1154.3 L886.3 1153 L882.3 1150.9 L879.2 1148 L876.8 1144 L875.7 1140.1 L875.5 1136.1 L876.6 1130.1 L879.5 1124.2 L882.7 1120.2 L888.3 1115.2 L902.9 1104.3 L910.2 1096.3 L914.9 1088.4 L918.3 1080.4 L920 1072.4 L919.7 1066.5 L917.9 1060.5 L914.7 1054.5 L897.5 1032.7 L890.1 1020.7 L881.5 1000.9 L872.4 983.5 L868.6 975 L865.8 965.1 L865 955.1 L865.8 949.1 L867.5 943.2 L870.7 937.2 L874.4 932.7 L880.3 927.5 L886.3 923.9 L894.2 920.7Z" fill="#50a020"/>
<path d="M898 923.3 L910.2 922.1 L947.9 923 L953.9 924.3 L957.9 926 L961.9 928.6 L964.6 931.2 L965.9 933.2 L967.4 937.2 L967.1 941.2 L965.8 943.8 L962.3 947.2 L951.9 952.5 L947.9 955.1 L944 959.2 L940 965.9 L937.3 973 L935.4 981 L934.9 986.9 L935.6 992.9 L938.2 998.9 L943.6 1004.8 L949.9 1008.8 L969.8 1018.7 L975.8 1022.9 L981.8 1028.6 L986.5 1034.7 L990.8 1042.6 L992.7 1048.6 L993.2 1054.5 L992.7 1058.5 L990.7 1064.5 L983.2 1078.4 L980.6 1084.4 L975.5 1104.3 L972.8 1112.2 L967.8 1121.7 L961.9 1128.9 L955.9 1133.6 L947.9 1137.4 L942 1138.9 L926.1 1141.3 L904.4 1148 L896.2 1149 L890.2 1148 L886.5 1146 L884.3 1143.9 L882.3 1140.1 L881.9 1138.1 L881.8 1134.1 L882.9 1130.1 L884.9 1126.1 L888.3 1122.1 L892.9 1118.2 L906.9 1108.2 L914.1 1100.5 L919.3 1092.3 L924.2 1082.4 L926.3 1076.4 L927 1070.5 L926 1062.5 L921.9 1052.6 L916.1 1043.6 L902.2 1026.9 L896.6 1018.8 L886.8 1000.9 L874.3 981 L870.6 973 L868.4 965.1 L867.6 957.1 L868.1 951.1 L869.8 945.2 L872.9 939.2 L878 933.2 L884.3 928.5 L890.3 925.6Z" fill="#189010"/>
<path d="M906 925.3 L916.1 925.5 L947.9 928.7 L954.6 931.2 L957.9 934.7 L958.7 937.2 L958.4 939.2 L957.4 941.2 L955.5 943.2 L947.9 948.7 L944 952.6 L940.9 957.1 L938 962.7 L934.2 973 L931.6 983 L930.9 990.9 L931.7 996.9 L934.5 1002.8 L940 1008.3 L946 1011.6 L965.8 1020.1 L971.8 1023.8 L977.5 1028.7 L982.4 1034.7 L985.8 1040.6 L987.9 1046.6 L988.6 1052.6 L988.2 1056.5 L986.4 1062.5 L978.2 1078.4 L975.8 1084.4 L971.8 1104.3 L969.2 1112.2 L964.9 1120.2 L959.9 1126 L953.9 1130.5 L946 1133.7 L940 1134.7 L924.1 1136.2 L918.1 1137.6 L904.5 1142.1 L898.2 1142.7 L894.2 1141.8 L891.5 1140.1 L890.3 1138.5 L889.2 1134.1 L890.2 1130.1 L892.3 1126.9 L894.9 1124.2 L908.2 1114.8 L912.1 1111.5 L918.1 1104.2 L926.1 1090.3 L930.9 1080.4 L932.5 1074.4 L932.4 1066.5 L931 1060.5 L928.1 1052.9 L920.1 1037.7 L916.1 1032.2 L904.2 1017.9 L893.8 1002.8 L882.3 988.2 L876.4 979.3 L871.8 969 L870.4 963.1 L870 957.1 L870.7 951.1 L872.6 945.2 L876.1 939.2 L880.3 934.6 L886.3 930.5 L892.3 927.8 L898.2 926.1Z" fill="#108818"/>
<path d="M896 929.3 L906.2 927.9 L918.1 928.8 L928.1 930.9 L936.4 933.2 L940.9 935.2 L943.3 937.2 L944.1 939.2 L943.4 943.2 L936 959.7 L930.1 977 L927.3 986.9 L926 996.9 L926.4 1000.9 L927.6 1004.8 L930.1 1008.8 L935.6 1012.8 L959.9 1020.7 L969.8 1026.1 L975.2 1030.7 L978.5 1034.7 L981.1 1038.6 L983.5 1044.6 L984.5 1050.6 L983.9 1056.5 L981.8 1062.5 L973.9 1076.4 L971.4 1082.4 L970 1088.4 L968 1104.3 L965.5 1112.2 L962.2 1118.2 L957.9 1123 L951.9 1127.2 L946 1129.3 L940 1130.2 L932 1129.9 L914.4 1128.1 L912.1 1127 L911.7 1126.1 L918.1 1115.7 L934.8 1084.4 L937.7 1076.4 L938.1 1070.5 L937 1064.5 L934 1055.7 L926.1 1035.7 L920.7 1024.7 L914.4 1016.8 L888.3 990.5 L882.3 983.7 L876.7 975 L873.6 967 L872.5 961.1 L872.4 955.1 L873.6 949.1 L876.3 943.2 L880.3 938 L884.3 934.6 L890.3 931.2Z" fill="#109828"/>
<path d="M897.6 931.2 L904.2 930.4 L910.2 930.5 L922.1 932.8 L928.3 935.2 L931.6 937.2 L934 939.5 L935.8 943.2 L936 947.2 L934.4 955.1 L926.1 980.2 L920.1 994.2 L918.1 997.4 L916.1 999.4 L914.1 1000.3 L910.2 1000.3 L904.2 998 L898.2 994.4 L890.3 988.2 L884.3 982.2 L880.4 977 L877.2 971 L875.3 965.1 L874.5 959.1 L874.9 953.1 L876.7 947.2 L879 943.2 L882.3 939.2 L886.3 936 L892.3 932.9ZM934.6 1022.7 L940 1021.1 L947.9 1021.3 L957.9 1023.5 L965.1 1026.7 L970.7 1030.7 L976.1 1036.6 L979.2 1042.6 L980.5 1048.6 L980.2 1054.5 L978.2 1060.5 L975.8 1064.8 L967.9 1076.4 L965.3 1082.4 L964.7 1086.4 L964.2 1102.3 L962.9 1108.2 L961.3 1112.2 L957.9 1117.5 L953.9 1121.2 L949.9 1123.5 L944 1125 L938 1124.9 L932 1122.9 L928.8 1120.2 L927.3 1116.2 L927.9 1110.2 L929.9 1104.3 L933.7 1096.3 L942.1 1082.4 L944 1076.4 L943.9 1072.4 L943.1 1068.5 L935 1046.6 L932.3 1036.6 L931.7 1030.7 L932 1026.7 L932.8 1024.7Z" fill="#10a050"/>
<path d="M898.9 933.2 L904.2 932.6 L910.2 932.9 L916.1 934 L922.1 936.1 L926.1 938.4 L929.1 941.2 L930.4 943.2 L931.7 947.2 L931.7 953.1 L930.6 959.1 L927.7 969 L924.1 977.9 L918.1 988 L914.1 991.6 L910.2 993 L906.2 992.9 L900.2 991 L894.2 987.6 L888.3 982.8 L884.3 978.5 L880.6 973 L878.3 968 L877 963.1 L876.6 957.1 L877.1 953.1 L879.2 947.2 L881.7 943.2 L884.3 940.3 L888.4 937.2 L894.2 934.4ZM944 1026.7 L947.9 1025.9 L953.9 1026.2 L959.9 1027.8 L963.9 1029.7 L968.2 1032.7 L971.8 1036.3 L974.6 1040.6 L976.1 1044.6 L976.7 1048.6 L976.4 1052.6 L975.4 1056.5 L973.4 1060.5 L969.8 1065.4 L965.8 1069.4 L961.9 1072.4 L957.9 1074.4 L955.9 1074.6 L953.9 1073.7 L949.9 1068.9 L944 1058.4 L939.3 1046.6 L937.8 1038.6 L938.3 1032.7 L940.7 1028.7ZM947.9 1088.4 L951.9 1086.4 L953.9 1086.7 L955.9 1088.6 L957.9 1092.9 L958.7 1096.3 L959.2 1102.3 L958.6 1106.3 L956.1 1112.2 L951.9 1116.7 L947.9 1118.7 L942 1119.1 L938 1117.4 L936 1115.1 L935 1112.2 L935 1108.2 L936.8 1102.3 L940 1096.6 L944 1091.8Z" fill="#10b080"/>
<path d="M899.7 935.2 L908.2 934.9 L914.1 936 L918.1 937.4 L922.1 939.6 L925.9 943.2 L927.2 945.2 L928.5 949.1 L928.6 955.1 L927.6 961.1 L925.2 969 L922.1 976.1 L919.1 981 L916.1 984.5 L912.1 987.2 L908.2 988.4 L904.2 988.3 L900.2 987.2 L894.2 984.2 L890.3 981.3 L886.3 977.4 L883 973 L880.3 967.5 L879.1 963.1 L878.7 957.1 L879.2 953.1 L880.6 949.1 L882.8 945.2 L886.3 941.4 L890.3 938.5 L894.2 936.7ZM950.5 1030.7 L953.9 1030.5 L957.9 1031.1 L963.9 1033.8 L969 1038.6 L971.8 1044 L972.4 1050.6 L970.4 1056.5 L965.8 1061.9 L961.9 1064.2 L957.9 1064.7 L955.9 1064.2 L951.9 1061.5 L947.9 1056.5 L944.3 1048.6 L943 1042.6 L943.5 1036.6 L946 1032.7ZM947.7 1106.3 L947.9 1105.6 L948.1 1106.3Z" fill="#10c0b0"/>
<path d="M900.5 937.2 L906.2 937 L910.2 937.5 L914.1 938.5 L918.1 940.4 L921.8 943.2 L923.4 945.2 L925.8 951.1 L926 955.1 L925.3 961.1 L923.6 967 L921 973 L918.1 977.6 L915 981 L912.1 983 L908.2 984.5 L904.2 984.7 L900.2 983.9 L896.2 982.3 L892.3 979.8 L888.3 976.3 L885.6 973 L883.2 969 L881.2 963.1 L880.7 959.1 L881 955.1 L882 951.1 L884.3 946.7 L887.4 943.2 L890.3 940.9 L894.2 938.9ZM952 1036.6 L955.9 1035.9 L959.9 1036.8 L963.9 1039.5 L966.2 1042.6 L967.4 1046.6 L967.1 1050.6 L964.9 1054.5 L961.9 1056.8 L957.9 1057.2 L955.9 1056.5 L953.3 1054.5 L950.4 1050.6 L948.9 1046.6 L948.5 1042.6 L949.8 1038.6Z" fill="#18b0d0"/>
<path d="M901.5 939.2 L908.2 939.4 L912.1 940.4 L916.1 942.2 L919.7 945.2 L921.2 947.2 L923.3 953.1 L923.5 957.1 L922.5 963.1 L920.4 969 L918.2 973 L915 977 L912.1 979.3 L906.2 981.5 L902.2 981.4 L898.2 980.3 L894.2 978.3 L890.3 975.1 L885.6 969 L883.9 965.1 L883 961.1 L882.9 957.1 L883.6 953.1 L886.6 947.2 L892.3 942.2 L896.2 940.3Z" fill="#1890e8"/>
<path d="M895 943.2 L902.2 941.3 L906.2 941.3 L910.2 942.2 L916.1 945.4 L918.1 947.5 L920.1 951.1 L920.9 955.1 L920.9 959.1 L918.7 967 L916.6 971 L914.1 974.1 L912.1 975.8 L908.2 977.9 L902.2 978.5 L896.2 976.6 L890.3 971.9 L888.1 969 L886.1 965.1 L885 959.1 L885.3 955.1 L886.3 952.1 L889.5 947.2Z" fill="#1060e8"/>
<path d="M896 945.2 L902.2 943.5 L908.2 944.1 L911 945.2 L914 947.2 L917.1 951.1 L918.5 957.1 L918.1 961.1 L917 965.1 L913.3 971 L908.2 974.8 L902.2 975.6 L896.2 973.6 L892.3 970.6 L888.6 965.1 L887.3 959.1 L888.3 953.1 L890.7 949.1Z" fill="#2838e0"/>
<path d="M897.6 947.2 L902.2 946 L908.2 946.9 L912.1 949.2 L914.9 953.1 L915.8 959.1 L914.1 965.1 L910.2 970.1 L906.2 972.2 L904.2 972.6 L900.2 972.3 L896.2 970.5 L892.6 967 L890.5 963.1 L889.9 957.1 L891.1 953.1 L894.2 949.1Z" fill="#1818e8"/></g>
<g fill="none" stroke="#303030" stroke-width="0.75"><path d="M885.3 1280.2 L859.5 1276.6 L834.5 1270.3 L810.4 1261.6 L787.6 1250.6 L766 1237.5 L746.1 1222.3 L727.8 1205.3 L711.4 1186.7 L696.9 1166.7 L684.5 1145.4 L674.3 1123.1 L666.2 1100 L660.4 1076.2 L656.9 1052.1 L655.8 1027.7 L656.9 1003.3 L660.4 979.2 L666.2 955.4 L674.3 932.3 L684.5 910 L696.9 888.7 L711.4 868.7 L727.8 850.1 L746.1 833.1 L766 817.9 L787.6 804.8 L810.4 793.8 L834.5 785.1 L859.5 778.8 L885.3 775.2"/><path d="M885.3 1280.2 L860.9 1274.4 L837.6 1266.3 L815.6 1256.1 L794.9 1243.8 L775.7 1229.8 L758 1214.1 L742.1 1197 L727.9 1178.6 L715.4 1159.1 L704.8 1138.6 L696.1 1117.3 L689.3 1095.5 L684.4 1073.1 L681.5 1050.5 L680.5 1027.7 L681.5 1004.9 L684.4 982.3 L689.3 959.9 L696.1 938.1 L704.8 916.8 L715.4 896.3 L727.9 876.8 L742.1 858.4 L758 841.3 L775.7 825.6 L794.9 811.6 L815.6 799.3 L837.6 789.1 L860.9 781 L885.3 775.2"/><path d="M885.3 1280.2 L863 1272.5 L842 1262.8 L822.4 1251.2 L804.2 1238 L787.5 1223.3 L772.3 1207.3 L758.6 1190.1 L746.5 1172 L736 1152.9 L727.1 1133.2 L719.8 1112.8 L714.1 1091.9 L710 1070.7 L707.6 1049.3 L706.8 1027.7 L707.6 1006.1 L710 984.7 L714.1 963.5 L719.8 942.6 L727.1 922.2 L736 902.5 L746.5 883.4 L758.6 865.3 L772.3 848.1 L787.5 832.1 L804.2 817.4 L822.4 804.2 L842 792.6 L863 782.9 L885.3 775.2"/><path d="M885.3 1280.2 L865.7 1270.8 L847.5 1259.7 L830.7 1247 L815.3 1233.1 L801.2 1217.9 L788.4 1201.7 L777.1 1184.6 L767.1 1166.7 L758.4 1148.1 L751 1128.9 L745 1109.2 L740.4 1089.2 L737.1 1068.8 L735.1 1048.3 L734.4 1027.7 L735.1 1007.1 L737.1 986.6 L740.4 966.2 L745 946.2 L751 926.5 L758.4 907.3 L767.1 888.7 L777.1 870.8 L788.4 853.7 L801.2 837.5 L815.3 822.3 L830.7 808.4 L847.5 795.7 L865.7 784.6 L885.3 775.2"/><path d="M885.3 1280.2 L869 1269.3 L854 1257.1 L840.2 1243.6 L827.7 1229.1 L816.3 1213.6 L806.1 1197.3 L797 1180.3 L789 1162.6 L782.1 1144.3 L776.3 1125.6 L771.6 1106.5 L767.9 1087 L765.3 1067.4 L763.7 1047.6 L763.2 1027.7 L763.7 1007.8 L765.3 988 L767.9 968.4 L771.6 948.9 L776.3 929.8 L782.1 911.1 L789 892.8 L797 875.1 L806.1 858.1 L816.3 841.8 L827.7 826.3 L840.2 811.8 L854 798.3 L869 786.1 L885.3 775.2"/><path d="M885.3 1280.2 L872.7 1268.2 L861.1 1255.1 L850.6 1241 L841.1 1226.1 L832.6 1210.4 L824.9 1194 L818.1 1177 L812.1 1159.5 L807 1141.5 L802.6 1123.1 L799.1 1104.4 L796.4 1085.5 L794.4 1066.3 L793.3 1047 L792.9 1027.7 L793.3 1008.4 L794.4 989.1 L796.4 969.9 L799.1 951 L802.6 932.3 L807 913.9 L812.1 895.9 L818.1 878.4 L824.9 861.4 L832.6 845 L841.1 829.3 L850.6 814.4 L861.1 800.3 L872.7 787.2 L885.3 775.2"/><path d="M885.3 1280.2 L876.7 1267.3 L868.9 1253.6 L861.8 1239.1 L855.4 1223.9 L849.7 1208.1 L844.6 1191.7 L840 1174.7 L836.1 1157.3 L832.6 1139.6 L829.8 1121.4 L827.4 1103 L825.6 1084.4 L824.3 1065.6 L823.5 1046.7 L823.3 1027.7 L823.5 1008.7 L824.3 989.8 L825.6 971 L827.4 952.4 L829.8 934 L832.6 915.8 L836.1 898.1 L840 880.7 L844.6 863.7 L849.7 847.3 L855.4 831.5 L861.8 816.3 L868.9 801.8 L876.7 788.1 L885.3 775.2"/><path d="M885.3 1280.2 L880.9 1266.8 L877 1252.7 L873.4 1238 L870.2 1222.6 L867.4 1206.7 L864.8 1190.3 L862.5 1173.4 L860.5 1156.1 L858.8 1138.4 L857.4 1120.4 L856.2 1102.2 L855.3 1083.8 L854.7 1065.2 L854.3 1046.5 L854.2 1027.7 L854.3 1008.9 L854.7 990.2 L855.3 971.6 L856.2 953.2 L857.4 935 L858.8 917 L860.5 899.3 L862.5 882 L864.8 865.1 L867.4 848.7 L870.2 832.8 L873.4 817.4 L877 802.7 L880.9 788.6 L885.3 775.2"/><path d="M885.3 1280.2 L885.3 1266.6 L885.3 1252.4 L885.3 1237.6 L885.3 1222.2 L885.3 1206.2 L885.3 1189.8 L885.3 1172.9 L885.3 1155.7 L885.3 1138 L885.3 1120.1 L885.3 1101.9 L885.3 1083.6 L885.3 1065 L885.3 1046.4 L885.3 1027.7 L885.3 1009 L885.3 990.4 L885.3 971.8 L885.3 953.5 L885.3 935.3 L885.3 917.4 L885.3 899.7 L885.3 882.5 L885.3 865.6 L885.3 849.2 L885.3 833.2 L885.3 817.8 L885.3 803 L885.3 788.8 L885.3 775.2"/><path d="M885.3 1280.2 L889.7 1266.8 L893.6 1252.7 L897.2 1238 L900.4 1222.6 L903.2 1206.7 L905.8 1190.3 L908.1 1173.4 L910.1 1156.1 L911.8 1138.4 L913.2 1120.4 L914.4 1102.2 L915.3 1083.8 L915.9 1065.2 L916.3 1046.5 L916.4 1027.7 L916.3 1008.9 L915.9 990.2 L915.3 971.6 L914.4 953.2 L913.2 935 L911.8 917 L910.1 899.3 L908.1 882 L905.8 865.1 L903.2 848.7 L900.4 832.8 L897.2 817.4 L893.6 802.7 L889.7 788.6 L885.3 775.2"/><path d="M885.3 1280.2 L893.9 1267.3 L901.7 1253.6 L908.8 1239.1 L915.2 1223.9 L920.9 1208.1 L926 1191.7 L930.6 1174.7 L934.5 1157.3 L938 1139.6 L940.8 1121.4 L943.2 1103 L945 1084.4 L946.3 1065.6 L947.1 1046.7 L947.3 1027.7 L947.1 1008.7 L946.3 989.8 L945 971 L943.2 952.4 L940.8 934 L938 915.8 L934.5 898.1 L930.6 880.7 L926 863.7 L920.9 847.3 L915.2 831.5 L908.8 816.3 L901.7 801.8 L893.9 788.1 L885.3 775.2"/><path d="M885.3 1280.2 L897.9 1268.2 L909.5 1255.1 L920 1241 L929.5 1226.1 L938 1210.4 L945.7 1194 L952.5 1177 L958.5 1159.5 L963.6 1141.5 L968 1123.1 L971.5 1104.4 L974.2 1085.5 L976.2 1066.3 L977.3 1047 L977.7 1027.7 L977.3 1008.4 L976.2 989.1 L974.2 969.9 L971.5 951 L968 932.3 L963.6 913.9 L958.5 895.9 L952.5 878.4 L945.7 861.4 L938 845 L929.5 829.3 L920 814.4 L909.5 800.3 L897.9 787.2 L885.3 775.2"/><path d="M885.3 1280.2 L901.6 1269.3 L916.6 1257.1 L930.4 1243.6 L942.9 1229.1 L954.3 1213.6 L964.5 1197.3 L973.6 1180.3 L981.6 1162.6 L988.5 1144.3 L994.3 1125.6 L999 1106.5 L1002.7 1087 L1005.3 1067.4 L1006.9 1047.6 L1007.4 1027.7 L1006.9 1007.8 L1005.3 988 L1002.7 968.4 L999 948.9 L994.3 929.8 L988.5 911.1 L981.6 892.8 L973.6 875.1 L964.5 858.1 L954.3 841.8 L942.9 826.3 L930.4 811.8 L916.6 798.3 L901.6 786.1 L885.3 775.2"/><path d="M885.3 1280.2 L904.9 1270.8 L923.1 1259.7 L939.9 1247 L955.3 1233.1 L969.4 1217.9 L982.2 1201.7 L993.5 1184.6 L1003.5 1166.7 L1012.2 1148.1 L1019.6 1128.9 L1025.6 1109.2 L1030.2 1089.2 L1033.5 1068.8 L1035.5 1048.3 L1036.2 1027.7 L1035.5 1007.1 L1033.5 986.6 L1030.2 966.2 L1025.6 946.2 L1019.6 926.5 L1012.2 907.3 L1003.5 888.7 L993.5 870.8 L982.2 853.7 L969.4 837.5 L955.3 822.3 L939.9 808.4 L923.1 795.7 L904.9 784.6 L885.3 775.2"/><path d="M885.3 1280.2 L907.6 1272.5 L928.6 1262.8 L948.2 1251.2 L966.4 1238 L983.1 1223.3 L998.3 1207.3 L1012 1190.1 L1024.1 1172 L1034.6 1152.9 L1043.5 1133.2 L1050.8 1112.8 L1056.5 1091.9 L1060.6 1070.7 L1063 1049.3 L1063.8 1027.7 L1063 1006.1 L1060.6 984.7 L1056.5 963.5 L1050.8 942.6 L1043.5 922.2 L1034.6 902.5 L1024.1 883.4 L1012 865.3 L998.3 848.1 L983.1 832.1 L966.4 817.4 L948.2 804.2 L928.6 792.6 L907.6 782.9 L885.3 775.2"/><path d="M885.3 1280.2 L909.7 1274.4 L933 1266.3 L955 1256.1 L975.7 1243.8 L994.9 1229.8 L1012.6 1214.1 L1028.5 1197 L1042.7 1178.6 L1055.2 1159.1 L1065.8 1138.6 L1074.5 1117.3 L1081.3 1095.5 L1086.2 1073.1 L1089.1 1050.5 L1090.1 1027.7 L1089.1 1004.9 L1086.2 982.3 L1081.3 959.9 L1074.5 938.1 L1065.8 916.8 L1055.2 896.3 L1042.7 876.8 L1028.5 858.4 L1012.6 841.3 L994.9 825.6 L975.7 811.6 L955 799.3 L933 789.1 L909.7 781 L885.3 775.2"/><path d="M885.3 1280.2 L911.1 1276.6 L936.1 1270.3 L960.2 1261.6 L983 1250.6 L1004.6 1237.5 L1024.5 1222.3 L1042.8 1205.3 L1059.2 1186.7 L1073.7 1166.7 L1086.1 1145.4 L1096.3 1123.1 L1104.4 1100 L1110.2 1076.2 L1113.7 1052.1 L1114.8 1027.7 L1113.7 1003.3 L1110.2 979.2 L1104.4 955.4 L1096.3 932.3 L1086.1 910 L1073.7 888.7 L1059.2 868.7 L1042.8 850.1 L1024.5 833.1 L1004.6 817.9 L983 804.8 L960.2 793.8 L936.1 785.1 L911.1 778.8 L885.3 775.2"/><path d="M841.5 1276.4 L842.1 1274.1 L843.2 1272 L844.7 1269.9 L846.6 1268 L848.9 1266.2 L851.5 1264.6 L854.5 1263.1 L857.7 1261.7 L861.2 1260.5 L864.9 1259.5 L868.7 1258.7 L872.7 1258.1 L876.9 1257.6 L881.1 1257.3 L885.3 1257.2 L889.5 1257.3 L893.7 1257.6 L897.9 1258.1 L901.9 1258.7 L905.7 1259.5 L909.4 1260.5 L912.9 1261.7 L916.1 1263.1 L919.1 1264.6 L921.7 1266.2 L924 1268 L925.9 1269.9 L927.4 1272 L928.5 1274.1 L929.1 1276.4"/><path d="M798.9 1265 L800.9 1260.8 L803.7 1257 L807.2 1253.3 L811.4 1250 L816.2 1247 L821.5 1244.2 L827.4 1241.7 L833.7 1239.6 L840.4 1237.7 L847.4 1236.1 L854.6 1234.8 L862.1 1233.8 L869.8 1233.1 L877.5 1232.7 L885.3 1232.5 L893.1 1232.7 L900.8 1233.1 L908.5 1233.8 L916 1234.8 L923.2 1236.1 L930.2 1237.7 L936.9 1239.6 L943.2 1241.7 L949.1 1244.2 L954.4 1247 L959.2 1250 L963.4 1253.3 L966.9 1257 L969.7 1260.8 L971.7 1265"/><path d="M759 1246.4 L762.9 1240.9 L767.8 1235.8 L773.6 1231.2 L780.2 1227 L787.5 1223.3 L795.5 1219.9 L804.1 1217 L813.2 1214.4 L822.7 1212.2 L832.6 1210.4 L842.8 1208.9 L853.2 1207.7 L863.8 1206.9 L874.5 1206.4 L885.3 1206.2 L896.1 1206.4 L906.8 1206.9 L917.4 1207.7 L927.8 1208.9 L938 1210.4 L947.9 1212.2 L957.4 1214.4 L966.5 1217 L975.1 1219.9 L983.1 1223.3 L990.4 1227 L997 1231.2 L1002.8 1235.8 L1007.7 1240.9 L1011.5 1246.4"/><path d="M723 1221.1 L729 1214.9 L736.2 1209.4 L744.3 1204.4 L753.3 1199.9 L763 1196 L773.4 1192.5 L784.4 1189.4 L796 1186.8 L807.9 1184.6 L820.3 1182.7 L832.9 1181.2 L845.8 1180.1 L858.9 1179.3 L872 1178.8 L885.3 1178.6 L898.6 1178.8 L911.7 1179.3 L924.8 1180.1 L937.7 1181.2 L950.3 1182.7 L962.7 1184.6 L974.6 1186.8 L986.2 1189.4 L997.2 1192.5 L1007.6 1196 L1017.3 1199.9 L1026.3 1204.4 L1034.4 1209.4 L1041.6 1214.9 L1047.6 1221.1"/><path d="M691.9 1190 L700.2 1183.9 L709.6 1178.4 L719.9 1173.6 L731 1169.4 L742.9 1165.7 L755.4 1162.5 L768.4 1159.7 L782 1157.3 L796 1155.2 L810.3 1153.5 L825 1152.2 L839.8 1151.1 L854.9 1150.4 L870.1 1150 L885.3 1149.8 L900.5 1150 L915.7 1150.4 L930.8 1151.1 L945.6 1152.2 L960.3 1153.5 L974.6 1155.2 L988.6 1157.3 L1002.2 1159.7 L1015.2 1162.5 L1027.7 1165.7 L1039.6 1169.4 L1050.7 1173.6 L1061 1178.4 L1070.4 1183.9 L1078.7 1190"/><path d="M666.6 1154 L677 1148.6 L688.4 1143.9 L700.6 1139.8 L713.5 1136.3 L727.1 1133.2 L741.3 1130.5 L756 1128.2 L771.2 1126.2 L786.7 1124.5 L802.6 1123.1 L818.8 1122 L835.3 1121.2 L851.8 1120.6 L868.5 1120.2 L885.3 1120.1 L902.1 1120.2 L918.8 1120.6 L935.3 1121.2 L951.8 1122 L968 1123.1 L983.9 1124.5 L999.4 1126.2 L1014.6 1128.2 L1029.3 1130.5 L1043.5 1133.2 L1057.1 1136.3 L1070 1139.8 L1082.2 1143.9 L1093.6 1148.6 L1104 1154"/><path d="M648 1114.1 L660.1 1110.1 L673 1106.7 L686.6 1103.7 L700.9 1101.2 L715.8 1098.9 L731.2 1097 L747.1 1095.4 L763.5 1094 L780.2 1092.8 L797.2 1091.8 L814.5 1091 L832 1090.5 L849.7 1090 L867.5 1089.8 L885.3 1089.7 L903.1 1089.8 L920.9 1090 L938.6 1090.5 L956.1 1091 L973.4 1091.8 L990.4 1092.8 L1007.1 1094 L1023.5 1095.4 L1039.4 1097 L1054.8 1098.9 L1069.7 1101.2 L1084 1103.7 L1097.6 1106.7 L1110.5 1110.1 L1122.6 1114.1"/><path d="M636.6 1071.5 L649.8 1069.4 L663.7 1067.6 L678.2 1066.1 L693.3 1064.7 L709 1063.6 L725.2 1062.6 L741.8 1061.7 L758.9 1061 L776.3 1060.4 L794 1059.9 L811.9 1059.5 L830.1 1059.2 L848.4 1059 L866.8 1058.9 L885.3 1058.8 L903.8 1058.9 L922.2 1059 L940.5 1059.2 L958.7 1059.5 L976.6 1059.9 L994.3 1060.4 L1011.7 1061 L1028.8 1061.7 L1045.4 1062.6 L1061.6 1063.6 L1077.3 1064.7 L1092.4 1066.1 L1106.9 1067.6 L1120.8 1069.4 L1134 1071.5"/><path d="M632.8 1027.7 L646.4 1027.7 L660.6 1027.7 L675.4 1027.7 L690.8 1027.7 L706.8 1027.7 L723.2 1027.7 L740.1 1027.7 L757.3 1027.7 L775 1027.7 L792.9 1027.7 L811.1 1027.7 L829.4 1027.7 L848 1027.7 L866.6 1027.7 L885.3 1027.7 L904 1027.7 L922.6 1027.7 L941.2 1027.7 L959.5 1027.7 L977.7 1027.7 L995.6 1027.7 L1013.3 1027.7 L1030.5 1027.7 L1047.4 1027.7 L1063.8 1027.7 L1079.8 1027.7 L1095.2 1027.7 L1110 1027.7 L1124.2 1027.7 L1137.8 1027.7"/><path d="M636.6 983.9 L649.8 986 L663.7 987.8 L678.2 989.3 L693.3 990.7 L709 991.8 L725.2 992.8 L741.8 993.7 L758.9 994.4 L776.3 995 L794 995.5 L811.9 995.9 L830.1 996.2 L848.4 996.4 L866.8 996.5 L885.3 996.6 L903.8 996.5 L922.2 996.4 L940.5 996.2 L958.7 995.9 L976.6 995.5 L994.3 995 L1011.7 994.4 L1028.8 993.7 L1045.4 992.8 L1061.6 991.8 L1077.3 990.7 L1092.4 989.3 L1106.9 987.8 L1120.8 986 L1134 983.9"/><path d="M648 941.3 L660.1 945.3 L673 948.7 L686.6 951.7 L700.9 954.2 L715.8 956.5 L731.2 958.4 L747.1 960 L763.5 961.4 L780.2 962.6 L797.2 963.6 L814.5 964.4 L832 964.9 L849.7 965.4 L867.5 965.6 L885.3 965.7 L903.1 965.6 L920.9 965.4 L938.6 964.9 L956.1 964.4 L973.4 963.6 L990.4 962.6 L1007.1 961.4 L1023.5 960 L1039.4 958.4 L1054.8 956.5 L1069.7 954.2 L1084 951.7 L1097.6 948.7 L1110.5 945.3 L1122.6 941.3"/><path d="M666.6 901.5 L677 906.8 L688.4 911.5 L700.6 915.6 L713.5 919.1 L727.1 922.2 L741.3 924.9 L756 927.2 L771.2 929.2 L786.7 930.9 L802.6 932.3 L818.8 933.4 L835.3 934.2 L851.8 934.8 L868.5 935.2 L885.3 935.3 L902.1 935.2 L918.8 934.8 L935.3 934.2 L951.8 933.4 L968 932.3 L983.9 930.9 L999.4 929.2 L1014.6 927.2 L1029.3 924.9 L1043.5 922.2 L1057.1 919.1 L1070 915.6 L1082.2 911.5 L1093.6 906.8 L1104 901.5"/><path d="M691.9 865.4 L700.2 871.5 L709.6 877 L719.9 881.8 L731 886 L742.9 889.7 L755.4 892.9 L768.4 895.7 L782 898.1 L796 900.2 L810.3 901.9 L825 903.2 L839.8 904.3 L854.9 905 L870.1 905.4 L885.3 905.6 L900.5 905.4 L915.7 905 L930.8 904.3 L945.6 903.2 L960.3 901.9 L974.6 900.2 L988.6 898.1 L1002.2 895.7 L1015.2 892.9 L1027.7 889.7 L1039.6 886 L1050.7 881.8 L1061 877 L1070.4 871.5 L1078.7 865.4"/><path d="M723 834.3 L729 840.5 L736.2 846 L744.3 851 L753.3 855.5 L763 859.4 L773.4 862.9 L784.4 866 L796 868.6 L807.9 870.8 L820.3 872.7 L832.9 874.2 L845.8 875.3 L858.9 876.1 L872 876.6 L885.3 876.8 L898.6 876.6 L911.7 876.1 L924.8 875.3 L937.7 874.2 L950.3 872.7 L962.7 870.8 L974.6 868.6 L986.2 866 L997.2 862.9 L1007.6 859.4 L1017.3 855.5 L1026.3 851 L1034.4 846 L1041.6 840.5 L1047.6 834.3"/><path d="M759 809 L762.9 814.5 L767.8 819.6 L773.6 824.2 L780.2 828.4 L787.5 832.1 L795.5 835.5 L804.1 838.4 L813.2 841 L822.7 843.2 L832.6 845 L842.8 846.5 L853.2 847.7 L863.8 848.5 L874.5 849 L885.3 849.2 L896.1 849 L906.8 848.5 L917.4 847.7 L927.8 846.5 L938 845 L947.9 843.2 L957.4 841 L966.5 838.4 L975.1 835.5 L983.1 832.1 L990.4 828.4 L997 824.2 L1002.8 819.6 L1007.7 814.5 L1011.5 809"/><path d="M798.9 790.4 L800.9 794.6 L803.7 798.4 L807.2 802.1 L811.4 805.4 L816.2 808.4 L821.5 811.2 L827.4 813.7 L833.7 815.8 L840.4 817.7 L847.4 819.3 L854.6 820.6 L862.1 821.6 L869.8 822.3 L877.5 822.7 L885.3 822.9 L893.1 822.7 L900.8 822.3 L908.5 821.6 L916 820.6 L923.2 819.3 L930.2 817.7 L936.9 815.8 L943.2 813.7 L949.1 811.2 L954.4 808.4 L959.2 805.4 L963.4 802.1 L966.9 798.4 L969.7 794.6 L971.7 790.4"/><path d="M841.5 779 L842.1 781.3 L843.2 783.4 L844.7 785.5 L846.6 787.4 L848.9 789.2 L851.5 790.8 L854.5 792.3 L857.7 793.7 L861.2 794.9 L864.9 795.9 L868.7 796.7 L872.7 797.3 L876.9 797.8 L881.1 798.1 L885.3 798.2 L889.5 798.1 L893.7 797.8 L897.9 797.3 L901.9 796.7 L905.7 795.9 L909.4 794.9 L912.9 793.7 L916.1 792.3 L919.1 790.8 L921.7 789.2 L924 787.4 L925.9 785.5 L927.4 783.4 L928.5 781.3 L929.1 779"/><circle cx="885.3" cy="1027.7" r="252.5"/><line x1="624.8" y1="1027.7" x2="1145.8" y2="1027.7"/><line x1="885.3" y1="767.2" x2="885.3" y2="1288.2"/></g>
<g font-family="Liberation Sans, sans-serif"><text x="885.3" y="768.1" font-size="18" text-anchor="middle" fill="#7a7a7a" stroke="#fff" stroke-width="0.7">N</text></g>
</g>
<rect x="1172.6" y="888.5" width="42" height="267.1" fill="#fff" stroke="#555" stroke-width="0.9"/>
<rect x="1176.9" y="1133.9" width="8.5" height="13.5" fill="#ffffff"/>
<rect x="1176.9" y="1120.7" width="8.5" height="13.5" fill="#f4e0d8"/>
<rect x="1176.9" y="1107.5" width="8.5" height="13.5" fill="#e8ccb4"/>
<rect x="1176.9" y="1094.3" width="8.5" height="13.5" fill="#d8c090"/>
<rect x="1176.9" y="1081.2" width="8.5" height="13.5" fill="#c8c070"/>
<rect x="1176.9" y="1068" width="8.5" height="13.5" fill="#a8b850"/>
<rect x="1176.9" y="1054.8" width="8.5" height="13.5" fill="#80b030"/>
<rect x="1176.9" y="1041.6" width="8.5" height="13.5" fill="#50a020"/>
<rect x="1176.9" y="1028.4" width="8.5" height="13.5" fill="#189010"/>
<rect x="1176.9" y="1015.2" width="8.5" height="13.5" fill="#108818"/>
<rect x="1176.9" y="1002" width="8.5" height="13.5" fill="#109828"/>
<rect x="1176.9" y="988.8" width="8.5" height="13.5" fill="#10a050"/>
<rect x="1176.9" y="975.6" width="8.5" height="13.5" fill="#10b080"/>
<rect x="1176.9" y="962.4" width="8.5" height="13.5" fill="#10c0b0"/>
<rect x="1176.9" y="949.3" width="8.5" height="13.5" fill="#18b0d0"/>
<rect x="1176.9" y="936.1" width="8.5" height="13.5" fill="#1890e8"/>
<rect x="1176.9" y="922.9" width="8.5" height="13.5" fill="#1060e8"/>
<rect x="1176.9" y="909.7" width="8.5" height="13.5" fill="#2838e0"/>
<rect x="1176.9" y="896.5" width="8.5" height="13.5" fill="#1818e8"/>
<rect x="1176.9" y="896.5" width="8.5" height="250.6" fill="none" stroke="#444" stroke-width="0.7"/>
<g stroke="#444" stroke-width="0.6" opacity="0.8"><line x1="1176.9" y1="1147.1" x2="1187.2" y2="1147.1"/><line x1="1176.9" y1="1133.9" x2="1187.2" y2="1133.9"/><line x1="1176.9" y1="1120.7" x2="1187.2" y2="1120.7"/><line x1="1176.9" y1="1107.5" x2="1187.2" y2="1107.5"/><line x1="1176.9" y1="1094.3" x2="1187.2" y2="1094.3"/><line x1="1176.9" y1="1081.2" x2="1187.2" y2="1081.2"/><line x1="1176.9" y1="1068" x2="1187.2" y2="1068"/><line x1="1176.9" y1="1054.8" x2="1187.2" y2="1054.8"/><line x1="1176.9" y1="1041.6" x2="1187.2" y2="1041.6"/><line x1="1176.9" y1="1028.4" x2="1187.2" y2="1028.4"/><line x1="1176.9" y1="1015.2" x2="1187.2" y2="1015.2"/><line x1="1176.9" y1="1002" x2="1187.2" y2="1002"/><line x1="1176.9" y1="988.8" x2="1187.2" y2="988.8"/><line x1="1176.9" y1="975.6" x2="1187.2" y2="975.6"/><line x1="1176.9" y1="962.4" x2="1187.2" y2="962.4"/><line x1="1176.9" y1="949.3" x2="1187.2" y2="949.3"/><line x1="1176.9" y1="936.1" x2="1187.2" y2="936.1"/><line x1="1176.9" y1="922.9" x2="1187.2" y2="922.9"/><line x1="1176.9" y1="909.7" x2="1187.2" y2="909.7"/><line x1="1176.9" y1="896.5" x2="1187.2" y2="896.5"/></g>
<g font-family="Liberation Sans, sans-serif"><text x="1188.5" y="1151.1" font-size="11" fill="#111">0.0</text><text x="1188.5" y="1137.9" font-size="11" fill="#111">0.5</text><text x="1188.5" y="1124.7" font-size="11" fill="#111">1.0</text><text x="1188.5" y="1111.5" font-size="11" fill="#111">1.5</text><text x="1188.5" y="1098.3" font-size="11" fill="#111">2.0</text><text x="1188.5" y="1085.1" font-size="11" fill="#111">2.5</text><text x="1188.5" y="1071.9" font-size="11" fill="#111">3.0</text><text x="1188.5" y="1058.7" font-size="11" fill="#111">3.5</text><text x="1188.5" y="1045.5" font-size="11" fill="#111">4.0</text><text x="1188.5" y="1032.4" font-size="11" fill="#111">4.5</text><text x="1188.5" y="1019.2" font-size="11" fill="#111">5.0</text><text x="1188.5" y="1006" font-size="11" fill="#111">5.5</text><text x="1188.5" y="992.8" font-size="11" fill="#111">6.0</text><text x="1188.5" y="979.6" font-size="11" fill="#111">6.5</text><text x="1188.5" y="966.4" font-size="11" fill="#111">7.0</text><text x="1188.5" y="953.2" font-size="11" fill="#111">7.5</text><text x="1188.5" y="940" font-size="11" fill="#111">8.0</text><text x="1188.5" y="926.8" font-size="11" fill="#111">8.5</text><text x="1188.5" y="913.6" font-size="11" fill="#111">9.0</text><text x="1188.5" y="900.5" font-size="11" fill="#111">9.5</text></g>
<g font-family="Liberation Sans, sans-serif"><text x="74" y="753" font-size="63.6" fill="#1a1512">Strike polar plot</text><text x="742.5" y="762" font-size="64" fill="#1a1512">Polar rake</text><text x="1212" y="748.2" font-size="64.6" fill="#1a1512">Dip sense rose diagram</text></g>
<g id="dihedral">
<clipPath id="clip_dih"><circle cx="269.8" cy="1624.5" r="239.7"/></clipPath>
<g clip-path="url(#clip_dih)" shape-rendering="crispEdges"><rect x="30.1" y="1384.8" width="479.4" height="479.4" fill="#ffff90"/><path d="M194.2 1384.6h12.1v12.1h-12.1zM158.9 1396.3h12.1v12.1h-12.1zM194.2 1396.3h12.1v12.1h-12.1zM217.7 1396.3h70.8v12.1h-70.8zM158.9 1408.1h12.1v12.1h-12.1zM182.4 1408.1h23.8v12.1h-23.8zM229.4 1408.1h12.1v12.1h-12.1zM264.6 1408.1h35.5v12.1h-35.5zM135.4 1419.8h47.3v12.1h-47.3zM299.9 1419.8h23.8v12.1h-23.8zM123.7 1431.6h12.1v12.1h-12.1zM147.2 1431.6h12.1v12.1h-12.1zM311.6 1431.6h35.5v12.1h-35.5zM100.2 1443.3h12.1v12.1h-12.1zM346.9 1443.3h12.1v12.1h-12.1zM88.4 1455.1h12.1v12.1h-12.1zM370.4 1455.1h47.3v12.1h-47.3zM429.1 1455.1h23.8v12.1h-23.8zM88.4 1466.8h12.1v12.1h-12.1zM64.9 1478.6h12.1v12.1h-12.1zM53.2 1490.3h12.1v12.1h-12.1zM53.2 1502.1h12.1v12.1h-12.1zM41.4 1513.8h12.1v12.1h-12.1zM41.4 1525.6h12.1v12.1h-12.1zM29.7 1690.1h23.8v12.1h-23.8zM41.4 1701.8h12.1v12.1h-12.1zM41.4 1713.6h35.5v12.1h-35.5zM41.4 1725.3h35.5v12.1h-35.5zM64.9 1737.1h23.8v12.1h-23.8zM64.9 1748.8h35.5v12.1h-35.5zM88.4 1760.6h12.1v12.1h-12.1zM100.2 1772.3h23.8v12.1h-23.8zM123.7 1784.1h35.5v12.1h-35.5zM170.7 1795.8h12.1v12.1h-12.1zM194.2 1795.8h12.1v12.1h-12.1zM194.2 1807.6h35.5v12.1h-35.5zM217.7 1819.3h12.1v12.1h-12.1zM241.2 1831.1h23.8v12.1h-23.8zM382.1 1831.1h12.1v12.1h-12.1zM241.2 1842.8h35.5v12.1h-35.5zM323.4 1842.8h47.3v12.1h-47.3zM264.6 1854.6h12.1v12.1h-12.1zM299.9 1854.6h12.1v12.1h-12.1zM323.4 1854.6h23.8v12.1h-23.8z" fill="#ffff9f"/><path d="M205.9 1384.6h106v12.1h-106zM170.7 1396.3h23.8v12.1h-23.8zM205.9 1396.3h12.1v12.1h-12.1zM288.1 1396.3h35.5v12.1h-35.5zM135.4 1408.1h23.8v12.1h-23.8zM170.7 1408.1h12.1v12.1h-12.1zM299.9 1408.1h23.8v12.1h-23.8zM123.7 1419.8h12.1v12.1h-12.1zM323.4 1419.8h23.8v12.1h-23.8zM111.9 1431.6h12.1v12.1h-12.1zM346.9 1431.6h12.1v12.1h-12.1zM358.6 1443.3h82.5v12.1h-82.5zM53.2 1737.1h12.1v12.1h-12.1zM53.2 1748.8h12.1v12.1h-12.1zM64.9 1760.6h23.8v12.1h-23.8zM88.4 1772.3h12.1v12.1h-12.1zM100.2 1784.1h23.8v12.1h-23.8zM123.7 1795.8h47.3v12.1h-47.3zM182.4 1807.6h12.1v12.1h-12.1zM205.9 1819.3h12.1v12.1h-12.1zM205.9 1831.1h35.5v12.1h-35.5zM217.7 1842.8h23.8v12.1h-23.8zM217.7 1854.6h47.3v12.1h-47.3zM276.4 1854.6h23.8v12.1h-23.8zM311.6 1854.6h12.1v12.1h-12.1z" fill="#ffffae"/><path d="M311.6 1384.6h35.5v12.1h-35.5zM323.4 1396.3h12.1v12.1h-12.1zM323.4 1408.1h35.5v12.1h-35.5zM346.9 1419.8h23.8v12.1h-23.8zM405.6 1419.8h12.1v12.1h-12.1zM358.6 1431.6h70.8v12.1h-70.8zM76.7 1772.3h12.1v12.1h-12.1zM88.4 1784.1h12.1v12.1h-12.1zM100.2 1795.8h23.8v12.1h-23.8zM111.9 1807.6h12.1v12.1h-12.1zM158.9 1807.6h23.8v12.1h-23.8zM182.4 1819.3h23.8v12.1h-23.8zM194.2 1831.1h12.1v12.1h-12.1zM194.2 1842.8h23.8v12.1h-23.8zM205.9 1854.6h12.1v12.1h-12.1z" fill="#ffffbe"/><path d="M335.1 1396.3h47.3v12.1h-47.3zM358.6 1408.1h47.3v12.1h-47.3zM370.4 1419.8h35.5v12.1h-35.5zM123.7 1807.6h35.5v12.1h-35.5zM123.7 1819.3h59v12.1h-59zM158.9 1831.1h35.5v12.1h-35.5zM182.4 1842.8h12.1v12.1h-12.1zM194.2 1854.6h12.1v12.1h-12.1z" fill="#ffffcd"/><path d="M205.9 1408.1h23.8v12.1h-23.8zM241.2 1408.1h23.8v12.1h-23.8zM182.4 1419.8h35.5v12.1h-35.5zM229.4 1419.8h70.8v12.1h-70.8zM135.4 1431.6h12.1v12.1h-12.1zM158.9 1431.6h12.1v12.1h-12.1zM182.4 1431.6h35.5v12.1h-35.5zM299.9 1431.6h12.1v12.1h-12.1zM111.9 1443.3h47.3v12.1h-47.3zM323.4 1443.3h23.8v12.1h-23.8zM100.2 1455.1h47.3v12.1h-47.3zM346.9 1455.1h23.8v12.1h-23.8zM417.4 1455.1h12.1v12.1h-12.1zM76.7 1466.8h12.1v12.1h-12.1zM100.2 1466.8h12.1v12.1h-12.1zM405.6 1466.8h12.1v12.1h-12.1zM429.1 1466.8h35.5v12.1h-35.5zM76.7 1478.6h23.8v12.1h-23.8zM64.9 1490.3h23.8v12.1h-23.8zM41.4 1537.3h12.1v12.1h-12.1zM29.7 1549.1h23.8v12.1h-23.8zM29.7 1584.3h12.1v12.1h-12.1zM29.7 1654.8h12.1v12.1h-12.1zM29.7 1666.6h23.8v12.1h-23.8zM29.7 1678.3h35.5v12.1h-35.5zM53.2 1690.1h23.8v12.1h-23.8zM53.2 1701.8h35.5v12.1h-35.5zM76.7 1713.6h12.1v12.1h-12.1zM76.7 1725.3h23.8v12.1h-23.8zM88.4 1737.1h12.1v12.1h-12.1zM100.2 1748.8h12.1v12.1h-12.1zM100.2 1760.6h23.8v12.1h-23.8zM123.7 1772.3h23.8v12.1h-23.8zM158.9 1784.1h23.8v12.1h-23.8zM429.1 1784.1h23.8v12.1h-23.8zM182.4 1795.8h12.1v12.1h-12.1zM205.9 1795.8h12.1v12.1h-12.1zM429.1 1795.8h12.1v12.1h-12.1zM229.4 1807.6h12.1v12.1h-12.1zM370.4 1807.6h59v12.1h-59zM229.4 1819.3h47.3v12.1h-47.3zM358.6 1819.3h59v12.1h-59zM264.6 1831.1h47.3v12.1h-47.3zM335.1 1831.1h47.3v12.1h-47.3zM276.4 1842.8h47.3v12.1h-47.3z" fill="#ffff90"/><path d="M217.7 1419.8h12.1v12.1h-12.1zM170.7 1431.6h12.1v12.1h-12.1zM217.7 1431.6h82.5v12.1h-82.5zM158.9 1443.3h35.5v12.1h-35.5zM288.1 1443.3h35.5v12.1h-35.5zM147.2 1455.1h23.8v12.1h-23.8zM323.4 1455.1h23.8v12.1h-23.8zM111.9 1466.8h35.5v12.1h-35.5zM358.6 1466.8h47.3v12.1h-47.3zM417.4 1466.8h12.1v12.1h-12.1zM100.2 1478.6h23.8v12.1h-23.8zM429.1 1478.6h47.3v12.1h-47.3zM88.4 1490.3h23.8v12.1h-23.8zM452.6 1490.3h23.8v12.1h-23.8zM64.9 1502.1h35.5v12.1h-35.5zM452.6 1502.1h35.5v12.1h-35.5zM53.2 1513.8h35.5v12.1h-35.5zM476.1 1513.8h23.8v12.1h-23.8zM53.2 1525.6h35.5v12.1h-35.5zM476.1 1525.6h23.8v12.1h-23.8zM53.2 1537.3h23.8v12.1h-23.8zM487.9 1537.3h12.1v12.1h-12.1zM53.2 1549.1h12.1v12.1h-12.1zM499.6 1549.1h12.1v12.1h-12.1zM29.7 1560.8h35.5v12.1h-35.5zM499.6 1560.8h12.1v12.1h-12.1zM29.7 1572.6h23.8v12.1h-23.8zM41.4 1584.3h12.1v12.1h-12.1zM29.7 1596.1h23.8v12.1h-23.8zM29.7 1607.8h23.8v12.1h-23.8zM29.7 1619.6h23.8v12.1h-23.8zM29.7 1631.3h23.8v12.1h-23.8zM29.7 1643.1h35.5v12.1h-35.5zM41.4 1654.8h23.8v12.1h-23.8zM53.2 1666.6h23.8v12.1h-23.8zM64.9 1678.3h12.1v12.1h-12.1zM88.4 1713.6h23.8v12.1h-23.8zM487.9 1713.6h12.1v12.1h-12.1zM476.1 1725.3h12.1v12.1h-12.1zM100.2 1737.1h12.1v12.1h-12.1zM476.1 1737.1h12.1v12.1h-12.1zM111.9 1748.8h12.1v12.1h-12.1zM464.4 1748.8h12.1v12.1h-12.1zM123.7 1760.6h12.1v12.1h-12.1zM452.6 1760.6h23.8v12.1h-23.8zM147.2 1772.3h23.8v12.1h-23.8zM440.9 1772.3h23.8v12.1h-23.8zM182.4 1784.1h23.8v12.1h-23.8zM417.4 1784.1h12.1v12.1h-12.1zM217.7 1795.8h12.1v12.1h-12.1zM382.1 1795.8h47.3v12.1h-47.3zM241.2 1807.6h47.3v12.1h-47.3zM299.9 1807.6h12.1v12.1h-12.1zM346.9 1807.6h12.1v12.1h-12.1zM276.4 1819.3h82.5v12.1h-82.5zM311.6 1831.1h23.8v12.1h-23.8z" fill="#ffff7e"/><path d="M194.2 1443.3h94.3v12.1h-94.3zM170.7 1455.1h35.5v12.1h-35.5zM299.9 1455.1h23.8v12.1h-23.8zM147.2 1466.8h47.3v12.1h-47.3zM335.1 1466.8h23.8v12.1h-23.8zM123.7 1478.6h35.5v12.1h-35.5zM370.4 1478.6h59v12.1h-59zM111.9 1490.3h12.1v12.1h-12.1zM417.4 1490.3h35.5v12.1h-35.5zM100.2 1502.1h12.1v12.1h-12.1zM123.7 1502.1h12.1v12.1h-12.1zM440.9 1502.1h12.1v12.1h-12.1zM88.4 1513.8h23.8v12.1h-23.8zM464.4 1513.8h12.1v12.1h-12.1zM88.4 1525.6h12.1v12.1h-12.1zM464.4 1525.6h12.1v12.1h-12.1zM76.7 1537.3h12.1v12.1h-12.1zM464.4 1537.3h23.8v12.1h-23.8zM64.9 1549.1h23.8v12.1h-23.8zM487.9 1549.1h12.1v12.1h-12.1zM64.9 1560.8h12.1v12.1h-12.1zM53.2 1572.6h23.8v12.1h-23.8zM499.6 1572.6h12.1v12.1h-12.1zM53.2 1584.3h23.8v12.1h-23.8zM53.2 1596.1h12.1v12.1h-12.1zM53.2 1607.8h12.1v12.1h-12.1zM53.2 1631.3h12.1v12.1h-12.1zM499.6 1631.3h12.1v12.1h-12.1zM64.9 1643.1h12.1v12.1h-12.1zM499.6 1643.1h12.1v12.1h-12.1zM64.9 1654.8h23.8v12.1h-23.8zM499.6 1654.8h12.1v12.1h-12.1zM487.9 1666.6h23.8v12.1h-23.8zM76.7 1678.3h12.1v12.1h-12.1zM499.6 1678.3h12.1v12.1h-12.1zM76.7 1690.1h23.8v12.1h-23.8zM499.6 1690.1h12.1v12.1h-12.1zM88.4 1701.8h12.1v12.1h-12.1zM476.1 1701.8h23.8v12.1h-23.8zM476.1 1713.6h12.1v12.1h-12.1zM100.2 1725.3h23.8v12.1h-23.8zM464.4 1725.3h12.1v12.1h-12.1zM111.9 1737.1h12.1v12.1h-12.1zM452.6 1737.1h23.8v12.1h-23.8zM123.7 1748.8h12.1v12.1h-12.1zM440.9 1748.8h23.8v12.1h-23.8zM135.4 1760.6h35.5v12.1h-35.5zM417.4 1760.6h35.5v12.1h-35.5zM170.7 1772.3h35.5v12.1h-35.5zM405.6 1772.3h35.5v12.1h-35.5zM205.9 1784.1h23.8v12.1h-23.8zM370.4 1784.1h47.3v12.1h-47.3zM229.4 1795.8h35.5v12.1h-35.5zM276.4 1795.8h12.1v12.1h-12.1zM335.1 1795.8h47.3v12.1h-47.3zM288.1 1807.6h12.1v12.1h-12.1zM311.6 1807.6h35.5v12.1h-35.5zM358.6 1807.6h12.1v12.1h-12.1z" fill="#ffff6d"/><path d="M205.9 1455.1h94.3v12.1h-94.3zM194.2 1466.8h12.1v12.1h-12.1zM276.4 1466.8h59v12.1h-59zM158.9 1478.6h35.5v12.1h-35.5zM346.9 1478.6h23.8v12.1h-23.8zM123.7 1490.3h35.5v12.1h-35.5zM393.9 1490.3h23.8v12.1h-23.8zM111.9 1502.1h12.1v12.1h-12.1zM135.4 1502.1h12.1v12.1h-12.1zM405.6 1502.1h35.5v12.1h-35.5zM111.9 1513.8h23.8v12.1h-23.8zM429.1 1513.8h35.5v12.1h-35.5zM100.2 1525.6h12.1v12.1h-12.1zM452.6 1525.6h12.1v12.1h-12.1zM88.4 1537.3h35.5v12.1h-35.5zM464.4 1549.1h23.8v12.1h-23.8zM76.7 1560.8h12.1v12.1h-12.1zM476.1 1560.8h23.8v12.1h-23.8zM76.7 1572.6h12.1v12.1h-12.1zM476.1 1572.6h23.8v12.1h-23.8zM76.7 1584.3h12.1v12.1h-12.1zM487.9 1584.3h23.8v12.1h-23.8zM64.9 1596.1h23.8v12.1h-23.8zM487.9 1596.1h23.8v12.1h-23.8zM64.9 1607.8h12.1v12.1h-12.1zM487.9 1607.8h23.8v12.1h-23.8zM53.2 1619.6h23.8v12.1h-23.8zM487.9 1619.6h23.8v12.1h-23.8zM64.9 1631.3h12.1v12.1h-12.1zM76.7 1643.1h12.1v12.1h-12.1zM487.9 1643.1h12.1v12.1h-12.1zM487.9 1654.8h12.1v12.1h-12.1zM76.7 1666.6h12.1v12.1h-12.1zM476.1 1666.6h12.1v12.1h-12.1zM88.4 1678.3h12.1v12.1h-12.1zM476.1 1678.3h23.8v12.1h-23.8zM100.2 1690.1h12.1v12.1h-12.1zM476.1 1690.1h23.8v12.1h-23.8zM100.2 1701.8h12.1v12.1h-12.1zM464.4 1701.8h12.1v12.1h-12.1zM111.9 1713.6h12.1v12.1h-12.1zM464.4 1713.6h12.1v12.1h-12.1zM135.4 1725.3h12.1v12.1h-12.1zM440.9 1725.3h23.8v12.1h-23.8zM123.7 1737.1h23.8v12.1h-23.8zM429.1 1737.1h23.8v12.1h-23.8zM135.4 1748.8h23.8v12.1h-23.8zM417.4 1748.8h23.8v12.1h-23.8zM170.7 1760.6h23.8v12.1h-23.8zM405.6 1760.6h12.1v12.1h-12.1zM205.9 1772.3h35.5v12.1h-35.5zM382.1 1772.3h23.8v12.1h-23.8zM229.4 1784.1h47.3v12.1h-47.3zM288.1 1784.1h12.1v12.1h-12.1zM311.6 1784.1h12.1v12.1h-12.1zM335.1 1784.1h35.5v12.1h-35.5zM264.6 1795.8h12.1v12.1h-12.1zM288.1 1795.8h47.3v12.1h-47.3z" fill="#ffff5b"/><path d="M205.9 1466.8h70.8v12.1h-70.8zM194.2 1478.6h23.8v12.1h-23.8zM299.9 1478.6h47.3v12.1h-47.3zM158.9 1490.3h23.8v12.1h-23.8zM370.4 1490.3h23.8v12.1h-23.8zM147.2 1502.1h23.8v12.1h-23.8zM393.9 1502.1h12.1v12.1h-12.1zM135.4 1513.8h23.8v12.1h-23.8zM405.6 1513.8h23.8v12.1h-23.8zM111.9 1525.6h23.8v12.1h-23.8zM429.1 1525.6h23.8v12.1h-23.8zM452.6 1537.3h12.1v12.1h-12.1zM88.4 1549.1h35.5v12.1h-35.5zM452.6 1549.1h12.1v12.1h-12.1zM88.4 1560.8h23.8v12.1h-23.8zM464.4 1560.8h12.1v12.1h-12.1zM88.4 1572.6h12.1v12.1h-12.1zM464.4 1572.6h12.1v12.1h-12.1zM464.4 1584.3h23.8v12.1h-23.8zM476.1 1596.1h12.1v12.1h-12.1zM76.7 1607.8h12.1v12.1h-12.1zM476.1 1607.8h12.1v12.1h-12.1zM76.7 1619.6h12.1v12.1h-12.1zM476.1 1619.6h12.1v12.1h-12.1zM76.7 1631.3h12.1v12.1h-12.1zM476.1 1631.3h23.8v12.1h-23.8zM88.4 1643.1h12.1v12.1h-12.1zM476.1 1643.1h12.1v12.1h-12.1zM88.4 1654.8h12.1v12.1h-12.1zM476.1 1654.8h12.1v12.1h-12.1zM88.4 1666.6h12.1v12.1h-12.1zM464.4 1666.6h12.1v12.1h-12.1zM100.2 1678.3h12.1v12.1h-12.1zM452.6 1678.3h23.8v12.1h-23.8zM111.9 1690.1h12.1v12.1h-12.1zM452.6 1690.1h23.8v12.1h-23.8zM111.9 1701.8h12.1v12.1h-12.1zM452.6 1701.8h12.1v12.1h-12.1zM123.7 1713.6h23.8v12.1h-23.8zM440.9 1713.6h23.8v12.1h-23.8zM123.7 1725.3h12.1v12.1h-12.1zM429.1 1725.3h12.1v12.1h-12.1zM147.2 1737.1h23.8v12.1h-23.8zM417.4 1737.1h12.1v12.1h-12.1zM158.9 1748.8h35.5v12.1h-35.5zM393.9 1748.8h23.8v12.1h-23.8zM194.2 1760.6h23.8v12.1h-23.8zM370.4 1760.6h35.5v12.1h-35.5zM241.2 1772.3h35.5v12.1h-35.5zM335.1 1772.3h47.3v12.1h-47.3zM276.4 1784.1h12.1v12.1h-12.1zM299.9 1784.1h12.1v12.1h-12.1zM323.4 1784.1h12.1v12.1h-12.1z" fill="#fef84f"/><path d="M217.7 1478.6h82.5v12.1h-82.5zM182.4 1490.3h47.3v12.1h-47.3zM241.2 1490.3h12.1v12.1h-12.1zM311.6 1490.3h12.1v12.1h-12.1zM335.1 1490.3h35.5v12.1h-35.5zM170.7 1502.1h35.5v12.1h-35.5zM358.6 1502.1h35.5v12.1h-35.5zM158.9 1513.8h23.8v12.1h-23.8zM393.9 1513.8h12.1v12.1h-12.1zM135.4 1525.6h23.8v12.1h-23.8zM405.6 1525.6h23.8v12.1h-23.8zM123.7 1537.3h23.8v12.1h-23.8zM417.4 1537.3h35.5v12.1h-35.5zM123.7 1549.1h12.1v12.1h-12.1zM429.1 1549.1h23.8v12.1h-23.8zM111.9 1560.8h12.1v12.1h-12.1zM440.9 1560.8h23.8v12.1h-23.8zM100.2 1572.6h12.1v12.1h-12.1zM452.6 1572.6h12.1v12.1h-12.1zM88.4 1584.3h12.1v12.1h-12.1zM452.6 1584.3h12.1v12.1h-12.1zM88.4 1596.1h12.1v12.1h-12.1zM464.4 1596.1h12.1v12.1h-12.1zM88.4 1607.8h12.1v12.1h-12.1zM464.4 1607.8h12.1v12.1h-12.1zM88.4 1619.6h12.1v12.1h-12.1zM464.4 1619.6h12.1v12.1h-12.1zM88.4 1631.3h12.1v12.1h-12.1zM464.4 1631.3h12.1v12.1h-12.1zM464.4 1643.1h12.1v12.1h-12.1zM100.2 1654.8h12.1v12.1h-12.1zM464.4 1654.8h12.1v12.1h-12.1zM100.2 1666.6h23.8v12.1h-23.8zM111.9 1678.3h12.1v12.1h-12.1zM123.7 1690.1h12.1v12.1h-12.1zM440.9 1690.1h12.1v12.1h-12.1zM123.7 1701.8h23.8v12.1h-23.8zM440.9 1701.8h12.1v12.1h-12.1zM429.1 1713.6h12.1v12.1h-12.1zM147.2 1725.3h12.1v12.1h-12.1zM405.6 1725.3h23.8v12.1h-23.8zM170.7 1737.1h12.1v12.1h-12.1zM393.9 1737.1h23.8v12.1h-23.8zM194.2 1748.8h23.8v12.1h-23.8zM370.4 1748.8h23.8v12.1h-23.8zM217.7 1760.6h35.5v12.1h-35.5zM299.9 1760.6h12.1v12.1h-12.1zM323.4 1760.6h47.3v12.1h-47.3zM276.4 1772.3h59v12.1h-59z" fill="#fae44a"/><path d="M229.4 1490.3h12.1v12.1h-12.1zM252.9 1490.3h59v12.1h-59zM323.4 1490.3h12.1v12.1h-12.1zM205.9 1502.1h12.1v12.1h-12.1zM229.4 1502.1h12.1v12.1h-12.1zM311.6 1502.1h47.3v12.1h-47.3zM358.6 1513.8h35.5v12.1h-35.5zM158.9 1525.6h23.8v12.1h-23.8zM393.9 1525.6h12.1v12.1h-12.1zM147.2 1537.3h12.1v12.1h-12.1zM405.6 1537.3h12.1v12.1h-12.1zM135.4 1549.1h12.1v12.1h-12.1zM417.4 1549.1h12.1v12.1h-12.1zM123.7 1560.8h12.1v12.1h-12.1zM417.4 1560.8h12.1v12.1h-12.1zM111.9 1572.6h12.1v12.1h-12.1zM440.9 1572.6h12.1v12.1h-12.1zM100.2 1584.3h23.8v12.1h-23.8zM440.9 1584.3h12.1v12.1h-12.1zM100.2 1596.1h12.1v12.1h-12.1zM452.6 1596.1h12.1v12.1h-12.1zM100.2 1607.8h12.1v12.1h-12.1zM452.6 1607.8h12.1v12.1h-12.1zM100.2 1619.6h12.1v12.1h-12.1zM452.6 1619.6h12.1v12.1h-12.1zM100.2 1631.3h23.8v12.1h-23.8zM452.6 1631.3h12.1v12.1h-12.1zM100.2 1643.1h23.8v12.1h-23.8zM452.6 1643.1h12.1v12.1h-12.1zM111.9 1654.8h12.1v12.1h-12.1zM452.6 1654.8h12.1v12.1h-12.1zM123.7 1666.6h12.1v12.1h-12.1zM440.9 1666.6h23.8v12.1h-23.8zM123.7 1678.3h23.8v12.1h-23.8zM440.9 1678.3h12.1v12.1h-12.1zM135.4 1690.1h12.1v12.1h-12.1zM429.1 1690.1h12.1v12.1h-12.1zM147.2 1701.8h12.1v12.1h-12.1zM417.4 1701.8h23.8v12.1h-23.8zM147.2 1713.6h23.8v12.1h-23.8zM405.6 1713.6h23.8v12.1h-23.8zM158.9 1725.3h35.5v12.1h-35.5zM393.9 1725.3h12.1v12.1h-12.1zM182.4 1737.1h23.8v12.1h-23.8zM370.4 1737.1h23.8v12.1h-23.8zM217.7 1748.8h23.8v12.1h-23.8zM276.4 1748.8h12.1v12.1h-12.1zM299.9 1748.8h70.8v12.1h-70.8zM252.9 1760.6h47.3v12.1h-47.3zM311.6 1760.6h12.1v12.1h-12.1z" fill="#f3ca43"/><path d="M217.7 1502.1h12.1v12.1h-12.1zM241.2 1502.1h70.8v12.1h-70.8zM182.4 1513.8h82.5v12.1h-82.5zM311.6 1513.8h12.1v12.1h-12.1zM346.9 1513.8h12.1v12.1h-12.1zM182.4 1525.6h23.8v12.1h-23.8zM370.4 1525.6h23.8v12.1h-23.8zM158.9 1537.3h23.8v12.1h-23.8zM393.9 1537.3h12.1v12.1h-12.1zM147.2 1549.1h23.8v12.1h-23.8zM405.6 1549.1h12.1v12.1h-12.1zM135.4 1560.8h12.1v12.1h-12.1zM429.1 1560.8h12.1v12.1h-12.1zM123.7 1572.6h12.1v12.1h-12.1zM417.4 1572.6h23.8v12.1h-23.8zM123.7 1584.3h12.1v12.1h-12.1zM429.1 1584.3h12.1v12.1h-12.1zM111.9 1596.1h12.1v12.1h-12.1zM440.9 1596.1h12.1v12.1h-12.1zM111.9 1607.8h12.1v12.1h-12.1zM440.9 1607.8h12.1v12.1h-12.1zM111.9 1619.6h12.1v12.1h-12.1zM440.9 1619.6h12.1v12.1h-12.1zM440.9 1631.3h12.1v12.1h-12.1zM123.7 1643.1h12.1v12.1h-12.1zM440.9 1643.1h12.1v12.1h-12.1zM123.7 1654.8h23.8v12.1h-23.8zM429.1 1654.8h23.8v12.1h-23.8zM135.4 1666.6h12.1v12.1h-12.1zM429.1 1666.6h12.1v12.1h-12.1zM429.1 1678.3h12.1v12.1h-12.1zM147.2 1690.1h23.8v12.1h-23.8zM417.4 1690.1h12.1v12.1h-12.1zM158.9 1701.8h12.1v12.1h-12.1zM405.6 1701.8h12.1v12.1h-12.1zM170.7 1713.6h23.8v12.1h-23.8zM393.9 1713.6h12.1v12.1h-12.1zM194.2 1725.3h23.8v12.1h-23.8zM346.9 1725.3h47.3v12.1h-47.3zM205.9 1737.1h59v12.1h-59zM323.4 1737.1h47.3v12.1h-47.3zM241.2 1748.8h35.5v12.1h-35.5zM288.1 1748.8h12.1v12.1h-12.1z" fill="#e8a838"/><path d="M264.6 1513.8h47.3v12.1h-47.3zM323.4 1513.8h23.8v12.1h-23.8zM205.9 1525.6h35.5v12.1h-35.5zM252.9 1525.6h35.5v12.1h-35.5zM346.9 1525.6h23.8v12.1h-23.8zM182.4 1537.3h23.8v12.1h-23.8zM370.4 1537.3h23.8v12.1h-23.8zM170.7 1549.1h12.1v12.1h-12.1zM393.9 1549.1h12.1v12.1h-12.1zM147.2 1560.8h23.8v12.1h-23.8zM405.6 1560.8h12.1v12.1h-12.1zM135.4 1572.6h23.8v12.1h-23.8zM135.4 1584.3h12.1v12.1h-12.1zM417.4 1584.3h12.1v12.1h-12.1zM123.7 1596.1h12.1v12.1h-12.1zM429.1 1596.1h12.1v12.1h-12.1zM123.7 1607.8h12.1v12.1h-12.1zM429.1 1607.8h12.1v12.1h-12.1zM429.1 1619.6h12.1v12.1h-12.1zM123.7 1631.3h12.1v12.1h-12.1zM429.1 1631.3h12.1v12.1h-12.1zM135.4 1643.1h12.1v12.1h-12.1zM429.1 1643.1h12.1v12.1h-12.1zM147.2 1666.6h12.1v12.1h-12.1zM147.2 1678.3h12.1v12.1h-12.1zM417.4 1678.3h12.1v12.1h-12.1zM405.6 1690.1h12.1v12.1h-12.1zM170.7 1701.8h23.8v12.1h-23.8zM393.9 1701.8h12.1v12.1h-12.1zM194.2 1713.6h23.8v12.1h-23.8zM382.1 1713.6h12.1v12.1h-12.1zM217.7 1725.3h35.5v12.1h-35.5zM323.4 1725.3h12.1v12.1h-12.1zM264.6 1737.1h59v12.1h-59z" fill="#e39631"/><path d="M241.2 1525.6h12.1v12.1h-12.1zM288.1 1525.6h59v12.1h-59zM205.9 1537.3h23.8v12.1h-23.8zM241.2 1537.3h59v12.1h-59zM335.1 1537.3h35.5v12.1h-35.5zM182.4 1549.1h12.1v12.1h-12.1zM264.6 1549.1h23.8v12.1h-23.8zM370.4 1549.1h23.8v12.1h-23.8zM170.7 1560.8h12.1v12.1h-12.1zM393.9 1560.8h12.1v12.1h-12.1zM158.9 1572.6h12.1v12.1h-12.1zM405.6 1572.6h12.1v12.1h-12.1zM147.2 1584.3h12.1v12.1h-12.1zM405.6 1584.3h12.1v12.1h-12.1zM135.4 1596.1h12.1v12.1h-12.1zM417.4 1596.1h12.1v12.1h-12.1zM135.4 1607.8h12.1v12.1h-12.1zM123.7 1619.6h23.8v12.1h-23.8zM135.4 1631.3h23.8v12.1h-23.8zM417.4 1643.1h12.1v12.1h-12.1zM147.2 1654.8h12.1v12.1h-12.1zM417.4 1654.8h12.1v12.1h-12.1zM158.9 1666.6h12.1v12.1h-12.1zM417.4 1666.6h12.1v12.1h-12.1zM158.9 1678.3h23.8v12.1h-23.8zM405.6 1678.3h12.1v12.1h-12.1zM170.7 1690.1h23.8v12.1h-23.8zM393.9 1690.1h12.1v12.1h-12.1zM194.2 1701.8h12.1v12.1h-12.1zM382.1 1701.8h12.1v12.1h-12.1zM217.7 1713.6h23.8v12.1h-23.8zM346.9 1713.6h35.5v12.1h-35.5zM252.9 1725.3h70.8v12.1h-70.8zM335.1 1725.3h12.1v12.1h-12.1z" fill="#dd842a"/><path d="M229.4 1537.3h12.1v12.1h-12.1zM299.9 1537.3h35.5v12.1h-35.5zM194.2 1549.1h35.5v12.1h-35.5zM252.9 1549.1h12.1v12.1h-12.1zM288.1 1549.1h12.1v12.1h-12.1zM358.6 1549.1h12.1v12.1h-12.1zM182.4 1560.8h23.8v12.1h-23.8zM382.1 1560.8h12.1v12.1h-12.1zM170.7 1572.6h12.1v12.1h-12.1zM393.9 1572.6h12.1v12.1h-12.1zM147.2 1596.1h12.1v12.1h-12.1zM405.6 1596.1h12.1v12.1h-12.1zM147.2 1607.8h12.1v12.1h-12.1zM417.4 1607.8h12.1v12.1h-12.1zM147.2 1619.6h12.1v12.1h-12.1zM417.4 1619.6h12.1v12.1h-12.1zM417.4 1631.3h12.1v12.1h-12.1zM147.2 1643.1h23.8v12.1h-23.8zM158.9 1654.8h12.1v12.1h-12.1zM405.6 1654.8h12.1v12.1h-12.1zM170.7 1666.6h12.1v12.1h-12.1zM405.6 1666.6h12.1v12.1h-12.1zM182.4 1678.3h12.1v12.1h-12.1zM393.9 1678.3h12.1v12.1h-12.1zM194.2 1690.1h12.1v12.1h-12.1zM382.1 1690.1h12.1v12.1h-12.1zM205.9 1701.8h23.8v12.1h-23.8zM346.9 1701.8h12.1v12.1h-12.1zM370.4 1701.8h12.1v12.1h-12.1zM241.2 1713.6h12.1v12.1h-12.1zM264.6 1713.6h12.1v12.1h-12.1zM311.6 1713.6h35.5v12.1h-35.5z" fill="#d56a23"/><path d="M229.4 1549.1h23.8v12.1h-23.8zM299.9 1549.1h59v12.1h-59zM205.9 1560.8h12.1v12.1h-12.1zM252.9 1560.8h47.3v12.1h-47.3zM358.6 1560.8h23.8v12.1h-23.8zM182.4 1572.6h12.1v12.1h-12.1zM382.1 1572.6h12.1v12.1h-12.1zM158.9 1584.3h23.8v12.1h-23.8zM393.9 1584.3h12.1v12.1h-12.1zM158.9 1596.1h12.1v12.1h-12.1zM405.6 1607.8h12.1v12.1h-12.1zM158.9 1619.6h12.1v12.1h-12.1zM405.6 1619.6h12.1v12.1h-12.1zM158.9 1631.3h12.1v12.1h-12.1zM405.6 1631.3h12.1v12.1h-12.1zM170.7 1643.1h12.1v12.1h-12.1zM405.6 1643.1h12.1v12.1h-12.1zM170.7 1654.8h12.1v12.1h-12.1zM182.4 1666.6h12.1v12.1h-12.1zM393.9 1666.6h12.1v12.1h-12.1zM194.2 1678.3h12.1v12.1h-12.1zM382.1 1678.3h12.1v12.1h-12.1zM205.9 1690.1h23.8v12.1h-23.8zM370.4 1690.1h12.1v12.1h-12.1zM229.4 1701.8h35.5v12.1h-35.5zM323.4 1701.8h12.1v12.1h-12.1zM358.6 1701.8h12.1v12.1h-12.1zM252.9 1713.6h12.1v12.1h-12.1zM276.4 1713.6h35.5v12.1h-35.5z" fill="#cc4e1b"/><path d="M217.7 1560.8h35.5v12.1h-35.5zM299.9 1560.8h59v12.1h-59zM194.2 1572.6h23.8v12.1h-23.8zM370.4 1572.6h12.1v12.1h-12.1zM182.4 1584.3h12.1v12.1h-12.1zM382.1 1584.3h12.1v12.1h-12.1zM170.7 1596.1h12.1v12.1h-12.1zM393.9 1596.1h12.1v12.1h-12.1zM158.9 1607.8h23.8v12.1h-23.8zM170.7 1619.6h12.1v12.1h-12.1zM393.9 1619.6h12.1v12.1h-12.1zM170.7 1631.3h12.1v12.1h-12.1zM393.9 1631.3h12.1v12.1h-12.1zM182.4 1643.1h12.1v12.1h-12.1zM182.4 1654.8h23.8v12.1h-23.8zM393.9 1654.8h12.1v12.1h-12.1zM194.2 1666.6h23.8v12.1h-23.8zM382.1 1666.6h12.1v12.1h-12.1zM205.9 1678.3h23.8v12.1h-23.8zM229.4 1690.1h12.1v12.1h-12.1zM346.9 1690.1h23.8v12.1h-23.8zM264.6 1701.8h59v12.1h-59zM335.1 1701.8h12.1v12.1h-12.1z" fill="#c23516"/><path d="M217.7 1572.6h82.5v12.1h-82.5zM335.1 1572.6h35.5v12.1h-35.5zM194.2 1584.3h12.1v12.1h-12.1zM370.4 1584.3h12.1v12.1h-12.1zM182.4 1596.1h12.1v12.1h-12.1zM182.4 1607.8h12.1v12.1h-12.1zM393.9 1607.8h12.1v12.1h-12.1zM182.4 1619.6h12.1v12.1h-12.1zM182.4 1631.3h23.8v12.1h-23.8zM194.2 1643.1h12.1v12.1h-12.1zM393.9 1643.1h12.1v12.1h-12.1zM205.9 1654.8h12.1v12.1h-12.1zM229.4 1678.3h12.1v12.1h-12.1zM370.4 1678.3h12.1v12.1h-12.1zM241.2 1690.1h23.8v12.1h-23.8zM276.4 1690.1h12.1v12.1h-12.1zM335.1 1690.1h12.1v12.1h-12.1z" fill="#b81f13"/><path d="M299.9 1572.6h35.5v12.1h-35.5zM205.9 1584.3h23.8v12.1h-23.8zM276.4 1584.3h12.1v12.1h-12.1zM346.9 1584.3h23.8v12.1h-23.8zM194.2 1596.1h23.8v12.1h-23.8zM382.1 1596.1h12.1v12.1h-12.1zM194.2 1607.8h12.1v12.1h-12.1zM382.1 1607.8h12.1v12.1h-12.1zM194.2 1619.6h12.1v12.1h-12.1zM382.1 1619.6h12.1v12.1h-12.1zM382.1 1643.1h12.1v12.1h-12.1zM382.1 1654.8h12.1v12.1h-12.1zM217.7 1666.6h12.1v12.1h-12.1zM370.4 1666.6h12.1v12.1h-12.1zM241.2 1678.3h12.1v12.1h-12.1zM358.6 1678.3h12.1v12.1h-12.1zM264.6 1690.1h12.1v12.1h-12.1zM288.1 1690.1h47.3v12.1h-47.3z" fill="#ab0e0e"/><path d="M229.4 1584.3h47.3v12.1h-47.3zM288.1 1584.3h23.8v12.1h-23.8zM335.1 1584.3h12.1v12.1h-12.1zM370.4 1596.1h12.1v12.1h-12.1zM205.9 1607.8h12.1v12.1h-12.1zM205.9 1619.6h12.1v12.1h-12.1zM205.9 1631.3h12.1v12.1h-12.1zM382.1 1631.3h12.1v12.1h-12.1zM205.9 1643.1h23.8v12.1h-23.8zM217.7 1654.8h12.1v12.1h-12.1zM370.4 1654.8h12.1v12.1h-12.1zM229.4 1666.6h12.1v12.1h-12.1zM252.9 1678.3h12.1v12.1h-12.1zM335.1 1678.3h23.8v12.1h-23.8z" fill="#990707"/><path d="M311.6 1584.3h23.8v12.1h-23.8zM217.7 1596.1h23.8v12.1h-23.8zM264.6 1596.1h12.1v12.1h-12.1zM346.9 1596.1h23.8v12.1h-23.8zM217.7 1607.8h12.1v12.1h-12.1zM358.6 1607.8h23.8v12.1h-23.8zM217.7 1619.6h12.1v12.1h-12.1zM370.4 1619.6h12.1v12.1h-12.1zM217.7 1631.3h12.1v12.1h-12.1zM229.4 1643.1h12.1v12.1h-12.1zM370.4 1643.1h12.1v12.1h-12.1zM229.4 1654.8h12.1v12.1h-12.1zM358.6 1654.8h12.1v12.1h-12.1zM241.2 1666.6h23.8v12.1h-23.8zM346.9 1666.6h23.8v12.1h-23.8zM264.6 1678.3h70.8v12.1h-70.8z" fill="#870000"/><path d="M241.2 1596.1h23.8v12.1h-23.8zM276.4 1596.1h70.8v12.1h-70.8zM229.4 1607.8h12.1v12.1h-12.1zM252.9 1607.8h12.1v12.1h-12.1zM229.4 1619.6h23.8v12.1h-23.8zM229.4 1631.3h12.1v12.1h-12.1zM370.4 1631.3h12.1v12.1h-12.1zM241.2 1654.8h12.1v12.1h-12.1zM264.6 1666.6h23.8v12.1h-23.8zM299.9 1666.6h12.1v12.1h-12.1zM323.4 1666.6h23.8v12.1h-23.8z" fill="#6e0404"/><path d="M241.2 1607.8h12.1v12.1h-12.1zM264.6 1607.8h12.1v12.1h-12.1zM299.9 1607.8h12.1v12.1h-12.1zM323.4 1607.8h35.5v12.1h-35.5zM346.9 1619.6h23.8v12.1h-23.8zM241.2 1631.3h12.1v12.1h-12.1zM358.6 1631.3h12.1v12.1h-12.1zM241.2 1643.1h12.1v12.1h-12.1zM346.9 1643.1h23.8v12.1h-23.8zM252.9 1654.8h23.8v12.1h-23.8zM346.9 1654.8h12.1v12.1h-12.1zM288.1 1666.6h12.1v12.1h-12.1zM311.6 1666.6h12.1v12.1h-12.1z" fill="#550707"/><path d="M276.4 1607.8h23.8v12.1h-23.8zM311.6 1607.8h12.1v12.1h-12.1zM252.9 1619.6h59v12.1h-59zM323.4 1619.6h23.8v12.1h-23.8zM252.9 1631.3h23.8v12.1h-23.8zM335.1 1631.3h23.8v12.1h-23.8zM252.9 1643.1h23.8v12.1h-23.8zM323.4 1643.1h23.8v12.1h-23.8zM276.4 1654.8h70.8v12.1h-70.8z" fill="#3e0909"/><path d="M311.6 1619.6h12.1v12.1h-12.1zM276.4 1631.3h59v12.1h-59zM276.4 1643.1h47.3v12.1h-47.3z" fill="#270b0b"/><path d="M147.2 1831.1h12.1v12.1h-12.1zM170.7 1842.8h12.1v12.1h-12.1z" fill="#fefedd"/></g>
<path d="M257.8 1625.3h24M269.8 1613.3v24" stroke="#889" stroke-width="1" fill="none"/>
<circle cx="269.8" cy="1624.5" r="239.7" fill="none" stroke="#0a0a0a" stroke-width="3.9"/>
<linearGradient id="dihgrad" x1="0" x2="1" y1="0" y2="0"><stop offset="0%" stop-color="#fdfdfd"/><stop offset="10%" stop-color="#ffffd0"/><stop offset="25%" stop-color="#ffff90"/><stop offset="38%" stop-color="#ffff50"/><stop offset="45%" stop-color="#f8d848"/><stop offset="50%" stop-color="#e8a838"/><stop offset="58%" stop-color="#dc8028"/><stop offset="66%" stop-color="#c84018"/><stop offset="74%" stop-color="#b01010"/><stop offset="82%" stop-color="#880000"/><stop offset="90%" stop-color="#500808"/><stop offset="100%" stop-color="#100c0c"/></linearGradient>
<rect x="88.6" y="1908.8" width="372.6" height="23.8" fill="url(#dihgrad)" stroke="#8a8a8a" stroke-width="1.2"/>
<g stroke="#555" stroke-width="1"><line x1="88.6" y1="1932.6" x2="88.6" y2="1939.8"/><line x1="107.2" y1="1932.6" x2="107.2" y2="1936.2"/><line x1="125.9" y1="1932.6" x2="125.9" y2="1939.8"/><line x1="144.5" y1="1932.6" x2="144.5" y2="1936.2"/><line x1="163.1" y1="1932.6" x2="163.1" y2="1939.8"/><line x1="181.8" y1="1932.6" x2="181.8" y2="1936.2"/><line x1="200.4" y1="1932.6" x2="200.4" y2="1939.8"/><line x1="219" y1="1932.6" x2="219" y2="1936.2"/><line x1="237.6" y1="1932.6" x2="237.6" y2="1939.8"/><line x1="256.3" y1="1932.6" x2="256.3" y2="1936.2"/><line x1="274.9" y1="1932.6" x2="274.9" y2="1939.8"/><line x1="293.5" y1="1932.6" x2="293.5" y2="1936.2"/><line x1="312.2" y1="1932.6" x2="312.2" y2="1939.8"/><line x1="330.8" y1="1932.6" x2="330.8" y2="1936.2"/><line x1="349.4" y1="1932.6" x2="349.4" y2="1939.8"/><line x1="368.1" y1="1932.6" x2="368.1" y2="1936.2"/><line x1="386.7" y1="1932.6" x2="386.7" y2="1939.8"/><line x1="405.3" y1="1932.6" x2="405.3" y2="1936.2"/><line x1="423.9" y1="1932.6" x2="423.9" y2="1939.8"/><line x1="442.6" y1="1932.6" x2="442.6" y2="1936.2"/><line x1="461.2" y1="1932.6" x2="461.2" y2="1939.8"/><line x1="274.9" y1="1901.8" x2="274.9" y2="1908.8"/></g>
<path d="M88.6 1908.3l-4 -7h8z" fill="#f0e020" stroke="#8a8a30" stroke-width="0.7"/>
<path d="M461.2 1908.3l-4 -7h8z" fill="#f0e020" stroke="#8a8a30" stroke-width="0.7"/>
<g font-family="Liberation Sans, sans-serif"><text x="93.9" y="1955.2" font-size="13.4" font-weight="bold" text-anchor="middle" fill="#151515">100%</text><text x="169.5" y="1955.2" font-size="13.4" font-weight="bold" text-anchor="middle" fill="#151515">60%</text><text x="244.5" y="1955.2" font-size="13.4" font-weight="bold" text-anchor="middle" fill="#151515">20%</text><text x="281.4" y="1955.2" font-size="13.4" font-weight="bold" text-anchor="middle" fill="#151515">0%</text><text x="318.3" y="1955.2" font-size="13.4" font-weight="bold" text-anchor="middle" fill="#151515">20%</text><text x="392" y="1955.2" font-size="13.4" font-weight="bold" text-anchor="middle" fill="#151515">60%</text><text x="468.3" y="1955.2" font-size="13.4" font-weight="bold" text-anchor="middle" fill="#151515">100%</text><text x="146.5" y="1896.9" font-size="13" font-weight="bold" fill="#151515" textLength="81" lengthAdjust="spacingAndGlyphs">EXTENSION</text><text x="337" y="1895.7" font-size="13" font-weight="bold" fill="#151515" textLength="105.5" lengthAdjust="spacingAndGlyphs">COMPRESSION</text><text x="80.5" y="2028" font-size="64.5" fill="#1a1512">Right-dihedral</text><text x="283.5" y="1364.6" font-size="70" font-weight="bold" text-anchor="middle" fill="#0d0b0a">N</text></g>
</g>
<g id="ey">
<circle cx="889" cy="1626.5" r="238.3" fill="#fbfbfb"/>
<path d="M889 1626.5L1133 1596.5A245.8 245.8 0 0 1 1074.5 1787.8ZM889 1626.5L645 1656.5A245.8 245.8 0 0 1 703.5 1465.2Z" fill="#74c8c6"/>
<line x1="1126.9" y1="1699.2" x2="651.1" y2="1553.8" stroke="#fff" stroke-width="2"/>
<path d="M638.7 1626.5H1140.3M889 1376.2V1876.8" stroke="#2a2a2a" stroke-width="1.5" fill="none"/>
<circle cx="889" cy="1626.5" r="238.3" fill="none" stroke="#0a0a0a" stroke-width="3"/>
<path d="M889 1557.4 L891.3 1569.7 L894.1 1566.5 L894.9 1584.2 L897.7 1578.3 L895.1 1599.4 L898.2 1592.8 L895.8 1604.5 L900.1 1595.2 L898 1604.2 L905.5 1591 L901.7 1601.3 L908.4 1591.2 L904.7 1599.9 L916.8 1584.4 L919.6 1584.6 L932.5 1570.5 L934.3 1574.4 L952 1561.6 L952.2 1567.2 L963 1563.1 L956.3 1572.4 L969.4 1565.6 L962.1 1575.9 L976.7 1569.5 L968 1578.9 L985.5 1572.8 L971 1583.9 L986.1 1581 L971.2 1591.9 L986.6 1591.2 L977.7 1598.6 L993.1 1599 L974.8 1607.6 L990.1 1609.1 L979.4 1614.7 L993.6 1616.7 L974.4 1623.3 L992.1 1628.3 L982.9 1633 L1009.9 1640.7 L997.4 1643.3 L1019.8 1651.4 L1013.2 1654.8 L1028.1 1662.6 L1018.2 1666.9 L1038.8 1679.9 L1022.6 1682 L1040.1 1696.3 L1025.4 1698.7 L1020.8 1705.3 L1001.3 1697.9 L1006.6 1707.1 L983.9 1699.2 L987.6 1708.7 L968.7 1700.8 L971.7 1709.8 L954.9 1697 L960.8 1710.7 L945.1 1699.3 L949.9 1711.6 L937.2 1698.4 L937.6 1705.2 L926.3 1695 L926.1 1703.5 L918.3 1692.4 L918.1 1698.6 L911.3 1687 L912.6 1697 L904.8 1683.1 L904.6 1690.4 L898.5 1674.4 L898.7 1688.2 L894.5 1670.8 L893.7 1688.9 L891.3 1681.1 L889 1695.6 L886.7 1683.3 L883.9 1686.5 L883.1 1668.8 L880.3 1674.7 L882.9 1653.6 L879.8 1660.2 L882.2 1648.5 L877.9 1657.8 L880 1648.8 L872.5 1662 L876.3 1651.7 L869.6 1661.8 L873.3 1653.1 L861.2 1668.6 L858.4 1668.4 L845.5 1682.5 L843.7 1678.6 L826 1691.4 L825.8 1685.8 L815 1689.9 L821.7 1680.6 L808.6 1687.4 L815.9 1677.1 L801.3 1683.5 L810 1674.1 L792.5 1680.2 L807 1669.1 L791.9 1672 L806.8 1661.1 L791.4 1661.8 L800.3 1654.4 L784.9 1654 L803.2 1645.4 L787.9 1643.9 L798.6 1638.3 L784.4 1636.3 L803.6 1629.7 L785.9 1624.7 L795.1 1620 L768.1 1612.3 L780.6 1609.7 L758.2 1601.6 L764.8 1598.2 L749.9 1590.4 L759.8 1586.1 L739.2 1573.1 L755.4 1571 L737.9 1556.7 L752.6 1554.3 L757.2 1547.7 L776.7 1555.1 L771.4 1545.9 L794.1 1553.8 L790.4 1544.3 L809.3 1552.2 L806.3 1543.2 L823.1 1556 L817.2 1542.3 L832.9 1553.7 L828.1 1541.4 L840.8 1554.6 L840.4 1547.8 L851.7 1558 L851.9 1549.5 L859.7 1560.6 L859.9 1554.4 L866.7 1566 L865.4 1556 L873.2 1569.9 L873.4 1562.6 L879.5 1578.6 L879.3 1564.8 L883.5 1582.2 L884.3 1564.1 L886.7 1571.9Z" fill="#ffff00" stroke="#0a0a0a" stroke-width="2.2" stroke-linejoin="miter"/>
<g font-family="Liberation Sans, sans-serif"><text x="882.2" y="1358" font-size="70" font-weight="bold" text-anchor="middle" fill="#0d0b0a">N</text><text x="695.5" y="1930.8" font-size="51.5" fill="#1a1512">Deym</text><text x="851.5" y="1930.8" font-size="51.5" fill="#1a1512">107º</text><text x="973" y="1930.8" font-size="51.5" fill="#1a1512">+</text><text x="1017" y="1930.8" font-size="51.5" fill="#1a1512">24º</text><line x1="972.5" y1="1937.5" x2="1003.8" y2="1937.5" stroke="#1a1512" stroke-width="2.6"/><text x="721" y="2034" font-size="64.5" fill="#1a1512">e</text><text x="759" y="2038" font-size="40" fill="#1a1512">y</text><text x="796" y="2034" font-size="64.5" fill="#1a1512">solutions</text></g>
</g>
<g id="kdiag">
<clipPath id="ktri"><path d="M1559.2 1388A716.7 716.7 0 0 0 1297.5 1843.3A732 732 0 0 0 1820.9 1843.3A716.7 716.7 0 0 0 1559.2 1388Z"/></clipPath>
<clipPath id="kL"><rect x="1200" y="1300" width="359.2" height="700"/></clipPath>
<clipPath id="kR"><rect x="1559.2" y="1300" width="400" height="700"/></clipPath>
<g clip-path="url(#ktri)"><g clip-path="url(#kL)"><rect x="1250" y="1350" width="620" height="600" fill="#9a9aff"/><circle cx="1559.2" cy="1185.7" r="606" fill="#a4d8f2"/><circle cx="1559.2" cy="1249.5" r="384.7" fill="#cdd5ff"/><circle cx="1559.2" cy="1361.4" r="121.9" fill="#aaaaaa"/><g fill="none" stroke="#e8e8e0" stroke-width="0.8" opacity="0.5"><circle cx="1559.2" cy="1361.4" r="147"/><path d="M1395 1610L1722 1790M1723 1610L1396 1790M1396 1790l8 -9M1722 1790l-8 -9"/></g><circle cx="1559.2" cy="1185.7" r="604.5" fill="none" stroke="#1c1a78" stroke-width="4.4"/><circle cx="1559.2" cy="1249.5" r="383.2" fill="none" stroke="#1c1a78" stroke-width="4.4"/><circle cx="1559.2" cy="1361.4" r="120.4" fill="none" stroke="#1c1a78" stroke-width="4.4"/></g></g>
<g clip-path="url(#ktri)"><g clip-path="url(#kR)"><rect x="1250" y="1350" width="620" height="600" fill="#e27a74"/><circle cx="1559.2" cy="1185.7" r="606" fill="#f4b98a"/><circle cx="1559.2" cy="1249.5" r="384.7" fill="#ffdc6e"/><circle cx="1559.2" cy="1361.4" r="121.9" fill="#aaaaaa"/><g fill="none" stroke="#e8e8e0" stroke-width="0.8" opacity="0.5"><circle cx="1559.2" cy="1361.4" r="147"/><path d="M1395 1610L1722 1790M1723 1610L1396 1790M1396 1790l8 -9M1722 1790l-8 -9"/></g><circle cx="1559.2" cy="1185.7" r="604.5" fill="none" stroke="#dc2020" stroke-width="4.4"/><circle cx="1559.2" cy="1249.5" r="383.2" fill="none" stroke="#dc2020" stroke-width="4.4"/><circle cx="1559.2" cy="1361.4" r="120.4" fill="none" stroke="#dc2020" stroke-width="4.4"/></g></g>
<path d="M1559.2 1388A716.7 716.7 0 0 0 1297.5 1843.3A732 732 0 0 0 1820.9 1843.3A716.7 716.7 0 0 0 1559.2 1388Z" fill="none" stroke="#0a0a0a" stroke-width="2.7" stroke-linejoin="miter"/>
<line x1="1559.2" y1="1388" x2="1559.2" y2="1892" stroke="#0a0a0a" stroke-width="2.2"/>
<g stroke="#0a0a0a" stroke-width="1.8"><line x1="1512.3" y1="1428.9" x2="1509.2" y2="1425.7"/><line x1="1606.1" y1="1428.9" x2="1609.2" y2="1425.7"/><line x1="1471.3" y1="1471.3" x2="1468" y2="1468.3"/><line x1="1647.1" y1="1471.3" x2="1650.4" y2="1468.3"/><line x1="1433.5" y1="1517.5" x2="1429.9" y2="1514.8"/><line x1="1684.9" y1="1517.5" x2="1688.5" y2="1514.8"/><line x1="1399.3" y1="1567.3" x2="1395.5" y2="1564.9"/><line x1="1719.1" y1="1567.3" x2="1722.9" y2="1564.9"/><line x1="1369.4" y1="1619.8" x2="1365.4" y2="1617.7"/><line x1="1749" y1="1619.8" x2="1753" y2="1617.7"/><line x1="1344.6" y1="1673.3" x2="1340.4" y2="1671.5"/><line x1="1773.8" y1="1673.3" x2="1778" y2="1671.5"/><line x1="1344.9" y1="1672.4" x2="1340.8" y2="1670.7"/><line x1="1773.5" y1="1672.4" x2="1777.6" y2="1670.7"/><line x1="1325.7" y1="1724.1" x2="1321.4" y2="1722.7"/><line x1="1792.7" y1="1724.1" x2="1797" y2="1722.7"/><line x1="1308.9" y1="1783.7" x2="1304.5" y2="1782.6"/><line x1="1809.5" y1="1783.7" x2="1813.9" y2="1782.6"/><line x1="1297.5" y1="1843.3" x2="1293" y2="1842.6"/><line x1="1820.9" y1="1843.3" x2="1825.4" y2="1842.6"/><line x1="1353.8" y1="1862.6" x2="1352.4" y2="1867.4"/><line x1="1411.5" y1="1876.9" x2="1410.5" y2="1881.8"/><line x1="1470.2" y1="1886.6" x2="1469.6" y2="1891.5"/><line x1="1529.5" y1="1891.4" x2="1529.3" y2="1896.4"/><line x1="1588.9" y1="1891.4" x2="1589.1" y2="1896.4"/><line x1="1648.2" y1="1886.6" x2="1648.8" y2="1891.5"/><line x1="1706.9" y1="1876.9" x2="1707.9" y2="1881.8"/><line x1="1764.6" y1="1862.6" x2="1766" y2="1867.4"/></g>
<g stroke="#dc2020" stroke-width="1.6"><line x1="1634" y1="1457.5" x2="1640" y2="1457.5"/><line x1="1733.5" y1="1592.5" x2="1739.5" y2="1592.5"/><line x1="1799" y1="1743.5" x2="1804" y2="1743.5"/><line x1="1822" y1="1843.5" x2="1828" y2="1843.5"/></g>
<g fill="none" stroke="#0a0a0a" stroke-width="1.7"><path stroke-width="2.4" d="M1503.3 1389.2A775.3 775.3 0 0 0 1442.3 1453.3"/><line stroke-width="2.4" x1="1498.8" y1="1389.2" x2="1507.8" y2="1389.2"/><line stroke-width="2.4" x1="1437.8" y1="1453.3" x2="1446.8" y2="1453.3"/><path stroke-width="2.4" d="M1435.2 1461.8A775.3 775.3 0 0 0 1349.6 1589.6"/><line stroke-width="2.4" x1="1430.7" y1="1461.8" x2="1439.7" y2="1461.8"/><line stroke-width="2.4" x1="1345.1" y1="1589.6" x2="1354.1" y2="1589.6"/><path stroke-width="2.4" d="M1345.3 1597.7A775.3 775.3 0 0 0 1291.1 1731.2"/><line stroke-width="2.4" x1="1340.8" y1="1597.7" x2="1349.8" y2="1597.7"/><line stroke-width="2.4" x1="1286.6" y1="1731.2" x2="1295.6" y2="1731.2"/><path stroke-width="2.4" d="M1288.6 1739.7A775.3 775.3 0 0 0 1267.8 1832.6"/><line stroke-width="2.4" x1="1284.1" y1="1739.7" x2="1293.1" y2="1739.7"/><line stroke-width="2.4" x1="1263.3" y1="1832.6" x2="1272.3" y2="1832.6"/><path stroke-width="1.5" d="M1615.1 1389.2A775.3 775.3 0 0 1 1676.1 1453.3"/><line stroke-width="1.5" x1="1610.6" y1="1389.2" x2="1619.6" y2="1389.2"/><line stroke-width="1.5" x1="1671.6" y1="1453.3" x2="1680.6" y2="1453.3"/><path stroke-width="1.5" d="M1683.2 1461.8A775.3 775.3 0 0 1 1768.8 1589.6"/><line stroke-width="1.5" x1="1678.7" y1="1461.8" x2="1687.7" y2="1461.8"/><line stroke-width="1.5" x1="1764.3" y1="1589.6" x2="1773.3" y2="1589.6"/><path stroke-width="1.5" d="M1773.1 1597.7A775.3 775.3 0 0 1 1827.3 1731.2"/><line stroke-width="1.5" x1="1768.6" y1="1597.7" x2="1777.6" y2="1597.7"/><line stroke-width="1.5" x1="1822.8" y1="1731.2" x2="1831.8" y2="1731.2"/><path stroke-width="1.5" d="M1829.8 1739.7A775.3 775.3 0 0 1 1850.6 1832.6"/><line stroke-width="1.5" x1="1825.3" y1="1739.7" x2="1834.3" y2="1739.7"/><line stroke-width="1.5" x1="1846.1" y1="1832.6" x2="1855.1" y2="1832.6"/></g>
<g fill="#141414"><circle cx="1550" cy="1628.3" r="8.4"/><circle cx="1405.7" cy="1645" r="8.4"/><circle cx="1538.3" cy="1646.7" r="8.4"/><circle cx="1525.7" cy="1658.3" r="8.4"/><circle cx="1418.3" cy="1693.3" r="8.4"/><circle cx="1496" cy="1693.3" r="8.4"/><circle cx="1491.7" cy="1720" r="8.4"/><circle cx="1556" cy="1725" r="8.4"/><circle cx="1555" cy="1736.7" r="8.4"/><circle cx="1378.3" cy="1726.7" r="8.4"/><circle cx="1365" cy="1735" r="8.4"/><circle cx="1416.7" cy="1736.7" r="8.4"/><circle cx="1418.3" cy="1745" r="8.4"/><circle cx="1429.3" cy="1752.7" r="8.4"/><circle cx="1360" cy="1760.7" r="8.4"/><circle cx="1499.3" cy="1760.7" r="8.4"/><circle cx="1550" cy="1767.3" r="8.4"/><circle cx="1416.7" cy="1774.3" r="8.4"/><circle cx="1321.7" cy="1761.7" r="8.4"/><circle cx="1319.3" cy="1775" r="8.4"/><circle cx="1630" cy="1627.3" r="8.4"/><circle cx="1801.7" cy="1758.3" r="8.4"/><circle cx="1386.7" cy="1780.7" r="8.4"/><circle cx="1449.3" cy="1785" r="8.4"/><circle cx="1485" cy="1792.7" r="8.4"/><circle cx="1532.7" cy="1783.3" r="8.4"/><circle cx="1542.7" cy="1787.3" r="8.4"/><circle cx="1348.3" cy="1795" r="8.4"/><circle cx="1375" cy="1794" r="8.4"/><circle cx="1421.7" cy="1803.3" r="8.4"/><circle cx="1445" cy="1802.7" r="8.4"/><circle cx="1473.3" cy="1804" r="8.4"/><circle cx="1536.7" cy="1801.7" r="8.4"/><circle cx="1306.7" cy="1807.7" r="8.4"/><circle cx="1350" cy="1806.7" r="8.4"/><circle cx="1376.7" cy="1806.7" r="8.4"/><circle cx="1340" cy="1815" r="8.4"/><circle cx="1396" cy="1812.7" r="8.4"/><circle cx="1408.3" cy="1818.3" r="8.4"/><circle cx="1448.3" cy="1815" r="8.4"/><circle cx="1466.7" cy="1810" r="8.4"/><circle cx="1524" cy="1811.7" r="8.4"/><circle cx="1546" cy="1813.3" r="8.4"/><circle cx="1301.7" cy="1826.7" r="8.4"/><circle cx="1313.3" cy="1825" r="8.4"/><circle cx="1338.3" cy="1828.3" r="8.4"/><circle cx="1366.7" cy="1825" r="8.4"/><circle cx="1403.3" cy="1831.7" r="8.4"/><circle cx="1423.3" cy="1830" r="8.4"/><circle cx="1446.7" cy="1825" r="8.4"/><circle cx="1473.3" cy="1831.7" r="8.4"/><circle cx="1518.3" cy="1823.3" r="8.4"/><circle cx="1303.3" cy="1838.3" r="8.4"/><circle cx="1311.7" cy="1836.7" r="8.4"/><circle cx="1336.7" cy="1836.7" r="8.4"/><circle cx="1360" cy="1840" r="8.4"/><circle cx="1370" cy="1843.3" r="8.4"/><circle cx="1383.3" cy="1846.7" r="8.4"/><circle cx="1400" cy="1843.3" r="8.4"/><circle cx="1408.3" cy="1848.3" r="8.4"/><circle cx="1431.7" cy="1836.7" r="8.4"/><circle cx="1440" cy="1841.7" r="8.4"/><circle cx="1455" cy="1840" r="8.4"/><circle cx="1325" cy="1850" r="8.4"/><circle cx="1346.7" cy="1850" r="8.4"/><circle cx="1358.3" cy="1853.3" r="8.4"/><circle cx="1371.7" cy="1855" r="8.4"/><circle cx="1386.7" cy="1860" r="8.4"/><circle cx="1431.7" cy="1853.3" r="8.4"/><circle cx="1446.7" cy="1853.3" r="8.4"/><circle cx="1470" cy="1860" r="8.4"/><circle cx="1478.3" cy="1860" r="8.4"/><circle cx="1494" cy="1853.3" r="8.4"/><circle cx="1535" cy="1851.7" r="8.4"/><circle cx="1548.3" cy="1851.7" r="8.4"/><circle cx="1433.3" cy="1868.3" r="8.4"/><circle cx="1441.7" cy="1866.7" r="8.4"/><circle cx="1513.3" cy="1861.7" r="8.4"/><circle cx="1523.3" cy="1868.3" r="8.4"/><circle cx="1531.7" cy="1860" r="8.4"/><circle cx="1530.7" cy="1878.3" r="8.4"/><circle cx="1436.7" cy="1873.3" r="8.4"/><circle cx="1724" cy="1804" r="8.4"/><circle cx="1760" cy="1819.3" r="8.4"/><circle cx="1753.3" cy="1824" r="8.4"/><circle cx="1697.3" cy="1831.7" r="8.4"/><circle cx="1760" cy="1834" r="8.4"/><circle cx="1746.7" cy="1839.3" r="8.4"/><circle cx="1750" cy="1850" r="8.4"/><circle cx="1701.7" cy="1868.3" r="8.4"/><circle cx="1803.3" cy="1821.7" r="8.4"/><circle cx="1815" cy="1825" r="8.4"/><circle cx="1802.7" cy="1831.7" r="8.4"/></g>
<g font-family="Liberation Sans, sans-serif"><text x="1305" y="1414.2" font-size="30" textLength="164" fill="#1c1a78" font-weight="bold" font-style="italic">10 &lt; K´ &lt; <tspan fill="#111" font-weight="normal" font-style="normal">∞</tspan></text><text x="1216" y="1520.8" font-size="30" textLength="158" fill="#1c1a78" font-weight="bold" font-style="italic">1 &lt; K´ &lt; 10</text><text x="1155" y="1671.7" font-size="30" textLength="142" fill="#1c1a78" font-weight="bold" font-style="italic">0 &lt; K´ &lt; 1</text><text x="1085" y="1800" font-size="30" textLength="183" fill="#1c1a78" font-weight="bold" font-style="italic">-0,5 &lt; K´ &lt; 0</text><text x="1437" y="1450" font-size="25.5" font-weight="bold" text-anchor="end" fill="#1c1a78">10</text><text x="1376" y="1595" font-size="25.5" font-weight="bold" text-anchor="end" fill="#1c1a78">1</text><text x="1310" y="1746.5" font-size="10" font-weight="bold" text-anchor="middle" fill="#1c1a78">0</text><text x="1291" y="1852.5" font-size="26.5" font-weight="bold" text-anchor="end" fill="#1c1a78">-0,5</text><text x="1654" y="1423.8" font-size="30" textLength="171" fill="#dc2020" font-weight="bold" font-style="italic"><tspan font-weight="normal" font-style="normal">∞</tspan> &gt; K´ &gt; -11</text><text x="1742.5" y="1518.8" font-size="30" textLength="181" fill="#dc2020" font-weight="bold" font-style="italic">-11 &gt; K´ &gt; -2</text><text x="1824" y="1677.5" font-size="30" textLength="164" fill="#dc2020" font-weight="bold" font-style="italic">-2 &gt; K´ &gt; -1</text><text x="1856.5" y="1783.8" font-size="30" textLength="192" fill="#dc2020" font-weight="bold" font-style="italic">-1 &gt; K´ &gt; -0,5</text><text x="1692.5" y="1463" font-size="25.5" font-weight="bold" fill="#dc2020">-11</text><text x="1784" y="1596.3" font-size="25.5" font-weight="bold" fill="#dc2020">-2</text><text x="1807" y="1747.5" font-size="10" font-weight="bold" fill="#dc2020">-1</text><text x="1846.5" y="1853.3" font-size="26.5" font-weight="bold" fill="#dc2020">-0,5</text><text x="1301.7" y="1874" font-size="25.5" font-weight="bold" text-anchor="middle" fill="#989898">0</text><text x="1359.5" y="1893.5" font-size="25.5" font-weight="bold" text-anchor="middle" fill="#989898">10</text><text x="1420" y="1914" font-size="25.5" font-weight="bold" text-anchor="middle" fill="#989898">20</text><text x="1481.7" y="1923.5" font-size="25.5" font-weight="bold" text-anchor="middle" fill="#989898">30</text><text x="1538.3" y="1927.5" font-size="25.5" font-weight="bold" text-anchor="middle" fill="#989898">40</text><text x="1599" y="1926.8" font-size="25.5" font-weight="bold" text-anchor="middle" fill="#989898">50</text><text x="1661" y="1923" font-size="25.5" font-weight="bold" text-anchor="middle" fill="#989898">60</text><text x="1722.8" y="1913" font-size="25.5" font-weight="bold" text-anchor="middle" fill="#989898">70</text><text x="1776.5" y="1899.3" font-size="25.5" font-weight="bold" text-anchor="middle" fill="#989898">80</text><text x="1834" y="1880.5" font-size="25.5" font-weight="bold" text-anchor="middle" fill="#989898">90</text><text x="1401" y="2030" font-size="64.5" fill="#1a1512">k´ diagram</text></g>
</g>
</svg>
</body></html>
